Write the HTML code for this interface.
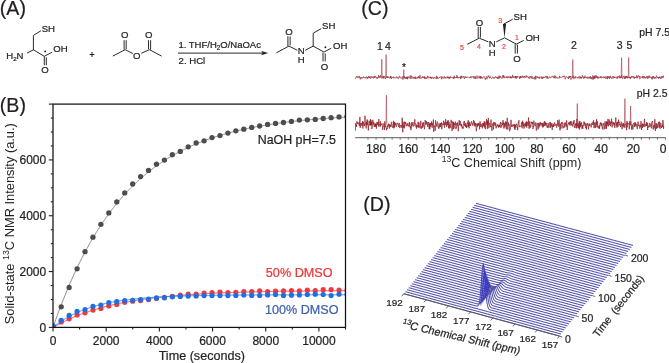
<!DOCTYPE html>
<html><head><meta charset="utf-8"><style>
html,body{margin:0;padding:0;background:#fff;width:669px;height:363px;overflow:hidden}
svg{display:block;will-change:transform}
text{font-family:"Liberation Sans", sans-serif;stroke-width:0.22px}
</style></head><body>
<svg width="669" height="363" viewBox="0 0 669 363">
<rect width="669" height="363" fill="#fff"/>
<text x="-0.20" y="14.70" font-size="19.6" fill="#231f20" stroke="#231f20" text-anchor="start" >(A)</text>
<text x="361.30" y="14.70" font-size="19.6" fill="#231f20" stroke="#231f20" text-anchor="start" >(C)</text>
<text x="-0.20" y="111.80" font-size="19.6" fill="#231f20" stroke="#231f20" text-anchor="start" >(B)</text>
<text x="363.30" y="210.90" font-size="19.6" fill="#231f20" stroke="#231f20" text-anchor="start" >(D)</text>
<defs><clipPath id="cpB"><rect x="53.0" y="104.1" width="292.5" height="223.29999999999998"/></clipPath></defs>
<polyline points="53.00,327.40 53.66,325.48 54.33,323.58 54.99,321.69 55.66,319.83 56.32,317.97 56.99,316.14 57.65,314.32 58.32,312.52 58.98,310.73 59.65,308.96 60.31,307.21 60.98,305.47 61.64,303.75 62.31,302.04 62.97,300.35 63.64,298.67 64.30,297.01 64.97,295.36 65.63,293.73 66.30,292.11 66.96,290.51 67.62,288.92 68.29,287.35 68.95,285.79 69.62,284.24 70.28,282.71 70.95,281.19 71.61,279.68 72.28,278.19 72.94,276.71 73.61,275.25 74.27,273.79 74.94,272.35 75.60,270.93 76.27,269.51 76.93,268.11 77.60,266.73 78.26,265.35 78.93,263.99 79.59,262.63 80.26,261.30 80.92,259.97 81.59,258.65 82.25,257.35 82.91,256.06 83.58,254.78 84.24,253.51 84.91,252.25 85.57,251.00 86.24,249.77 86.90,248.54 87.57,247.33 88.23,246.13 88.90,244.94 89.56,243.76 90.23,242.59 90.89,241.43 91.56,240.28 92.22,239.14 92.89,238.01 93.55,236.89 94.22,235.78 94.88,234.68 95.55,233.59 96.21,232.51 96.88,231.44 97.54,230.38 98.20,229.33 98.87,228.29 99.53,227.26 100.20,226.24 100.86,225.22 101.53,224.22 102.19,223.22 102.86,222.24 103.52,221.26 104.19,220.29 104.85,219.33 105.52,218.38 106.18,217.44 106.85,216.50 107.51,215.58 108.18,214.66 108.84,213.75 109.51,212.85 110.17,211.95 110.84,211.07 111.50,210.19 112.16,209.32 112.83,208.46 113.49,207.60 114.16,206.76 114.82,205.92 115.49,205.09 116.15,204.26 116.82,203.44 117.48,202.64 118.15,201.83 118.81,201.04 119.48,200.25 120.14,199.47 120.81,198.70 121.47,197.93 122.14,197.17 122.80,196.42 123.47,195.67 124.13,194.93 124.80,194.20 125.46,193.47 126.12,192.75 126.79,192.04 127.45,191.33 128.12,190.63 128.78,189.93 129.45,189.24 130.11,188.56 130.78,187.89 131.44,187.22 132.11,186.55 132.77,185.89 133.44,185.24 134.10,184.59 134.77,183.95 135.43,183.32 136.10,182.69 136.76,182.07 137.43,181.45 138.09,180.84 138.76,180.23 139.42,179.63 140.09,179.03 140.75,178.44 141.41,177.85 142.08,177.27 142.74,176.70 143.41,176.13 144.07,175.56 144.74,175.00 145.40,174.45 146.07,173.90 146.73,173.35 147.40,172.81 148.06,172.28 148.73,171.75 149.39,171.22 150.06,170.70 150.72,170.19 151.39,169.67 152.05,169.17 152.72,168.66 153.38,168.17 154.05,167.67 154.71,167.18 155.38,166.70 156.04,166.22 156.70,165.74 157.37,165.27 158.03,164.80 158.70,164.34 159.36,163.88 160.03,163.43 160.69,162.97 161.36,162.53 162.02,162.08 162.69,161.64 163.35,161.21 164.02,160.78 164.68,160.35 165.35,159.93 166.01,159.51 166.68,159.09 167.34,158.68 168.01,158.27 168.67,157.87 169.34,157.46 170.00,157.07 170.66,156.67 171.33,156.28 171.99,155.89 172.66,155.51 173.32,155.13 173.99,154.75 174.65,154.38 175.32,154.01 175.98,153.64 176.65,153.28 177.31,152.92 177.98,152.56 178.64,152.21 179.31,151.86 179.97,151.51 180.64,151.16 181.30,150.82 181.97,150.49 182.63,150.15 183.30,149.82 183.96,149.49 184.62,149.16 185.29,148.84 185.95,148.52 186.62,148.20 187.28,147.89 187.95,147.57 188.61,147.26 189.28,146.96 189.94,146.65 190.61,146.35 191.27,146.05 191.94,145.76 192.60,145.47 193.27,145.18 193.93,144.89 194.60,144.60 195.26,144.32 195.93,144.04 196.59,143.76 197.26,143.49 197.92,143.21 198.59,142.94 199.25,142.68 199.91,142.41 200.58,142.15 201.24,141.89 201.91,141.63 202.57,141.37 203.24,141.12 203.90,140.87 204.57,140.62 205.23,140.37 205.90,140.13 206.56,139.88 207.23,139.64 207.89,139.41 208.56,139.17 209.22,138.94 209.89,138.70 210.55,138.47 211.22,138.25 211.88,138.02 212.55,137.80 213.21,137.58 213.88,137.36 214.54,137.14 215.20,136.92 215.87,136.71 216.53,136.50 217.20,136.29 217.86,136.08 218.53,135.87 219.19,135.67 219.86,135.46 220.52,135.26 221.19,135.06 221.85,134.87 222.52,134.67 223.18,134.48 223.85,134.29 224.51,134.10 225.18,133.91 225.84,133.72 226.51,133.54 227.17,133.35 227.84,133.17 228.50,132.99 229.16,132.81 229.83,132.63 230.49,132.46 231.16,132.28 231.82,132.11 232.49,131.94 233.15,131.77 233.82,131.60 234.48,131.44 235.15,131.27 235.81,131.11 236.48,130.95 237.14,130.79 237.81,130.63 238.47,130.47 239.14,130.31 239.80,130.16 240.47,130.01 241.13,129.85 241.80,129.70 242.46,129.55 243.12,129.41 243.79,129.26 244.45,129.12 245.12,128.97 245.78,128.83 246.45,128.69 247.11,128.55 247.78,128.41 248.44,128.27 249.11,128.13 249.77,128.00 250.44,127.86 251.10,127.73 251.77,127.60 252.43,127.47 253.10,127.34 253.76,127.21 254.43,127.09 255.09,126.96 255.76,126.84 256.42,126.71 257.09,126.59 257.75,126.47 258.41,126.35 259.08,126.23 259.74,126.11 260.41,125.99 261.07,125.88 261.74,125.76 262.40,125.65 263.07,125.53 263.73,125.42 264.40,125.31 265.06,125.20 265.73,125.09 266.39,124.99 267.06,124.88 267.72,124.77 268.39,124.67 269.05,124.56 269.72,124.46 270.38,124.36 271.05,124.26 271.71,124.16 272.38,124.06 273.04,123.96 273.70,123.86 274.37,123.76 275.03,123.67 275.70,123.57 276.36,123.48 277.03,123.38 277.69,123.29 278.36,123.20 279.02,123.11 279.69,123.02 280.35,122.93 281.02,122.84 281.68,122.75 282.35,122.66 283.01,122.58 283.68,122.49 284.34,122.41 285.01,122.32 285.67,122.24 286.34,122.16 287.00,122.08 287.66,122.00 288.33,121.92 288.99,121.84 289.66,121.76 290.32,121.68 290.99,121.60 291.65,121.53 292.32,121.45 292.98,121.37 293.65,121.30 294.31,121.23 294.98,121.15 295.64,121.08 296.31,121.01 296.97,120.94 297.64,120.86 298.30,120.79 298.97,120.73 299.63,120.66 300.30,120.59 300.96,120.52 301.62,120.45 302.29,120.39 302.95,120.32 303.62,120.26 304.28,120.19 304.95,120.13 305.61,120.06 306.28,120.00 306.94,119.94 307.61,119.88 308.27,119.82 308.94,119.75 309.60,119.69 310.27,119.63 310.93,119.58 311.60,119.52 312.26,119.46 312.93,119.40 313.59,119.34 314.26,119.29 314.92,119.23 315.59,119.18 316.25,119.12 316.91,119.07 317.58,119.01 318.24,118.96 318.91,118.91 319.57,118.85 320.24,118.80 320.90,118.75 321.57,118.70 322.23,118.65 322.90,118.60 323.56,118.55 324.23,118.50 324.89,118.45 325.56,118.40 326.22,118.35 326.89,118.31 327.55,118.26 328.22,118.21 328.88,118.16 329.55,118.12 330.21,118.07 330.88,118.03 331.54,117.98 332.20,117.94 332.87,117.90 333.53,117.85 334.20,117.81 334.86,117.77 335.53,117.72 336.19,117.68 336.86,117.64 337.52,117.60 338.19,117.56 338.85,117.52 339.52,117.48 340.18,117.44 340.85,117.40 341.51,117.36 342.18,117.32 342.84,117.28 343.51,117.24 344.17,117.21 344.84,117.17 345.50,117.13" fill="none" stroke="#6d6e71" stroke-width="0.8" clip-path="url(#cpB)"/>
<g fill="#4d4d4f" clip-path="url(#cpB)"><circle cx="53.26" cy="327.30" r="2.65"/><circle cx="61.20" cy="306.80" r="2.65"/><circle cx="69.14" cy="287.50" r="2.65"/><circle cx="77.08" cy="268.80" r="2.65"/><circle cx="85.02" cy="251.70" r="2.65"/><circle cx="92.95" cy="237.20" r="2.65"/><circle cx="100.89" cy="224.30" r="2.65"/><circle cx="108.83" cy="212.90" r="2.65"/><circle cx="116.77" cy="201.90" r="2.65"/><circle cx="124.71" cy="192.90" r="2.65"/><circle cx="132.65" cy="184.00" r="2.65"/><circle cx="140.59" cy="176.60" r="2.65"/><circle cx="148.53" cy="170.40" r="2.65"/><circle cx="156.47" cy="164.20" r="2.65"/><circle cx="164.41" cy="160.10" r="2.65"/><circle cx="172.34" cy="154.70" r="2.65"/><circle cx="180.28" cy="151.40" r="2.65"/><circle cx="188.22" cy="146.80" r="2.65"/><circle cx="196.16" cy="143.00" r="2.65"/><circle cx="204.10" cy="140.80" r="2.65"/><circle cx="212.04" cy="137.60" r="2.65"/><circle cx="219.98" cy="135.60" r="2.65"/><circle cx="227.92" cy="133.10" r="2.65"/><circle cx="235.86" cy="130.80" r="2.65"/><circle cx="243.80" cy="129.20" r="2.65"/><circle cx="251.73" cy="127.40" r="2.65"/><circle cx="259.67" cy="126.00" r="2.65"/><circle cx="267.61" cy="124.40" r="2.65"/><circle cx="275.55" cy="123.40" r="2.65"/><circle cx="283.49" cy="122.50" r="2.65"/><circle cx="291.43" cy="121.40" r="2.65"/><circle cx="299.37" cy="120.10" r="2.65"/><circle cx="307.31" cy="119.80" r="2.65"/><circle cx="315.25" cy="119.40" r="2.65"/><circle cx="323.19" cy="118.50" r="2.65"/><circle cx="331.12" cy="117.70" r="2.65"/><circle cx="339.06" cy="116.90" r="2.65"/><circle cx="347.00" cy="116.60" r="2.65"/></g>
<polyline points="53.00,327.40 53.66,327.02 54.33,326.63 54.99,326.26 55.66,325.88 56.32,325.52 56.99,325.15 57.65,324.79 58.32,324.43 58.98,324.08 59.65,323.73 60.31,323.38 60.98,323.04 61.64,322.70 62.31,322.36 62.97,322.03 63.64,321.70 64.30,321.38 64.97,321.05 65.63,320.73 66.30,320.42 66.96,320.11 67.62,319.80 68.29,319.49 68.95,319.19 69.62,318.89 70.28,318.59 70.95,318.30 71.61,318.01 72.28,317.72 72.94,317.44 73.61,317.16 74.27,316.88 74.94,316.60 75.60,316.33 76.27,316.06 76.93,315.79 77.60,315.53 78.26,315.26 78.93,315.01 79.59,314.75 80.26,314.50 80.92,314.25 81.59,314.00 82.25,313.75 82.91,313.51 83.58,313.27 84.24,313.03 84.91,312.79 85.57,312.56 86.24,312.33 86.90,312.10 87.57,311.87 88.23,311.65 88.90,311.43 89.56,311.21 90.23,310.99 90.89,310.78 91.56,310.57 92.22,310.36 92.89,310.15 93.55,309.94 94.22,309.74 94.88,309.54 95.55,309.34 96.21,309.14 96.88,308.94 97.54,308.75 98.20,308.56 98.87,308.37 99.53,308.18 100.20,308.00 100.86,307.81 101.53,307.63 102.19,307.45 102.86,307.27 103.52,307.10 104.19,306.92 104.85,306.75 105.52,306.58 106.18,306.41 106.85,306.24 107.51,306.08 108.18,305.91 108.84,305.75 109.51,305.59 110.17,305.43 110.84,305.28 111.50,305.12 112.16,304.97 112.83,304.81 113.49,304.66 114.16,304.51 114.82,304.37 115.49,304.22 116.15,304.08 116.82,303.93 117.48,303.79 118.15,303.65 118.81,303.51 119.48,303.38 120.14,303.24 120.81,303.11 121.47,302.97 122.14,302.84 122.80,302.71 123.47,302.58 124.13,302.45 124.80,302.33 125.46,302.20 126.12,302.08 126.79,301.96 127.45,301.84 128.12,301.72 128.78,301.60 129.45,301.48 130.11,301.37 130.78,301.25 131.44,301.14 132.11,301.02 132.77,300.91 133.44,300.80 134.10,300.69 134.77,300.59 135.43,300.48 136.10,300.37 136.76,300.27 137.43,300.16 138.09,300.06 138.76,299.96 139.42,299.86 140.09,299.76 140.75,299.66 141.41,299.57 142.08,299.47 142.74,299.37 143.41,299.28 144.07,299.19 144.74,299.09 145.40,299.00 146.07,298.91 146.73,298.82 147.40,298.73 148.06,298.65 148.73,298.56 149.39,298.47 150.06,298.39 150.72,298.30 151.39,298.22 152.05,298.14 152.72,298.06 153.38,297.98 154.05,297.90 154.71,297.82 155.38,297.74 156.04,297.66 156.70,297.59 157.37,297.51 158.03,297.44 158.70,297.36 159.36,297.29 160.03,297.22 160.69,297.14 161.36,297.07 162.02,297.00 162.69,296.93 163.35,296.86 164.02,296.80 164.68,296.73 165.35,296.66 166.01,296.59 166.68,296.53 167.34,296.46 168.01,296.40 168.67,296.34 169.34,296.27 170.00,296.21 170.66,296.15 171.33,296.09 171.99,296.03 172.66,295.97 173.32,295.91 173.99,295.85 174.65,295.79 175.32,295.74 175.98,295.68 176.65,295.62 177.31,295.57 177.98,295.51 178.64,295.46 179.31,295.41 179.97,295.35 180.64,295.30 181.30,295.25 181.97,295.20 182.63,295.15 183.30,295.10 183.96,295.05 184.62,295.00 185.29,294.95 185.95,294.90 186.62,294.85 187.28,294.80 187.95,294.76 188.61,294.71 189.28,294.66 189.94,294.62 190.61,294.57 191.27,294.53 191.94,294.49 192.60,294.44 193.27,294.40 193.93,294.36 194.60,294.31 195.26,294.27 195.93,294.23 196.59,294.19 197.26,294.15 197.92,294.11 198.59,294.07 199.25,294.03 199.91,293.99 200.58,293.95 201.24,293.91 201.91,293.88 202.57,293.84 203.24,293.80 203.90,293.77 204.57,293.73 205.23,293.69 205.90,293.66 206.56,293.62 207.23,293.59 207.89,293.55 208.56,293.52 209.22,293.49 209.89,293.45 210.55,293.42 211.22,293.39 211.88,293.36 212.55,293.32 213.21,293.29 213.88,293.26 214.54,293.23 215.20,293.20 215.87,293.17 216.53,293.14 217.20,293.11 217.86,293.08 218.53,293.05 219.19,293.02 219.86,292.99 220.52,292.97 221.19,292.94 221.85,292.91 222.52,292.88 223.18,292.86 223.85,292.83 224.51,292.80 225.18,292.78 225.84,292.75 226.51,292.72 227.17,292.70 227.84,292.67 228.50,292.65 229.16,292.63 229.83,292.60 230.49,292.58 231.16,292.55 231.82,292.53 232.49,292.51 233.15,292.48 233.82,292.46 234.48,292.44 235.15,292.41 235.81,292.39 236.48,292.37 237.14,292.35 237.81,292.33 238.47,292.31 239.14,292.29 239.80,292.26 240.47,292.24 241.13,292.22 241.80,292.20 242.46,292.18 243.12,292.16 243.79,292.14 244.45,292.12 245.12,292.11 245.78,292.09 246.45,292.07 247.11,292.05 247.78,292.03 248.44,292.01 249.11,291.99 249.77,291.98 250.44,291.96 251.10,291.94 251.77,291.92 252.43,291.91 253.10,291.89 253.76,291.87 254.43,291.86 255.09,291.84 255.76,291.82 256.42,291.81 257.09,291.79 257.75,291.78 258.41,291.76 259.08,291.75 259.74,291.73 260.41,291.72 261.07,291.70 261.74,291.69 262.40,291.67 263.07,291.66 263.73,291.64 264.40,291.63 265.06,291.61 265.73,291.60 266.39,291.59 267.06,291.57 267.72,291.56 268.39,291.55 269.05,291.53 269.72,291.52 270.38,291.51 271.05,291.49 271.71,291.48 272.38,291.47 273.04,291.46 273.70,291.45 274.37,291.43 275.03,291.42 275.70,291.41 276.36,291.40 277.03,291.39 277.69,291.37 278.36,291.36 279.02,291.35 279.69,291.34 280.35,291.33 281.02,291.32 281.68,291.31 282.35,291.30 283.01,291.29 283.68,291.28 284.34,291.27 285.01,291.26 285.67,291.25 286.34,291.24 287.00,291.23 287.66,291.22 288.33,291.21 288.99,291.20 289.66,291.19 290.32,291.18 290.99,291.17 291.65,291.16 292.32,291.15 292.98,291.14 293.65,291.13 294.31,291.12 294.98,291.11 295.64,291.11 296.31,291.10 296.97,291.09 297.64,291.08 298.30,291.07 298.97,291.06 299.63,291.05 300.30,291.05 300.96,291.04 301.62,291.03 302.29,291.02 302.95,291.02 303.62,291.01 304.28,291.00 304.95,290.99 305.61,290.99 306.28,290.98 306.94,290.97 307.61,290.96 308.27,290.96 308.94,290.95 309.60,290.94 310.27,290.94 310.93,290.93 311.60,290.92 312.26,290.92 312.93,290.91 313.59,290.90 314.26,290.90 314.92,290.89 315.59,290.88 316.25,290.88 316.91,290.87 317.58,290.86 318.24,290.86 318.91,290.85 319.57,290.85 320.24,290.84 320.90,290.83 321.57,290.83 322.23,290.82 322.90,290.82 323.56,290.81 324.23,290.81 324.89,290.80 325.56,290.79 326.22,290.79 326.89,290.78 327.55,290.78 328.22,290.77 328.88,290.77 329.55,290.76 330.21,290.76 330.88,290.75 331.54,290.75 332.20,290.74 332.87,290.74 333.53,290.73 334.20,290.73 334.86,290.72 335.53,290.72 336.19,290.72 336.86,290.71 337.52,290.71 338.19,290.70 338.85,290.70 339.52,290.69 340.18,290.69 340.85,290.68 341.51,290.68 342.18,290.68 342.84,290.67 343.51,290.67 344.17,290.66 344.84,290.66 345.50,290.66" fill="none" stroke="#ef3b3f" stroke-width="0.9" clip-path="url(#cpB)"/>
<g fill="#ee3a3e" clip-path="url(#cpB)"><circle cx="53.26" cy="327.30" r="2.6"/><circle cx="61.20" cy="321.90" r="2.6"/><circle cx="69.14" cy="318.80" r="2.6"/><circle cx="77.08" cy="314.90" r="2.6"/><circle cx="85.02" cy="312.80" r="2.6"/><circle cx="92.95" cy="310.10" r="2.6"/><circle cx="100.89" cy="308.40" r="2.6"/><circle cx="108.83" cy="305.90" r="2.6"/><circle cx="116.77" cy="304.50" r="2.6"/><circle cx="124.71" cy="302.30" r="2.6"/><circle cx="132.65" cy="301.20" r="2.6"/><circle cx="140.59" cy="300.60" r="2.6"/><circle cx="148.53" cy="299.60" r="2.6"/><circle cx="156.47" cy="298.50" r="2.6"/><circle cx="164.41" cy="297.40" r="2.6"/><circle cx="172.34" cy="296.40" r="2.6"/><circle cx="180.28" cy="295.20" r="2.6"/><circle cx="188.22" cy="294.20" r="2.6"/><circle cx="196.16" cy="294.10" r="2.6"/><circle cx="204.10" cy="293.10" r="2.6"/><circle cx="212.04" cy="292.60" r="2.6"/><circle cx="219.98" cy="292.00" r="2.6"/><circle cx="227.92" cy="292.50" r="2.6"/><circle cx="235.86" cy="292.30" r="2.6"/><circle cx="243.80" cy="291.60" r="2.6"/><circle cx="251.73" cy="291.70" r="2.6"/><circle cx="259.67" cy="290.80" r="2.6"/><circle cx="267.61" cy="291.70" r="2.6"/><circle cx="275.55" cy="291.20" r="2.6"/><circle cx="283.49" cy="290.90" r="2.6"/><circle cx="291.43" cy="290.50" r="2.6"/><circle cx="299.37" cy="290.90" r="2.6"/><circle cx="307.31" cy="290.20" r="2.6"/><circle cx="315.25" cy="290.50" r="2.6"/><circle cx="323.19" cy="289.70" r="2.6"/><circle cx="331.12" cy="289.70" r="2.6"/><circle cx="339.06" cy="290.00" r="2.6"/><circle cx="347.00" cy="290.20" r="2.6"/></g>
<polyline points="53.00,327.40 53.66,326.86 54.33,326.33 54.99,325.81 55.66,325.29 56.32,324.79 56.99,324.29 57.65,323.80 58.32,323.32 58.98,322.85 59.65,322.39 60.31,321.93 60.98,321.48 61.64,321.04 62.31,320.60 62.97,320.18 63.64,319.76 64.30,319.34 64.97,318.94 65.63,318.54 66.30,318.14 66.96,317.76 67.62,317.38 68.29,317.00 68.95,316.63 69.62,316.27 70.28,315.92 70.95,315.57 71.61,315.22 72.28,314.88 72.94,314.55 73.61,314.22 74.27,313.90 74.94,313.58 75.60,313.27 76.27,312.97 76.93,312.67 77.60,312.37 78.26,312.08 78.93,311.79 79.59,311.51 80.26,311.23 80.92,310.96 81.59,310.69 82.25,310.43 82.91,310.17 83.58,309.91 84.24,309.66 84.91,309.42 85.57,309.17 86.24,308.94 86.90,308.70 87.57,308.47 88.23,308.24 88.90,308.02 89.56,307.80 90.23,307.58 90.89,307.37 91.56,307.16 92.22,306.96 92.89,306.76 93.55,306.56 94.22,306.36 94.88,306.17 95.55,305.98 96.21,305.80 96.88,305.61 97.54,305.43 98.20,305.26 98.87,305.08 99.53,304.91 100.20,304.74 100.86,304.58 101.53,304.42 102.19,304.26 102.86,304.10 103.52,303.94 104.19,303.79 104.85,303.64 105.52,303.50 106.18,303.35 106.85,303.21 107.51,303.07 108.18,302.93 108.84,302.80 109.51,302.66 110.17,302.53 110.84,302.40 111.50,302.28 112.16,302.15 112.83,302.03 113.49,301.91 114.16,301.79 114.82,301.67 115.49,301.56 116.15,301.45 116.82,301.34 117.48,301.23 118.15,301.12 118.81,301.01 119.48,300.91 120.14,300.81 120.81,300.71 121.47,300.61 122.14,300.51 122.80,300.42 123.47,300.32 124.13,300.23 124.80,300.14 125.46,300.05 126.12,299.96 126.79,299.88 127.45,299.79 128.12,299.71 128.78,299.63 129.45,299.55 130.11,299.47 130.78,299.39 131.44,299.31 132.11,299.24 132.77,299.16 133.44,299.09 134.10,299.02 134.77,298.95 135.43,298.88 136.10,298.81 136.76,298.74 137.43,298.68 138.09,298.61 138.76,298.55 139.42,298.48 140.09,298.42 140.75,298.36 141.41,298.30 142.08,298.24 142.74,298.18 143.41,298.13 144.07,298.07 144.74,298.02 145.40,297.96 146.07,297.91 146.73,297.86 147.40,297.81 148.06,297.75 148.73,297.71 149.39,297.66 150.06,297.61 150.72,297.56 151.39,297.51 152.05,297.47 152.72,297.42 153.38,297.38 154.05,297.34 154.71,297.29 155.38,297.25 156.04,297.21 156.70,297.17 157.37,297.13 158.03,297.09 158.70,297.05 159.36,297.01 160.03,296.97 160.69,296.94 161.36,296.90 162.02,296.87 162.69,296.83 163.35,296.80 164.02,296.76 164.68,296.73 165.35,296.70 166.01,296.66 166.68,296.63 167.34,296.60 168.01,296.57 168.67,296.54 169.34,296.51 170.00,296.48 170.66,296.45 171.33,296.42 171.99,296.40 172.66,296.37 173.32,296.34 173.99,296.31 174.65,296.29 175.32,296.26 175.98,296.24 176.65,296.21 177.31,296.19 177.98,296.17 178.64,296.14 179.31,296.12 179.97,296.10 180.64,296.07 181.30,296.05 181.97,296.03 182.63,296.01 183.30,295.99 183.96,295.97 184.62,295.95 185.29,295.93 185.95,295.91 186.62,295.89 187.28,295.87 187.95,295.85 188.61,295.83 189.28,295.81 189.94,295.80 190.61,295.78 191.27,295.76 191.94,295.75 192.60,295.73 193.27,295.71 193.93,295.70 194.60,295.68 195.26,295.66 195.93,295.65 196.59,295.63 197.26,295.62 197.92,295.61 198.59,295.59 199.25,295.58 199.91,295.56 200.58,295.55 201.24,295.54 201.91,295.52 202.57,295.51 203.24,295.50 203.90,295.49 204.57,295.47 205.23,295.46 205.90,295.45 206.56,295.44 207.23,295.43 207.89,295.41 208.56,295.40 209.22,295.39 209.89,295.38 210.55,295.37 211.22,295.36 211.88,295.35 212.55,295.34 213.21,295.33 213.88,295.32 214.54,295.31 215.20,295.30 215.87,295.29 216.53,295.28 217.20,295.27 217.86,295.27 218.53,295.26 219.19,295.25 219.86,295.24 220.52,295.23 221.19,295.22 221.85,295.22 222.52,295.21 223.18,295.20 223.85,295.19 224.51,295.19 225.18,295.18 225.84,295.17 226.51,295.16 227.17,295.16 227.84,295.15 228.50,295.14 229.16,295.14 229.83,295.13 230.49,295.12 231.16,295.12 231.82,295.11 232.49,295.11 233.15,295.10 233.82,295.09 234.48,295.09 235.15,295.08 235.81,295.08 236.48,295.07 237.14,295.07 237.81,295.06 238.47,295.05 239.14,295.05 239.80,295.04 240.47,295.04 241.13,295.03 241.80,295.03 242.46,295.02 243.12,295.02 243.79,295.02 244.45,295.01 245.12,295.01 245.78,295.00 246.45,295.00 247.11,294.99 247.78,294.99 248.44,294.99 249.11,294.98 249.77,294.98 250.44,294.97 251.10,294.97 251.77,294.97 252.43,294.96 253.10,294.96 253.76,294.96 254.43,294.95 255.09,294.95 255.76,294.94 256.42,294.94 257.09,294.94 257.75,294.93 258.41,294.93 259.08,294.93 259.74,294.93 260.41,294.92 261.07,294.92 261.74,294.92 262.40,294.91 263.07,294.91 263.73,294.91 264.40,294.91 265.06,294.90 265.73,294.90 266.39,294.90 267.06,294.89 267.72,294.89 268.39,294.89 269.05,294.89 269.72,294.89 270.38,294.88 271.05,294.88 271.71,294.88 272.38,294.88 273.04,294.87 273.70,294.87 274.37,294.87 275.03,294.87 275.70,294.87 276.36,294.86 277.03,294.86 277.69,294.86 278.36,294.86 279.02,294.86 279.69,294.85 280.35,294.85 281.02,294.85 281.68,294.85 282.35,294.85 283.01,294.84 283.68,294.84 284.34,294.84 285.01,294.84 285.67,294.84 286.34,294.84 287.00,294.83 287.66,294.83 288.33,294.83 288.99,294.83 289.66,294.83 290.32,294.83 290.99,294.83 291.65,294.82 292.32,294.82 292.98,294.82 293.65,294.82 294.31,294.82 294.98,294.82 295.64,294.82 296.31,294.82 296.97,294.81 297.64,294.81 298.30,294.81 298.97,294.81 299.63,294.81 300.30,294.81 300.96,294.81 301.62,294.81 302.29,294.81 302.95,294.80 303.62,294.80 304.28,294.80 304.95,294.80 305.61,294.80 306.28,294.80 306.94,294.80 307.61,294.80 308.27,294.80 308.94,294.80 309.60,294.79 310.27,294.79 310.93,294.79 311.60,294.79 312.26,294.79 312.93,294.79 313.59,294.79 314.26,294.79 314.92,294.79 315.59,294.79 316.25,294.79 316.91,294.79 317.58,294.79 318.24,294.78 318.91,294.78 319.57,294.78 320.24,294.78 320.90,294.78 321.57,294.78 322.23,294.78 322.90,294.78 323.56,294.78 324.23,294.78 324.89,294.78 325.56,294.78 326.22,294.78 326.89,294.78 327.55,294.78 328.22,294.78 328.88,294.77 329.55,294.77 330.21,294.77 330.88,294.77 331.54,294.77 332.20,294.77 332.87,294.77 333.53,294.77 334.20,294.77 334.86,294.77 335.53,294.77 336.19,294.77 336.86,294.77 337.52,294.77 338.19,294.77 338.85,294.77 339.52,294.77 340.18,294.77 340.85,294.77 341.51,294.77 342.18,294.77 342.84,294.77 343.51,294.76 344.17,294.76 344.84,294.76 345.50,294.76" fill="none" stroke="#2f80e8" stroke-width="0.9" clip-path="url(#cpB)"/>
<g fill="#1f6fe0" clip-path="url(#cpB)"><circle cx="53.26" cy="325.90" r="2.6"/><circle cx="61.20" cy="320.30" r="2.6"/><circle cx="69.14" cy="315.40" r="2.6"/><circle cx="77.08" cy="311.40" r="2.6"/><circle cx="85.02" cy="309.50" r="2.6"/><circle cx="92.95" cy="306.40" r="2.6"/><circle cx="100.89" cy="305.10" r="2.6"/><circle cx="108.83" cy="302.70" r="2.6"/><circle cx="116.77" cy="301.70" r="2.6"/><circle cx="124.71" cy="300.70" r="2.6"/><circle cx="132.65" cy="300.30" r="2.6"/><circle cx="140.59" cy="299.60" r="2.6"/><circle cx="148.53" cy="299.00" r="2.6"/><circle cx="156.47" cy="297.90" r="2.6"/><circle cx="164.41" cy="297.80" r="2.6"/><circle cx="172.34" cy="296.80" r="2.6"/><circle cx="180.28" cy="296.40" r="2.6"/><circle cx="188.22" cy="296.10" r="2.6"/><circle cx="196.16" cy="296.00" r="2.6"/><circle cx="204.10" cy="295.60" r="2.6"/><circle cx="212.04" cy="295.60" r="2.6"/><circle cx="219.98" cy="295.60" r="2.6"/><circle cx="227.92" cy="295.60" r="2.6"/><circle cx="235.86" cy="295.50" r="2.6"/><circle cx="243.80" cy="295.00" r="2.6"/><circle cx="251.73" cy="295.40" r="2.6"/><circle cx="259.67" cy="295.40" r="2.6"/><circle cx="267.61" cy="294.90" r="2.6"/><circle cx="275.55" cy="294.50" r="2.6"/><circle cx="283.49" cy="295.40" r="2.6"/><circle cx="291.43" cy="295.20" r="2.6"/><circle cx="299.37" cy="294.90" r="2.6"/><circle cx="307.31" cy="294.50" r="2.6"/><circle cx="315.25" cy="294.20" r="2.6"/><circle cx="323.19" cy="294.50" r="2.6"/><circle cx="331.12" cy="295.60" r="2.6"/><circle cx="339.06" cy="294.20" r="2.6"/><circle cx="347.00" cy="294.50" r="2.6"/></g>
<rect x="53.0" y="104.1" width="292.5" height="223.29999999999998" fill="none" stroke="#111" stroke-width="1.25"/>
<line x1="48.80" y1="327.40" x2="53.00" y2="327.40" stroke="#231f20" stroke-width="1.1" />
<text x="46.20" y="331.80" font-size="12" fill="#231f20" stroke="#231f20" text-anchor="end" >0</text>
<line x1="50.80" y1="313.44" x2="53.00" y2="313.44" stroke="#231f20" stroke-width="1.1" />
<line x1="50.80" y1="299.49" x2="53.00" y2="299.49" stroke="#231f20" stroke-width="1.1" />
<line x1="50.80" y1="285.53" x2="53.00" y2="285.53" stroke="#231f20" stroke-width="1.1" />
<line x1="48.80" y1="271.57" x2="53.00" y2="271.57" stroke="#231f20" stroke-width="1.1" />
<text x="46.20" y="275.97" font-size="12" fill="#231f20" stroke="#231f20" text-anchor="end" >2000</text>
<line x1="50.80" y1="257.62" x2="53.00" y2="257.62" stroke="#231f20" stroke-width="1.1" />
<line x1="50.80" y1="243.66" x2="53.00" y2="243.66" stroke="#231f20" stroke-width="1.1" />
<line x1="50.80" y1="229.71" x2="53.00" y2="229.71" stroke="#231f20" stroke-width="1.1" />
<line x1="48.80" y1="215.75" x2="53.00" y2="215.75" stroke="#231f20" stroke-width="1.1" />
<text x="46.20" y="220.15" font-size="12" fill="#231f20" stroke="#231f20" text-anchor="end" >4000</text>
<line x1="50.80" y1="201.79" x2="53.00" y2="201.79" stroke="#231f20" stroke-width="1.1" />
<line x1="50.80" y1="187.84" x2="53.00" y2="187.84" stroke="#231f20" stroke-width="1.1" />
<line x1="50.80" y1="173.88" x2="53.00" y2="173.88" stroke="#231f20" stroke-width="1.1" />
<line x1="48.80" y1="159.92" x2="53.00" y2="159.92" stroke="#231f20" stroke-width="1.1" />
<text x="46.20" y="164.32" font-size="12" fill="#231f20" stroke="#231f20" text-anchor="end" >6000</text>
<line x1="50.80" y1="145.97" x2="53.00" y2="145.97" stroke="#231f20" stroke-width="1.1" />
<line x1="50.80" y1="132.01" x2="53.00" y2="132.01" stroke="#231f20" stroke-width="1.1" />
<line x1="50.80" y1="118.06" x2="53.00" y2="118.06" stroke="#231f20" stroke-width="1.1" />
<line x1="48.80" y1="104.10" x2="53.00" y2="104.10" stroke="#231f20" stroke-width="1.1" />
<line x1="53.00" y1="327.40" x2="53.00" y2="331.60" stroke="#231f20" stroke-width="1.1" />
<text x="53.00" y="345.30" font-size="12" fill="#231f20" stroke="#231f20" text-anchor="middle" >0</text>
<line x1="79.59" y1="327.40" x2="79.59" y2="329.60" stroke="#231f20" stroke-width="1.1" />
<line x1="106.18" y1="327.40" x2="106.18" y2="331.60" stroke="#231f20" stroke-width="1.1" />
<text x="106.18" y="345.30" font-size="12" fill="#231f20" stroke="#231f20" text-anchor="middle" >2000</text>
<line x1="132.77" y1="327.40" x2="132.77" y2="329.60" stroke="#231f20" stroke-width="1.1" />
<line x1="159.36" y1="327.40" x2="159.36" y2="331.60" stroke="#231f20" stroke-width="1.1" />
<text x="159.36" y="345.30" font-size="12" fill="#231f20" stroke="#231f20" text-anchor="middle" >4000</text>
<line x1="185.95" y1="327.40" x2="185.95" y2="329.60" stroke="#231f20" stroke-width="1.1" />
<line x1="212.55" y1="327.40" x2="212.55" y2="331.60" stroke="#231f20" stroke-width="1.1" />
<text x="212.55" y="345.30" font-size="12" fill="#231f20" stroke="#231f20" text-anchor="middle" >6000</text>
<line x1="239.14" y1="327.40" x2="239.14" y2="329.60" stroke="#231f20" stroke-width="1.1" />
<line x1="265.73" y1="327.40" x2="265.73" y2="331.60" stroke="#231f20" stroke-width="1.1" />
<text x="265.73" y="345.30" font-size="12" fill="#231f20" stroke="#231f20" text-anchor="middle" >8000</text>
<line x1="292.32" y1="327.40" x2="292.32" y2="329.60" stroke="#231f20" stroke-width="1.1" />
<line x1="318.91" y1="327.40" x2="318.91" y2="331.60" stroke="#231f20" stroke-width="1.1" />
<text x="318.91" y="345.30" font-size="12" fill="#231f20" stroke="#231f20" text-anchor="middle" >10000</text>
<line x1="345.50" y1="327.40" x2="345.50" y2="329.60" stroke="#231f20" stroke-width="1.1" />
<text x="201.80" y="359.60" font-size="12.6" fill="#231f20" stroke="#231f20" text-anchor="middle" >Time (seconds)</text>
<text transform="translate(14.2,223.7) rotate(-90)" font-size="12.85" fill="#231f20" text-anchor="middle">Solid-state <tspan font-size="8.8" dy="-4.8">13</tspan><tspan dy="4.8">C NMR Intensity (a.u.)</tspan></text>
<text x="296.80" y="143.60" font-size="12.4" fill="#231f20" stroke="#231f20" text-anchor="middle" >NaOH pH=7.5</text>
<text x="299.20" y="276.70" font-size="12.65" fill="#f03434" stroke="#f03434" text-anchor="middle" >50% DMSO</text>
<text x="301.80" y="313.60" font-size="12.6" fill="#3d62ae" stroke="#3d62ae" text-anchor="middle" >100% DMSO</text>
<polyline points="355.20,78.49 355.50,78.63 355.80,77.46 356.10,76.75 356.40,76.47 356.70,77.43 357.00,76.53 357.30,76.18 357.60,77.57 357.90,77.51 358.20,77.86 358.50,76.62 358.80,77.40 359.10,77.34 359.40,76.12 359.70,77.86 360.00,77.67 360.30,79.43 360.60,77.57 360.90,77.28 361.20,78.45 361.50,77.57 361.80,78.17 362.10,77.09 362.40,77.59 362.70,78.27 363.00,77.99 363.30,77.51 363.60,76.48 363.90,77.78 364.20,77.47 364.50,78.01 364.80,77.58 365.10,78.32 365.40,77.36 365.70,77.57 366.00,77.97 366.30,76.48 366.60,77.06 366.90,76.97 367.20,79.08 367.50,77.32 367.80,77.95 368.10,77.93 368.40,77.16 368.70,76.08 369.00,78.22 369.30,77.05 369.60,78.01 369.90,76.29 370.20,77.03 370.50,78.47 370.80,78.62 371.10,76.29 371.40,76.27 371.70,77.36 372.00,78.02 372.30,77.54 372.60,77.66 372.90,76.56 373.20,77.90 373.50,78.35 373.80,77.03 374.10,76.18 374.40,76.76 374.70,78.05 375.00,75.93 375.30,77.32 375.60,76.56 375.90,77.29 376.20,77.19 376.50,77.41 376.80,78.68 377.10,77.76 377.40,78.53 377.70,77.28 378.00,76.99 378.30,77.72 378.60,74.99 378.90,77.37 379.20,77.54 379.50,76.35 379.80,77.79 380.10,76.92 380.40,75.31 380.70,77.22 381.00,76.57 381.30,76.96 381.60,77.27 381.90,78.46 382.20,77.49 382.50,77.38 382.80,77.73 383.10,75.86 383.40,78.45 383.70,76.48 384.00,77.77 384.30,76.44 384.60,76.57 384.90,77.06 385.20,79.01 385.50,77.99 385.80,76.89 386.10,77.16 386.40,76.42 386.70,77.37 387.00,76.91 387.30,78.01 387.60,76.25 387.90,77.12 388.20,76.68 388.50,76.79 388.80,78.00 389.10,77.51 389.40,77.90 389.70,78.41 390.00,78.38 390.30,76.23 390.60,77.86 390.90,75.90 391.20,77.35 391.50,79.03 391.80,77.24 392.10,77.09 392.40,77.54 392.70,77.42 393.00,77.42 393.30,76.76 393.60,78.32 393.90,78.16 394.20,77.22 394.50,77.67 394.80,77.96 395.10,78.28 395.40,77.73 395.70,77.99 396.00,77.18 396.30,76.49 396.60,76.98 396.90,78.27 397.20,78.23 397.50,77.52 397.80,76.92 398.10,77.66 398.40,78.81 398.70,78.55 399.00,76.82 399.30,77.36 399.60,76.17 399.90,76.43 400.20,77.56 400.50,77.42 400.80,78.22 401.10,78.48 401.40,78.11 401.70,78.52 402.00,76.93 402.30,76.44 402.60,77.83 402.90,79.68 403.20,77.70 403.50,76.42 403.80,77.61 404.10,78.61 404.40,76.52 404.70,78.08 405.00,76.88 405.30,78.48 405.60,78.07 405.90,77.66 406.20,79.10 406.50,77.05 406.80,76.82 407.10,78.98 407.40,76.66 407.70,79.27 408.00,77.37 408.30,76.52 408.60,77.40 408.90,77.51 409.20,77.57 409.50,77.24 409.80,78.32 410.10,75.43 410.40,76.93 410.70,77.18 411.00,78.95 411.30,75.71 411.60,77.11 411.90,76.43 412.20,76.83 412.50,77.94 412.80,77.75 413.10,78.62 413.40,76.89 413.70,77.63 414.00,78.40 414.30,78.17 414.60,77.11 414.90,78.36 415.20,76.61 415.50,78.93 415.80,77.53 416.10,77.30 416.40,77.63 416.70,78.12 417.00,78.88 417.30,77.28 417.60,77.09 417.90,77.90 418.20,76.66 418.50,75.96 418.80,78.11 419.10,77.08 419.40,78.36 419.70,76.53 420.00,74.94 420.30,77.64 420.60,77.53 420.90,78.76 421.20,77.85 421.50,77.66 421.80,77.90 422.10,77.09 422.40,77.47 422.70,76.25 423.00,77.84 423.30,76.72 423.60,77.02 423.90,77.99 424.20,78.18 424.50,76.54 424.80,79.10 425.10,76.90 425.40,78.11 425.70,78.21 426.00,77.59 426.30,77.55 426.60,78.93 426.90,78.16 427.20,77.78 427.50,75.85 427.80,76.76 428.10,78.39 428.40,77.56 428.70,76.59 429.00,76.85 429.30,77.14 429.60,77.98 429.90,77.73 430.20,78.25 430.50,76.71 430.80,78.24 431.10,76.97 431.40,77.15 431.70,78.87 432.00,77.46 432.30,77.28 432.60,77.22 432.90,77.07 433.20,78.73 433.50,78.57 433.80,78.01 434.10,77.56 434.40,78.29 434.70,77.33 435.00,77.78 435.30,77.74 435.60,77.48 435.90,78.80 436.20,78.89 436.50,78.53 436.80,75.77 437.10,78.96 437.40,78.00 437.70,77.02 438.00,77.38 438.30,78.37 438.60,78.40 438.90,78.13 439.20,77.52 439.50,77.43 439.80,78.11 440.10,77.32 440.40,76.64 440.70,76.87 441.00,77.28 441.30,77.68 441.60,79.32 441.90,76.24 442.20,77.81 442.50,77.32 442.80,77.66 443.10,78.55 443.40,78.46 443.70,77.27 444.00,76.93 444.30,76.24 444.60,77.34 444.90,78.46 445.20,77.17 445.50,78.00 445.80,78.00 446.10,77.74 446.40,78.32 446.70,77.30 447.00,76.69 447.30,76.40 447.60,78.19 447.90,77.09 448.20,77.14 448.50,78.11 448.80,76.73 449.10,78.90 449.40,77.97 449.70,76.95 450.00,76.86 450.30,78.32 450.60,76.39 450.90,76.86 451.20,77.41 451.50,77.57 451.80,77.41 452.10,77.73 452.40,77.09 452.70,77.30 453.00,78.48 453.30,77.95 453.60,77.02 453.90,78.86 454.20,75.71 454.50,77.47 454.80,77.97 455.10,78.23 455.40,77.49 455.70,77.07 456.00,77.90 456.30,77.24 456.60,77.80 456.90,74.97 457.20,77.72 457.50,76.73 457.80,78.20 458.10,78.04 458.40,78.02 458.70,77.06 459.00,77.77 459.30,77.11 459.60,77.58 459.90,77.28 460.20,76.66 460.50,79.08 460.80,78.02 461.10,75.65 461.40,78.16 461.70,76.21 462.00,77.20 462.30,76.91 462.60,76.95 462.90,77.60 463.20,77.12 463.50,76.17 463.80,77.39 464.10,77.71 464.40,78.90 464.70,77.05 465.00,76.39 465.30,77.08 465.60,77.96 465.90,76.65 466.20,76.79 466.50,77.87 466.80,77.39 467.10,77.59 467.40,76.87 467.70,76.70 468.00,77.12 468.30,77.27 468.60,77.12 468.90,77.77 469.20,77.87 469.50,77.87 469.80,77.81 470.10,76.65 470.40,76.45 470.70,78.08 471.00,77.41 471.30,77.50 471.60,76.41 471.90,77.22 472.20,76.86 472.50,76.67 472.80,76.86 473.10,76.13 473.40,77.47 473.70,78.39 474.00,76.80 474.30,77.48 474.60,76.47 474.90,77.97 475.20,78.98 475.50,76.35 475.80,77.21 476.10,78.61 476.40,77.71 476.70,77.50 477.00,75.66 477.30,77.27 477.60,78.18 477.90,78.62 478.20,77.95 478.50,76.91 478.80,76.82 479.10,75.85 479.40,76.49 479.70,78.35 480.00,77.30 480.30,76.26 480.60,78.52 480.90,75.98 481.20,78.47 481.50,77.13 481.80,77.69 482.10,77.98 482.40,77.62 482.70,78.48 483.00,77.41 483.30,77.12 483.60,76.84 483.90,76.17 484.20,76.81 484.50,78.23 484.80,78.10 485.10,78.58 485.40,79.72 485.70,78.01 486.00,77.83 486.30,76.28 486.60,77.19 486.90,79.27 487.20,77.85 487.50,77.28 487.80,77.66 488.10,75.79 488.40,76.69 488.70,76.29 489.00,75.58 489.30,78.05 489.60,78.22 489.90,77.25 490.20,77.69 490.50,76.54 490.80,77.78 491.10,78.05 491.40,78.70 491.70,78.73 492.00,77.81 492.30,77.29 492.60,76.70 492.90,76.89 493.20,77.92 493.50,77.88 493.80,77.42 494.10,78.81 494.40,77.95 494.70,77.41 495.00,77.24 495.30,77.47 495.60,76.59 495.90,76.57 496.20,77.70 496.50,76.90 496.80,77.17 497.10,78.44 497.40,77.24 497.70,78.52 498.00,77.39 498.30,78.69 498.60,77.79 498.90,75.91 499.20,78.45 499.50,77.22 499.80,75.73 500.10,77.50 500.40,77.53 500.70,76.30 501.00,76.88 501.30,77.87 501.60,78.60 501.90,78.37 502.20,78.44 502.50,78.35 502.80,75.29 503.10,76.78 503.40,77.56 503.70,75.11 504.00,78.05 504.30,78.16 504.60,76.74 504.90,77.08 505.20,76.60 505.50,77.38 505.80,77.37 506.10,77.39 506.40,76.53 506.70,77.73 507.00,77.11 507.30,78.21 507.60,77.67 507.90,76.14 508.20,76.17 508.50,77.46 508.80,76.99 509.10,77.80 509.40,78.09 509.70,77.42 510.00,75.97 510.30,76.38 510.60,77.89 510.90,76.51 511.20,78.34 511.50,77.32 511.80,77.84 512.10,76.65 512.40,77.32 512.70,74.88 513.00,77.22 513.30,77.89 513.60,76.64 513.90,76.68 514.20,77.35 514.50,77.46 514.80,76.71 515.10,77.97 515.40,76.00 515.70,78.35 516.00,76.21 516.30,76.70 516.60,78.53 516.90,76.55 517.20,75.99 517.50,77.46 517.80,76.62 518.10,76.45 518.40,76.80 518.70,76.77 519.00,76.57 519.30,76.53 519.60,78.77 519.90,76.83 520.20,78.23 520.50,76.21 520.80,77.86 521.10,76.34 521.40,77.01 521.70,77.94 522.00,76.95 522.30,75.73 522.60,76.93 522.90,77.27 523.20,77.89 523.50,76.55 523.80,77.15 524.10,77.45 524.40,76.00 524.70,77.31 525.00,76.70 525.30,77.77 525.60,77.31 525.90,77.26 526.20,75.35 526.50,77.31 526.80,77.08 527.10,76.60 527.40,76.97 527.70,76.33 528.00,77.55 528.30,77.96 528.60,77.91 528.90,76.96 529.20,78.83 529.50,78.13 529.80,76.59 530.10,77.28 530.40,76.01 530.70,77.30 531.00,78.01 531.30,78.48 531.60,77.04 531.90,75.88 532.20,77.26 532.50,78.56 532.80,77.52 533.10,78.48 533.40,78.10 533.70,78.73 534.00,77.91 534.30,76.84 534.60,77.78 534.90,79.56 535.20,76.96 535.50,75.82 535.80,79.19 536.10,77.75 536.40,76.87 536.70,76.88 537.00,76.09 537.30,78.00 537.60,77.52 537.90,76.86 538.20,77.04 538.50,77.04 538.80,78.31 539.10,77.24 539.40,78.57 539.70,76.69 540.00,76.88 540.30,76.99 540.60,76.94 540.90,77.32 541.20,78.27 541.50,78.43 541.80,76.49 542.10,78.49 542.40,77.48 542.70,78.75 543.00,77.26 543.30,76.69 543.60,78.07 543.90,77.93 544.20,77.01 544.50,77.42 544.80,77.51 545.10,77.66 545.40,75.94 545.70,76.38 546.00,77.45 546.30,77.62 546.60,76.95 546.90,75.90 547.20,78.54 547.50,77.14 547.80,76.51 548.10,78.76 548.40,78.36 548.70,78.28 549.00,78.11 549.30,77.88 549.60,76.57 549.90,77.43 550.20,77.70 550.50,77.94 550.80,77.80 551.10,76.54 551.40,76.89 551.70,77.12 552.00,77.23 552.30,76.66 552.60,75.85 552.90,76.37 553.20,77.66 553.50,77.39 553.80,77.89 554.10,75.80 554.40,77.05 554.70,78.16 555.00,75.73 555.30,76.48 555.60,75.98 555.90,78.43 556.20,77.43 556.50,76.91 556.80,77.53 557.10,77.32 557.40,78.17 557.70,78.39 558.00,78.18 558.30,77.69 558.60,78.05 558.90,78.09 559.20,78.39 559.50,75.84 559.80,77.69 560.10,77.47 560.40,77.54 560.70,77.19 561.00,77.34 561.30,77.82 561.60,77.57 561.90,77.51 562.20,76.49 562.50,76.33 562.80,76.76 563.10,75.88 563.40,76.96 563.70,76.68 564.00,75.87 564.30,75.75 564.60,77.00 564.90,76.91 565.20,79.25 565.50,78.13 565.80,76.74 566.10,76.98 566.40,76.54 566.70,76.73 567.00,77.10 567.30,77.36 567.60,76.87 567.90,78.10 568.20,77.95 568.50,79.06 568.80,76.29 569.10,77.97 569.40,77.08 569.70,76.03 570.00,77.14 570.30,76.00 570.60,77.38 570.90,79.73 571.20,78.51 571.50,78.95 571.80,78.42 572.10,76.08 572.40,77.75 572.70,77.52 573.00,77.77 573.30,76.52 573.60,75.71 573.90,79.19 574.20,78.41 574.50,77.66 574.80,76.98 575.10,77.56 575.40,76.35 575.70,78.22 576.00,77.54 576.30,77.27 576.60,77.03 576.90,77.34 577.20,77.51 577.50,77.06 577.80,78.22 578.10,77.58 578.40,77.32 578.70,76.67 579.00,78.44 579.30,78.50 579.60,77.99 579.90,75.83 580.20,77.10 580.50,78.24 580.80,77.43 581.10,78.48 581.40,77.03 581.70,78.08 582.00,77.85 582.30,75.32 582.60,77.05 582.90,77.20 583.20,76.87 583.50,76.64 583.80,78.75 584.10,77.30 584.40,78.07 584.70,76.26 585.00,75.63 585.30,77.00 585.60,77.75 585.90,76.79 586.20,77.85 586.50,78.08 586.80,77.02 587.10,77.35 587.40,76.77 587.70,78.32 588.00,78.90 588.30,77.82 588.60,76.97 588.90,76.80 589.20,77.16 589.50,78.16 589.80,76.76 590.10,78.66 590.40,76.36 590.70,77.39 591.00,78.52 591.30,78.92 591.60,77.05 591.90,78.07 592.20,79.55 592.50,78.39 592.80,75.54 593.10,77.64 593.40,79.42 593.70,76.41 594.00,78.18 594.30,75.63 594.60,78.75 594.90,76.68 595.20,78.09 595.50,78.17 595.80,75.04 596.10,76.18 596.40,77.68 596.70,76.11 597.00,77.38 597.30,76.59 597.60,78.54 597.90,76.97 598.20,76.62 598.50,77.95 598.80,78.44 599.10,77.27 599.40,77.64 599.70,77.82 600.00,76.98 600.30,76.39 600.60,77.85 600.90,77.10 601.20,76.24 601.50,78.13 601.80,77.77 602.10,77.52 602.40,76.76 602.70,77.21 603.00,77.92 603.30,77.81 603.60,76.70 603.90,76.63 604.20,77.69 604.50,77.56 604.80,78.12 605.10,76.42 605.40,78.18 605.70,78.90 606.00,78.21 606.30,77.51 606.60,78.17 606.90,76.31 607.20,77.02 607.50,79.15 607.80,76.01 608.10,76.42 608.40,78.10 608.70,76.84 609.00,76.92 609.30,76.45 609.60,78.83 609.90,76.88 610.20,77.16 610.50,75.86 610.80,78.05 611.10,77.39 611.40,77.82 611.70,78.74 612.00,77.53 612.30,76.39 612.60,76.54 612.90,77.47 613.20,78.52 613.50,76.38 613.80,77.19 614.10,77.28 614.40,77.96 614.70,76.64 615.00,77.66 615.30,78.07 615.60,77.37 615.90,77.32 616.20,77.93 616.50,77.89 616.80,78.47 617.10,76.48 617.40,78.45 617.70,77.21 618.00,76.43 618.30,76.93 618.60,76.35 618.90,77.23 619.20,78.28 619.50,75.49 619.80,76.39 620.10,78.05 620.40,77.14 620.70,78.07 621.00,76.27 621.30,77.36 621.60,75.18 621.90,76.68 622.20,78.03 622.50,78.43 622.80,78.79 623.10,77.35 623.40,76.65 623.70,77.07 624.00,75.77 624.30,78.55 624.60,78.40 624.90,76.63 625.20,78.96 625.50,76.25 625.80,77.88 626.10,76.71 626.40,75.92 626.70,77.74 627.00,76.42 627.30,78.41 627.60,76.64 627.90,77.49 628.20,76.99 628.50,77.52 628.80,76.86 629.10,78.10 629.40,77.92 629.70,77.46 630.00,77.29 630.30,79.08 630.60,76.81 630.90,77.03 631.20,78.06 631.50,77.39 631.80,76.01 632.10,77.28 632.40,77.07 632.70,76.55 633.00,77.57 633.30,76.43 633.60,77.19 633.90,76.43 634.20,78.73 634.50,77.16 634.80,77.78 635.10,77.64 635.40,78.00 635.70,77.27 636.00,78.04 636.30,77.51 636.60,75.32 636.90,77.67 637.20,76.30 637.50,78.21 637.80,77.59 638.10,77.08 638.40,75.26 638.70,75.58 639.00,76.40 639.30,77.08 639.60,76.23 639.90,79.09 640.20,77.79 640.50,77.32 640.80,76.56 641.10,77.11 641.40,77.20 641.70,77.02 642.00,77.33 642.30,78.08 642.60,75.90 642.90,77.59 643.20,78.34 643.50,76.24 643.80,77.24 644.10,77.07 644.40,76.43 644.70,78.21 645.00,77.12 645.30,78.37 645.60,77.75 645.90,77.16 646.20,77.64 646.50,77.08 646.80,76.00 647.10,78.61 647.40,77.71 647.70,78.38 648.00,75.86 648.30,78.29 648.60,78.10 648.90,77.37 649.20,75.60 649.50,77.49 649.80,76.83 650.10,77.24 650.40,77.45 650.70,76.63 651.00,77.29 651.30,77.41 651.60,78.64 651.90,77.31 652.20,79.40 652.50,76.39 652.80,77.28 653.10,78.45 653.40,76.06 653.70,77.93 654.00,77.74 654.30,76.89 654.60,77.20 654.90,78.71 655.20,77.02 655.50,77.64 655.80,77.77 656.10,78.43 656.40,75.64 656.70,76.15 657.00,76.26 657.30,77.16 657.60,77.92 657.90,78.11 658.20,77.16 658.50,78.69 658.80,77.34 659.10,77.99 659.40,76.75 659.70,78.11 660.00,76.79 660.30,78.39 660.60,78.13 660.90,78.99 661.20,77.04 661.50,76.41 661.80,78.11 662.10,77.67 662.40,76.95 662.70,76.26 663.00,78.08 663.30,75.74 663.60,77.00" fill="none" stroke="#8e1c26" stroke-width="0.6" stroke-linejoin="round"/>
<polyline points="381.35,77.40 381.80,59.20 382.15,75.90 382.70,77.70" fill="none" stroke="#a23a48" stroke-width="0.6" stroke-linejoin="round"/>
<polyline points="385.65,77.40 386.10,54.60 386.45,75.90 387.00,77.70" fill="none" stroke="#a23a48" stroke-width="0.6" stroke-linejoin="round"/>
<polyline points="403.35,77.40 403.80,69.60 404.15,75.90 404.70,77.70" fill="none" stroke="#a23a48" stroke-width="0.6" stroke-linejoin="round"/>
<polyline points="572.35,77.40 572.80,59.50 573.15,75.90 573.70,77.70" fill="none" stroke="#a23a48" stroke-width="0.6" stroke-linejoin="round"/>
<polyline points="621.15,77.40 621.60,57.60 621.95,75.90 622.50,77.70" fill="none" stroke="#a23a48" stroke-width="0.6" stroke-linejoin="round"/>
<polyline points="628.25,77.40 628.70,57.60 629.05,75.90 629.60,77.70" fill="none" stroke="#a23a48" stroke-width="0.6" stroke-linejoin="round"/>
<polyline points="355.40,130.75 355.70,123.24 356.00,125.89 356.30,125.27 356.60,126.99 356.90,121.39 357.20,123.86 357.50,123.02 357.80,122.21 358.10,122.79 358.40,123.62 358.70,124.18 359.00,122.63 359.30,125.96 359.60,123.53 359.90,116.91 360.20,127.88 360.50,123.92 360.80,123.04 361.10,125.57 361.40,125.47 361.70,125.03 362.00,122.76 362.30,125.38 362.60,121.06 362.90,128.51 363.20,121.74 363.50,124.38 363.80,124.95 364.10,125.45 364.40,124.28 364.70,126.11 365.00,115.81 365.30,124.32 365.60,124.18 365.90,123.49 366.20,128.40 366.50,122.13 366.80,124.37 367.10,119.48 367.40,125.26 367.70,120.50 368.00,120.63 368.30,130.49 368.60,126.34 368.90,124.55 369.20,125.00 369.50,120.94 369.80,121.92 370.10,125.64 370.40,119.22 370.70,125.26 371.00,120.18 371.30,124.88 371.60,121.75 371.90,129.01 372.20,127.15 372.50,123.26 372.80,119.78 373.10,122.58 373.40,124.43 373.70,122.05 374.00,125.29 374.30,127.08 374.60,124.43 374.90,123.47 375.20,126.55 375.50,123.82 375.80,126.73 376.10,123.76 376.40,128.67 376.70,123.86 377.00,121.88 377.30,124.82 377.60,122.97 377.90,122.19 378.20,124.25 378.50,126.48 378.80,119.08 379.10,124.46 379.40,124.19 379.70,124.21 380.00,126.62 380.30,121.26 380.60,126.26 380.90,124.01 381.20,124.87 381.50,124.03 381.80,123.76 382.10,123.26 382.40,125.65 382.70,129.95 383.00,127.29 383.30,126.78 383.60,126.04 383.90,123.41 384.20,126.17 384.50,129.90 384.80,121.38 385.10,126.75 385.40,127.22 385.70,125.37 386.00,126.66 386.30,128.20 386.60,130.29 386.90,127.99 387.20,128.89 387.50,125.54 387.80,126.80 388.10,125.15 388.40,125.47 388.70,123.55 389.00,126.45 389.30,128.41 389.60,124.34 389.90,125.39 390.20,126.33 390.50,124.81 390.80,127.14 391.10,125.42 391.40,121.82 391.70,122.17 392.00,126.62 392.30,126.38 392.60,127.58 392.90,125.42 393.20,125.31 393.50,120.82 393.80,128.33 394.10,122.48 394.40,127.44 394.70,121.93 395.00,123.14 395.30,125.20 395.60,123.74 395.90,123.05 396.20,127.08 396.50,126.53 396.80,125.82 397.10,123.98 397.40,122.75 397.70,123.63 398.00,123.51 398.30,124.77 398.60,126.77 398.90,124.42 399.20,122.85 399.50,123.29 399.80,128.07 400.10,125.26 400.40,125.44 400.70,125.56 401.00,126.35 401.30,125.21 401.60,127.82 401.90,126.91 402.20,117.75 402.50,124.53 402.80,132.29 403.10,121.66 403.40,125.20 403.70,127.60 404.00,124.88 404.30,128.24 404.60,121.71 404.90,121.74 405.20,124.42 405.50,123.04 405.80,122.19 406.10,126.32 406.40,125.57 406.70,124.92 407.00,123.88 407.30,125.56 407.60,124.60 407.90,123.07 408.20,126.18 408.50,125.83 408.80,125.10 409.10,126.64 409.40,122.13 409.70,124.54 410.00,123.59 410.30,128.23 410.60,126.17 410.90,130.19 411.20,128.83 411.50,123.97 411.80,122.16 412.10,126.11 412.40,124.19 412.70,124.50 413.00,122.25 413.30,126.40 413.60,125.36 413.90,125.91 414.20,125.68 414.50,122.64 414.80,119.30 415.10,124.22 415.40,123.31 415.70,123.58 416.00,127.30 416.30,124.65 416.60,128.67 416.90,125.35 417.20,126.62 417.50,126.17 417.80,126.91 418.10,121.75 418.40,127.63 418.70,125.17 419.00,122.46 419.30,126.43 419.60,125.76 419.90,128.12 420.20,126.73 420.50,125.81 420.80,120.82 421.10,129.09 421.40,128.62 421.70,126.84 422.00,126.05 422.30,127.94 422.60,122.73 422.90,126.65 423.20,124.96 423.50,122.39 423.80,125.82 424.10,125.78 424.40,129.16 424.70,127.26 425.00,120.89 425.30,119.99 425.60,124.70 425.90,124.38 426.20,122.56 426.50,121.25 426.80,124.41 427.10,122.01 427.40,123.17 427.70,127.06 428.00,125.50 428.30,123.01 428.60,122.09 428.90,124.43 429.20,129.23 429.50,123.63 429.80,129.23 430.10,122.93 430.40,124.37 430.70,126.64 431.00,122.97 431.30,125.04 431.60,121.51 431.90,126.56 432.20,127.79 432.50,123.27 432.80,125.36 433.10,123.88 433.40,119.50 433.70,131.76 434.00,126.47 434.30,126.97 434.60,125.87 434.90,125.33 435.20,130.83 435.50,120.33 435.80,124.12 436.10,123.85 436.40,124.38 436.70,126.64 437.00,123.09 437.30,121.58 437.60,122.08 437.90,126.04 438.20,127.28 438.50,126.92 438.80,128.89 439.10,123.60 439.40,127.38 439.70,126.61 440.00,124.48 440.30,123.02 440.60,127.09 440.90,123.20 441.20,124.16 441.50,122.46 441.80,129.27 442.10,124.77 442.40,123.65 442.70,124.28 443.00,124.33 443.30,125.12 443.60,120.63 443.90,121.99 444.20,126.16 444.50,127.61 444.80,122.37 445.10,125.18 445.40,123.46 445.70,119.21 446.00,124.12 446.30,122.18 446.60,127.08 446.90,124.37 447.20,124.80 447.50,121.24 447.80,125.26 448.10,120.03 448.40,125.44 448.70,128.34 449.00,121.86 449.30,127.03 449.60,128.41 449.90,124.39 450.20,127.69 450.50,125.10 450.80,123.66 451.10,119.87 451.40,122.20 451.70,121.18 452.00,130.85 452.30,125.54 452.60,124.46 452.90,121.51 453.20,129.20 453.50,121.99 453.80,128.61 454.10,127.61 454.40,125.08 454.70,123.24 455.00,124.78 455.30,121.58 455.60,126.52 455.90,129.11 456.20,127.13 456.50,127.52 456.80,123.15 457.10,125.67 457.40,122.33 457.70,123.77 458.00,126.72 458.30,131.16 458.60,125.07 458.90,124.99 459.20,120.16 459.50,125.34 459.80,122.62 460.10,121.38 460.40,121.17 460.70,125.25 461.00,123.90 461.30,126.60 461.60,124.31 461.90,124.89 462.20,128.57 462.50,126.91 462.80,126.82 463.10,128.59 463.40,125.45 463.70,122.41 464.00,122.90 464.30,120.98 464.60,125.78 464.90,123.89 465.20,126.18 465.50,126.99 465.80,122.86 466.10,125.36 466.40,128.09 466.70,125.11 467.00,127.24 467.30,124.41 467.60,122.52 467.90,124.32 468.20,120.17 468.50,126.68 468.80,123.60 469.10,128.28 469.40,121.81 469.70,125.22 470.00,125.76 470.30,124.39 470.60,125.86 470.90,123.00 471.20,122.20 471.50,121.36 471.80,123.48 472.10,122.85 472.40,125.50 472.70,123.97 473.00,123.23 473.30,123.05 473.60,120.11 473.90,123.97 474.20,125.94 474.50,121.54 474.80,124.25 475.10,126.60 475.40,123.15 475.70,125.38 476.00,123.82 476.30,131.10 476.60,128.42 476.90,127.89 477.20,123.17 477.50,126.54 477.80,124.48 478.10,125.81 478.40,123.44 478.70,125.30 479.00,122.96 479.30,125.64 479.60,129.35 479.90,121.43 480.20,121.56 480.50,126.17 480.80,126.91 481.10,123.95 481.40,126.39 481.70,125.98 482.00,126.30 482.30,128.40 482.60,123.25 482.90,126.57 483.20,125.41 483.50,123.15 483.80,126.17 484.10,121.60 484.40,121.13 484.70,127.63 485.00,122.09 485.30,129.20 485.60,127.54 485.90,123.57 486.20,122.66 486.50,119.23 486.80,124.71 487.10,120.74 487.40,128.89 487.70,120.61 488.00,125.05 488.30,117.95 488.60,124.00 488.90,128.27 489.20,123.76 489.50,122.80 489.80,123.67 490.10,125.85 490.40,127.16 490.70,124.29 491.00,119.67 491.30,125.67 491.60,127.37 491.90,130.76 492.20,125.32 492.50,125.33 492.80,123.50 493.10,126.80 493.40,129.40 493.70,122.34 494.00,125.09 494.30,122.23 494.60,123.13 494.90,124.41 495.20,126.15 495.50,122.75 495.80,124.13 496.10,128.38 496.40,126.18 496.70,126.67 497.00,125.90 497.30,124.40 497.60,125.96 497.90,126.22 498.20,124.88 498.50,127.51 498.80,124.90 499.10,127.19 499.40,124.94 499.70,126.75 500.00,123.16 500.30,123.45 500.60,121.92 500.90,127.96 501.20,126.19 501.50,125.43 501.80,126.47 502.10,122.76 502.40,125.14 502.70,123.59 503.00,120.12 503.30,124.20 503.60,122.65 503.90,128.54 504.20,122.97 504.50,123.30 504.80,127.39 505.10,124.86 505.40,121.47 505.70,125.47 506.00,122.96 506.30,129.25 506.60,122.18 506.90,122.99 507.20,117.87 507.50,123.16 507.80,129.68 508.10,124.57 508.40,122.43 508.70,125.63 509.00,124.14 509.30,124.78 509.60,131.26 509.90,130.04 510.20,128.98 510.50,129.14 510.80,122.53 511.10,119.88 511.40,126.79 511.70,125.90 512.00,125.00 512.30,124.58 512.60,126.73 512.90,126.33 513.20,125.55 513.50,126.15 513.80,124.37 514.10,123.94 514.40,128.46 514.70,124.26 515.00,129.99 515.30,126.55 515.60,125.05 515.90,127.76 516.20,123.63 516.50,124.41 516.80,124.02 517.10,124.89 517.40,126.64 517.70,130.22 518.00,126.23 518.30,122.16 518.60,122.78 518.90,120.26 519.20,126.76 519.50,127.14 519.80,125.74 520.10,125.82 520.40,126.24 520.70,125.98 521.00,126.54 521.30,125.47 521.60,122.37 521.90,127.30 522.20,128.31 522.50,120.70 522.80,124.30 523.10,121.99 523.40,126.19 523.70,124.16 524.00,128.54 524.30,127.74 524.60,123.70 524.90,123.67 525.20,123.39 525.50,126.36 525.80,122.50 526.10,126.01 526.40,121.31 526.70,127.57 527.00,126.11 527.30,121.92 527.60,122.88 527.90,125.25 528.20,125.61 528.50,117.57 528.80,125.41 529.10,128.76 529.40,123.75 529.70,121.42 530.00,128.01 530.30,125.51 530.60,125.39 530.90,126.47 531.20,121.74 531.50,123.17 531.80,122.00 532.10,121.98 532.40,124.07 532.70,122.19 533.00,129.01 533.30,126.17 533.60,127.01 533.90,120.64 534.20,124.33 534.50,124.50 534.80,125.30 535.10,126.03 535.40,122.84 535.70,122.54 536.00,127.33 536.30,130.65 536.60,130.21 536.90,124.16 537.20,122.88 537.50,125.37 537.80,126.09 538.10,129.41 538.40,124.29 538.70,122.98 539.00,127.55 539.30,123.03 539.60,122.69 539.90,126.25 540.20,124.39 540.50,122.19 540.80,124.21 541.10,123.83 541.40,124.31 541.70,123.00 542.00,126.37 542.30,123.97 542.60,123.35 542.90,127.59 543.20,122.52 543.50,126.81 543.80,126.39 544.10,124.13 544.40,125.43 544.70,121.09 545.00,125.51 545.30,122.25 545.60,122.69 545.90,125.55 546.20,123.01 546.50,125.22 546.80,125.93 547.10,127.55 547.40,125.90 547.70,127.53 548.00,122.97 548.30,123.94 548.60,126.53 548.90,127.89 549.20,126.03 549.50,123.54 549.80,122.16 550.10,122.46 550.40,127.74 550.70,122.39 551.00,124.29 551.30,126.49 551.60,125.99 551.90,123.10 552.20,129.94 552.50,125.30 552.80,125.60 553.10,126.95 553.40,124.09 553.70,126.64 554.00,124.53 554.30,122.64 554.60,122.47 554.90,125.85 555.20,125.14 555.50,124.48 555.80,123.73 556.10,124.26 556.40,126.90 556.70,127.67 557.00,124.25 557.30,125.54 557.60,120.19 557.90,121.98 558.20,123.11 558.50,122.59 558.80,126.65 559.10,119.62 559.40,126.13 559.70,126.62 560.00,130.47 560.30,123.65 560.60,126.04 560.90,128.63 561.20,127.25 561.50,122.52 561.80,124.00 562.10,121.99 562.40,125.07 562.70,126.62 563.00,128.32 563.30,126.30 563.60,127.15 563.90,127.56 564.20,122.82 564.50,126.59 564.80,127.35 565.10,124.44 565.40,122.49 565.70,125.29 566.00,125.29 566.30,126.64 566.60,120.39 566.90,123.96 567.20,129.98 567.50,128.15 567.80,124.52 568.10,124.16 568.40,124.22 568.70,122.46 569.00,123.75 569.30,124.79 569.60,121.88 569.90,124.70 570.20,125.57 570.50,121.67 570.80,123.76 571.10,120.99 571.40,125.00 571.70,125.45 572.00,123.60 572.30,125.08 572.60,126.28 572.90,126.61 573.20,121.54 573.50,124.09 573.80,121.28 574.10,120.15 574.40,127.46 574.70,126.81 575.00,128.09 575.30,126.83 575.60,123.63 575.90,125.43 576.20,123.54 576.50,128.31 576.80,118.97 577.10,125.91 577.40,123.50 577.70,126.70 578.00,127.92 578.30,123.30 578.60,128.32 578.90,127.63 579.20,120.93 579.50,129.49 579.80,121.93 580.10,121.49 580.40,127.27 580.70,123.09 581.00,125.46 581.30,124.78 581.60,122.34 581.90,128.92 582.20,128.63 582.50,125.09 582.80,128.86 583.10,124.88 583.40,125.55 583.70,124.14 584.00,121.58 584.30,124.04 584.60,122.50 584.90,125.93 585.20,125.28 585.50,123.46 585.80,128.12 586.10,125.83 586.40,129.48 586.70,123.92 587.00,123.93 587.30,123.05 587.60,125.49 587.90,124.49 588.20,124.99 588.50,129.30 588.80,126.90 589.10,123.34 589.40,125.92 589.70,124.25 590.00,124.13 590.30,124.36 590.60,125.07 590.90,126.51 591.20,127.45 591.50,125.00 591.80,122.87 592.10,124.90 592.40,124.42 592.70,124.23 593.00,121.86 593.30,124.57 593.60,120.35 593.90,128.07 594.20,126.75 594.50,126.78 594.80,122.56 595.10,125.50 595.40,128.11 595.70,124.36 596.00,122.22 596.30,124.62 596.60,119.23 596.90,127.25 597.20,126.00 597.50,121.46 597.80,126.66 598.10,127.76 598.40,126.51 598.70,126.57 599.00,128.77 599.30,125.46 599.60,128.43 599.90,124.40 600.20,123.18 600.50,124.09 600.80,122.29 601.10,125.89 601.40,123.15 601.70,125.82 602.00,125.70 602.30,128.99 602.60,129.33 602.90,123.53 603.20,124.47 603.50,124.49 603.80,123.36 604.10,129.43 604.40,128.00 604.70,124.36 605.00,121.44 605.30,123.30 605.60,124.97 605.90,128.84 606.20,121.70 606.50,128.53 606.80,121.32 607.10,125.78 607.40,122.00 607.70,123.83 608.00,118.92 608.30,126.40 608.60,124.98 608.90,122.29 609.20,119.56 609.50,124.72 609.80,124.83 610.10,121.26 610.40,126.11 610.70,124.58 611.00,122.04 611.30,122.88 611.60,118.73 611.90,126.71 612.20,127.34 612.50,124.40 612.80,121.73 613.10,122.06 613.40,124.11 613.70,122.66 614.00,125.59 614.30,122.69 614.60,127.13 614.90,127.85 615.20,123.38 615.50,122.83 615.80,117.47 616.10,124.95 616.40,125.81 616.70,122.51 617.00,127.66 617.30,123.19 617.60,121.92 617.90,126.93 618.20,126.01 618.50,119.70 618.80,123.12 619.10,121.65 619.40,124.32 619.70,125.32 620.00,123.72 620.30,125.25 620.60,127.12 620.90,124.06 621.20,121.69 621.50,122.41 621.80,126.95 622.10,129.17 622.40,124.43 622.70,125.81 623.00,122.85 623.30,123.41 623.60,127.27 623.90,123.58 624.20,125.30 624.50,125.17 624.80,127.76 625.10,125.45 625.40,124.72 625.70,124.11 626.00,123.53 626.30,127.40 626.60,130.21 626.90,120.92 627.20,127.42 627.50,122.38 627.80,123.32 628.10,124.09 628.40,123.75 628.70,123.92 629.00,123.36 629.30,129.35 629.60,121.24 629.90,123.23 630.20,122.92 630.50,125.34 630.80,121.64 631.10,124.82 631.40,125.15 631.70,129.72 632.00,126.47 632.30,124.71 632.60,125.12 632.90,129.46 633.20,124.59 633.50,123.14 633.80,123.32 634.10,123.95 634.40,127.07 634.70,122.37 635.00,123.42 635.30,124.80 635.60,122.55 635.90,126.48 636.20,123.88 636.50,126.10 636.80,126.14 637.10,128.58 637.40,129.19 637.70,122.71 638.00,121.59 638.30,121.97 638.60,126.05 638.90,126.18 639.20,124.86 639.50,124.77 639.80,128.65 640.10,127.09 640.40,125.42 640.70,126.41 641.00,121.13 641.30,127.81 641.60,130.01 641.90,125.23 642.20,123.80 642.50,127.96 642.80,123.65 643.10,125.12 643.40,126.40 643.70,124.50 644.00,126.64 644.30,120.07 644.60,118.82 644.90,126.71 645.20,126.20 645.50,125.44 645.80,123.92 646.10,125.00 646.40,125.99 646.70,122.04 647.00,125.52 647.30,122.94 647.60,130.08 647.90,125.79 648.20,125.57 648.50,127.41 648.80,127.24 649.10,127.26 649.40,123.28 649.70,125.27 650.00,127.10 650.30,125.45 650.60,125.20 650.90,123.49 651.20,125.37 651.50,128.34 651.80,121.92 652.10,121.51 652.40,121.92 652.70,121.05 653.00,128.06 653.30,129.58 653.60,126.14 653.90,125.13 654.20,128.33 654.50,127.52 654.80,119.26 655.10,124.74 655.40,130.99 655.70,123.93 656.00,123.15 656.30,123.37 656.60,128.81 656.90,123.82 657.20,125.96 657.50,127.89 657.80,125.37 658.10,124.96 658.40,122.34 658.70,121.85 659.00,127.59 659.30,121.70 659.60,127.57 659.90,128.00 660.20,128.63 660.50,124.46 660.80,122.83 661.10,125.15 661.40,128.13 661.70,126.27 662.00,126.10 662.30,124.61 662.60,127.20 662.90,120.08 663.20,122.00 663.50,128.77 663.80,126.08" fill="none" stroke="#8e1c26" stroke-width="0.72" stroke-linejoin="round"/>
<polyline points="385.95,124.90 386.40,95.20 386.75,123.40 387.30,125.20" fill="none" stroke="#a23a48" stroke-width="0.6" stroke-linejoin="round"/>
<polyline points="576.85,124.90 577.30,103.50 577.65,123.40 578.20,125.20" fill="none" stroke="#a23a48" stroke-width="0.6" stroke-linejoin="round"/>
<polyline points="624.45,124.90 624.90,98.60 625.25,123.40 625.80,125.20" fill="none" stroke="#a23a48" stroke-width="0.6" stroke-linejoin="round"/>
<polyline points="630.15,124.90 630.60,106.00 630.95,123.40 631.50,125.20" fill="none" stroke="#a23a48" stroke-width="0.6" stroke-linejoin="round"/>
<line x1="355.20" y1="137.70" x2="665.60" y2="137.70" stroke="#58595b" stroke-width="1.0" />
<line x1="665.50" y1="137.70" x2="665.50" y2="139.60" stroke="#58595b" stroke-width="0.9" />
<text x="663.20" y="152.50" font-size="12" fill="#231f20" stroke="#231f20" text-anchor="middle" >0</text>
<line x1="657.46" y1="137.70" x2="657.46" y2="139.60" stroke="#58595b" stroke-width="0.9" />
<line x1="649.42" y1="137.70" x2="649.42" y2="139.60" stroke="#58595b" stroke-width="0.9" />
<line x1="641.38" y1="137.70" x2="641.38" y2="139.60" stroke="#58595b" stroke-width="0.9" />
<line x1="633.34" y1="137.70" x2="633.34" y2="139.60" stroke="#58595b" stroke-width="0.9" />
<text x="633.34" y="152.50" font-size="12" fill="#231f20" stroke="#231f20" text-anchor="middle" >20</text>
<line x1="625.30" y1="137.70" x2="625.30" y2="139.60" stroke="#58595b" stroke-width="0.9" />
<line x1="617.26" y1="137.70" x2="617.26" y2="139.60" stroke="#58595b" stroke-width="0.9" />
<line x1="609.22" y1="137.70" x2="609.22" y2="139.60" stroke="#58595b" stroke-width="0.9" />
<line x1="601.18" y1="137.70" x2="601.18" y2="139.60" stroke="#58595b" stroke-width="0.9" />
<text x="601.18" y="152.50" font-size="12" fill="#231f20" stroke="#231f20" text-anchor="middle" >40</text>
<line x1="593.14" y1="137.70" x2="593.14" y2="139.60" stroke="#58595b" stroke-width="0.9" />
<line x1="585.10" y1="137.70" x2="585.10" y2="139.60" stroke="#58595b" stroke-width="0.9" />
<line x1="577.06" y1="137.70" x2="577.06" y2="139.60" stroke="#58595b" stroke-width="0.9" />
<line x1="569.02" y1="137.70" x2="569.02" y2="139.60" stroke="#58595b" stroke-width="0.9" />
<text x="569.02" y="152.50" font-size="12" fill="#231f20" stroke="#231f20" text-anchor="middle" >60</text>
<line x1="560.98" y1="137.70" x2="560.98" y2="139.60" stroke="#58595b" stroke-width="0.9" />
<line x1="552.94" y1="137.70" x2="552.94" y2="139.60" stroke="#58595b" stroke-width="0.9" />
<line x1="544.90" y1="137.70" x2="544.90" y2="139.60" stroke="#58595b" stroke-width="0.9" />
<line x1="536.86" y1="137.70" x2="536.86" y2="139.60" stroke="#58595b" stroke-width="0.9" />
<text x="536.86" y="152.50" font-size="12" fill="#231f20" stroke="#231f20" text-anchor="middle" >80</text>
<line x1="528.82" y1="137.70" x2="528.82" y2="139.60" stroke="#58595b" stroke-width="0.9" />
<line x1="520.78" y1="137.70" x2="520.78" y2="139.60" stroke="#58595b" stroke-width="0.9" />
<line x1="512.74" y1="137.70" x2="512.74" y2="139.60" stroke="#58595b" stroke-width="0.9" />
<line x1="504.70" y1="137.70" x2="504.70" y2="139.60" stroke="#58595b" stroke-width="0.9" />
<text x="504.70" y="152.50" font-size="12" fill="#231f20" stroke="#231f20" text-anchor="middle" >100</text>
<line x1="496.66" y1="137.70" x2="496.66" y2="139.60" stroke="#58595b" stroke-width="0.9" />
<line x1="488.62" y1="137.70" x2="488.62" y2="139.60" stroke="#58595b" stroke-width="0.9" />
<line x1="480.58" y1="137.70" x2="480.58" y2="139.60" stroke="#58595b" stroke-width="0.9" />
<line x1="472.54" y1="137.70" x2="472.54" y2="139.60" stroke="#58595b" stroke-width="0.9" />
<text x="472.54" y="152.50" font-size="12" fill="#231f20" stroke="#231f20" text-anchor="middle" >120</text>
<line x1="464.50" y1="137.70" x2="464.50" y2="139.60" stroke="#58595b" stroke-width="0.9" />
<line x1="456.46" y1="137.70" x2="456.46" y2="139.60" stroke="#58595b" stroke-width="0.9" />
<line x1="448.42" y1="137.70" x2="448.42" y2="139.60" stroke="#58595b" stroke-width="0.9" />
<line x1="440.38" y1="137.70" x2="440.38" y2="139.60" stroke="#58595b" stroke-width="0.9" />
<text x="440.38" y="152.50" font-size="12" fill="#231f20" stroke="#231f20" text-anchor="middle" >140</text>
<line x1="432.34" y1="137.70" x2="432.34" y2="139.60" stroke="#58595b" stroke-width="0.9" />
<line x1="424.30" y1="137.70" x2="424.30" y2="139.60" stroke="#58595b" stroke-width="0.9" />
<line x1="416.26" y1="137.70" x2="416.26" y2="139.60" stroke="#58595b" stroke-width="0.9" />
<line x1="408.22" y1="137.70" x2="408.22" y2="139.60" stroke="#58595b" stroke-width="0.9" />
<text x="408.22" y="152.50" font-size="12" fill="#231f20" stroke="#231f20" text-anchor="middle" >160</text>
<line x1="400.18" y1="137.70" x2="400.18" y2="139.60" stroke="#58595b" stroke-width="0.9" />
<line x1="392.14" y1="137.70" x2="392.14" y2="139.60" stroke="#58595b" stroke-width="0.9" />
<line x1="384.10" y1="137.70" x2="384.10" y2="139.60" stroke="#58595b" stroke-width="0.9" />
<line x1="376.06" y1="137.70" x2="376.06" y2="139.60" stroke="#58595b" stroke-width="0.9" />
<text x="376.06" y="152.50" font-size="12" fill="#231f20" stroke="#231f20" text-anchor="middle" >180</text>
<line x1="368.02" y1="137.70" x2="368.02" y2="139.60" stroke="#58595b" stroke-width="0.9" />
<text x="511.6" y="166.8" font-size="12.6" fill="#231f20" text-anchor="middle"><tspan font-size="8.5" dy="-4.5">13</tspan><tspan dy="4.5">C Chemical Shift (ppm)</tspan></text>
<text x="380.00" y="49.70" font-size="10.5" fill="#231f20" stroke="#231f20" text-anchor="middle" >1</text>
<text x="387.90" y="49.70" font-size="10.5" fill="#231f20" stroke="#231f20" text-anchor="middle" >4</text>
<text x="573.80" y="49.00" font-size="10.5" fill="#231f20" stroke="#231f20" text-anchor="middle" >2</text>
<text x="619.60" y="49.00" font-size="10.5" fill="#231f20" stroke="#231f20" text-anchor="middle" >3</text>
<text x="629.50" y="49.00" font-size="10.5" fill="#231f20" stroke="#231f20" text-anchor="middle" >5</text>
<text x="403.90" y="70.50" font-size="10" fill="#231f20" stroke="#231f20" text-anchor="middle" >*</text>
<text x="639.30" y="35.90" font-size="10.4" fill="#231f20" stroke="#231f20" text-anchor="start" >pH 7.5</text>
<text x="636.80" y="96.70" font-size="10.4" fill="#231f20" stroke="#231f20" text-anchor="start" >pH 2.5</text>
<text x="41.70" y="32.10" font-size="9.6" fill="#231f20" stroke="#231f20" text-anchor="start" >SH</text>
<polyline points="40.60,31.00 33.40,35.40 33.40,49.80 27.40,52.90" fill="none" stroke="#2a2a2c" stroke-width="1.0" stroke-linecap="round" stroke-linejoin="round"/>
<polyline points="33.40,49.80 44.30,56.30 51.60,52.50" fill="none" stroke="#2a2a2c" stroke-width="1.0" stroke-linecap="round" stroke-linejoin="round"/>
<text x="6.2" y="59.1" font-size="9.6" fill="#231f20" stroke="#231f20">H<tspan font-size="6.2" dy="1.6">2</tspan><tspan dy="-1.6">N</tspan></text>
<text x="53.20" y="52.10" font-size="9.6" fill="#231f20" stroke="#231f20" text-anchor="start" >OH</text>
<circle cx="45.2" cy="51.4" r="0.95" fill="#231f20"/>
<line x1="44.30" y1="56.30" x2="44.30" y2="65.30" stroke="#2a2a2c" stroke-width="1.0" />
<line x1="46.30" y1="57.30" x2="46.30" y2="65.30" stroke="#2a2a2c" stroke-width="1.0" />
<text x="44.90" y="72.50" font-size="9.6" fill="#231f20" stroke="#231f20" text-anchor="middle" >O</text>
<line x1="89.60" y1="54.50" x2="94.40" y2="54.50" stroke="#231f20" stroke-width="1.0" />
<line x1="92.00" y1="52.00" x2="92.00" y2="57.00" stroke="#231f20" stroke-width="1.0" />
<polyline points="113.20,55.90 125.10,49.70 132.50,53.30" fill="none" stroke="#2a2a2c" stroke-width="1.0" stroke-linecap="round" stroke-linejoin="round"/>
<polyline points="141.60,53.10 149.50,49.70 161.20,55.90" fill="none" stroke="#2a2a2c" stroke-width="1.0" stroke-linecap="round" stroke-linejoin="round"/>
<line x1="124.10" y1="49.70" x2="124.10" y2="40.20" stroke="#2a2a2c" stroke-width="1.0" />
<line x1="126.20" y1="49.20" x2="126.20" y2="40.20" stroke="#2a2a2c" stroke-width="1.0" />
<line x1="148.50" y1="49.20" x2="148.50" y2="40.20" stroke="#2a2a2c" stroke-width="1.0" />
<line x1="150.60" y1="49.70" x2="150.60" y2="40.20" stroke="#2a2a2c" stroke-width="1.0" />
<text x="124.80" y="38.10" font-size="9.6" fill="#231f20" stroke="#231f20" text-anchor="middle" >O</text>
<text x="136.80" y="58.50" font-size="9.6" fill="#231f20" stroke="#231f20" text-anchor="middle" >O</text>
<text x="148.80" y="38.10" font-size="9.6" fill="#231f20" stroke="#231f20" text-anchor="middle" >O</text>
<text x="178.4" y="47.9" font-size="9.5" fill="#231f20" stroke="#231f20">1. THF/H<tspan font-size="6.3" dy="1.6">2</tspan><tspan dy="-1.6">O/NaOAc</tspan></text>
<line x1="178.00" y1="53.10" x2="263.50" y2="53.10" stroke="#555" stroke-width="1.1" />
<polygon points="268.2,53.1 261.2,50.9 262.6,53.1 261.2,55.3" fill="#231f20"/>
<text x="178.60" y="63.70" font-size="9.6" fill="#231f20" stroke="#231f20" text-anchor="start" >2. HCl</text>
<polyline points="276.80,52.60 288.90,46.10 297.00,50.10" fill="none" stroke="#2a2a2c" stroke-width="1.0" stroke-linecap="round" stroke-linejoin="round"/>
<line x1="287.90" y1="46.10" x2="287.90" y2="36.40" stroke="#2a2a2c" stroke-width="1.0" />
<line x1="290.10" y1="45.40" x2="290.10" y2="36.40" stroke="#2a2a2c" stroke-width="1.0" />
<text x="289.10" y="35.40" font-size="9.6" fill="#231f20" stroke="#231f20" text-anchor="middle" >O</text>
<text x="301.30" y="54.30" font-size="9.6" fill="#231f20" stroke="#231f20" text-anchor="middle" >N</text>
<text x="301.30" y="63.10" font-size="9.6" fill="#231f20" stroke="#231f20" text-anchor="middle" >H</text>
<polyline points="305.60,50.10 313.20,46.10 313.20,33.20 320.90,28.80" fill="none" stroke="#2a2a2c" stroke-width="1.0" stroke-linecap="round" stroke-linejoin="round"/>
<polyline points="313.20,46.10 323.90,52.10 330.90,48.40" fill="none" stroke="#2a2a2c" stroke-width="1.0" stroke-linecap="round" stroke-linejoin="round"/>
<text x="322.00" y="29.00" font-size="9.6" fill="#231f20" stroke="#231f20" text-anchor="start" >SH</text>
<text x="333.00" y="49.10" font-size="9.6" fill="#231f20" stroke="#231f20" text-anchor="start" >OH</text>
<circle cx="325.4" cy="47.3" r="0.95" fill="#231f20"/>
<line x1="323.00" y1="52.60" x2="323.00" y2="61.40" stroke="#2a2a2c" stroke-width="1.0" />
<line x1="325.20" y1="53.40" x2="325.20" y2="61.40" stroke="#2a2a2c" stroke-width="1.0" />
<text x="324.60" y="69.60" font-size="9.6" fill="#231f20" stroke="#231f20" text-anchor="middle" >O</text>
<polyline points="467.60,44.10 479.30,38.20 488.00,41.70" fill="none" stroke="#2a2a2c" stroke-width="1.0" stroke-linecap="round" stroke-linejoin="round"/>
<line x1="478.20" y1="38.20" x2="478.20" y2="26.80" stroke="#2a2a2c" stroke-width="1.0" />
<line x1="480.40" y1="37.60" x2="480.40" y2="26.80" stroke="#2a2a2c" stroke-width="1.0" />
<text x="479.60" y="26.40" font-size="9.6" fill="#231f20" stroke="#231f20" text-anchor="middle" >O</text>
<text x="492.10" y="46.90" font-size="9.6" fill="#231f20" stroke="#231f20" text-anchor="middle" >N</text>
<text x="492.10" y="56.30" font-size="9.6" fill="#231f20" stroke="#231f20" text-anchor="middle" >H</text>
<polyline points="496.60,41.70 504.50,37.80 516.30,44.10 523.40,40.60" fill="none" stroke="#2a2a2c" stroke-width="1.0" stroke-linecap="round" stroke-linejoin="round"/>
<polygon points="504.5,37.8 502.9,23.9 506.1,23.5" fill="#231f20"/>
<polyline points="504.40,23.70 512.40,19.40" fill="none" stroke="#2a2a2c" stroke-width="1.0" stroke-linecap="round" stroke-linejoin="round"/>
<text x="513.60" y="20.20" font-size="9.6" fill="#231f20" stroke="#231f20" text-anchor="start" >SH</text>
<text x="525.40" y="41.40" font-size="9.6" fill="#231f20" stroke="#231f20" text-anchor="start" >OH</text>
<line x1="515.20" y1="44.10" x2="515.20" y2="53.60" stroke="#2a2a2c" stroke-width="1.0" />
<line x1="517.40" y1="44.70" x2="517.40" y2="53.60" stroke="#2a2a2c" stroke-width="1.0" />
<text x="517.00" y="61.80" font-size="9.6" fill="#231f20" stroke="#231f20" text-anchor="middle" >O</text>
<text x="462.00" y="49.60" font-size="7.0" fill="#ef4a4a" stroke="#ef4a4a" text-anchor="middle" >5</text>
<text x="479.00" y="48.80" font-size="7.0" fill="#ef4a4a" stroke="#ef4a4a" text-anchor="middle" >4</text>
<text x="500.10" y="22.90" font-size="7.0" fill="#ef4a4a" stroke="#ef4a4a" text-anchor="middle" >3</text>
<text x="504.00" y="48.80" font-size="7.0" fill="#ef4a4a" stroke="#ef4a4a" text-anchor="middle" >2</text>
<text x="517.00" y="40.20" font-size="7.0" fill="#ef4a4a" stroke="#ef4a4a" text-anchor="middle" >1</text>
<path d="M403.80,293.70 L404.32,293.84 L404.84,293.98 L405.36,294.12 L405.87,294.26 L406.39,294.40 L406.91,294.55 L407.43,294.69 L407.95,294.83 L408.47,294.97 L408.98,295.11 L409.50,295.25 L410.02,295.39 L410.54,295.53 L411.06,295.67 L411.57,295.81 L412.09,295.96 L412.61,296.10 L413.13,296.24 L413.65,296.38 L414.17,296.52 L414.69,296.66 L415.20,296.80 L415.72,296.94 L416.24,297.08 L416.76,297.22 L417.28,297.37 L417.80,297.51 L418.31,297.65 L418.83,297.79 L419.35,297.93 L419.87,298.07 L420.39,298.21 L420.91,298.35 L421.42,298.49 L421.94,298.63 L422.46,298.78 L422.98,298.92 L423.50,299.06 L424.01,299.20 L424.53,299.34 L425.05,299.48 L425.57,299.62 L426.09,299.76 L426.61,299.90 L427.12,300.05 L427.64,300.19 L428.16,300.33 L428.68,300.47 L429.20,300.61 L429.72,300.75 L430.24,300.89 L430.75,301.03 L431.27,301.17 L431.79,301.31 L432.31,301.45 L432.83,301.60 L433.35,301.74 L433.86,301.88 L434.38,302.02 L434.90,302.16 L435.42,302.30 L435.94,302.44 L436.45,302.58 L436.97,302.72 L437.49,302.87 L438.01,303.01 L438.53,303.15 L439.05,303.29 L439.56,303.43 L440.08,303.57 L440.60,303.71 L441.12,303.85 L441.64,303.99 L442.16,304.13 L442.68,304.27 L443.19,304.42 L443.71,304.56 L444.23,304.70 L444.75,304.84 L445.27,304.98 L445.78,305.12 L446.30,305.26 L446.82,305.40 L447.34,305.54 L447.86,305.69 L448.38,305.83 L448.89,305.97 L449.41,306.11 L449.93,306.25 L450.45,306.39 L450.97,306.53 L451.49,306.67 L452.00,306.81 L452.52,306.95 L453.04,307.09 L453.56,307.24 L454.08,307.38 L454.60,307.52 L455.12,307.66 L455.63,307.80 L456.15,307.94 L456.67,308.08 L457.19,308.22 L457.71,308.36 L458.22,308.50 L458.74,308.65 L459.26,308.79 L459.78,308.93 L460.30,309.07 L460.82,309.21 L461.33,309.35 L461.85,309.49 L462.37,309.63 L462.89,309.77 L463.41,309.92 L463.93,310.06 L464.44,310.20 L464.96,310.34 L465.48,310.48 L466.00,310.62 L466.52,310.76 L467.04,310.90 L467.56,311.04 L468.07,311.18 L468.59,311.32 L469.11,311.47 L469.63,311.61 L470.15,311.75 L470.66,311.89 L471.18,312.03 L471.70,312.17 L472.22,312.31 L472.74,312.45 L473.26,312.59 L473.77,312.74 L474.29,312.88 L474.81,313.02 L475.33,313.16 L475.85,313.30 L476.37,313.44 L476.88,313.58 L477.40,313.72 L477.92,313.86 L478.44,314.00 L478.96,314.14 L479.48,314.29 L480.00,314.43 L480.51,314.57 L481.03,314.71 L481.55,314.85 L482.07,314.99 L482.59,315.13 L483.11,315.27 L483.62,315.41 L484.14,315.56 L484.66,315.70 L485.18,315.84 L485.70,315.98 L486.21,316.12 L486.73,316.26 L487.25,316.40 L487.77,316.54 L488.29,316.68 L488.81,316.82 L489.32,316.96 L489.84,317.11 L490.36,317.25 L490.88,317.39 L491.40,317.53 L491.92,317.67 L492.43,317.81 L492.95,317.95 L493.47,318.09 L493.99,318.23 L494.51,318.38 L495.03,318.52 L495.54,318.66 L496.06,318.80 L496.58,318.94 L497.10,319.08 L497.62,319.22 L498.14,319.36 L498.65,319.50 L499.17,319.64 L499.69,319.78 L500.21,319.93 L500.73,320.07 L501.25,320.21 L501.76,320.35 L502.28,320.49 L502.80,320.63 L503.32,320.77 L503.84,320.91 L504.36,321.05 L504.88,321.19 L505.39,321.34 L505.91,321.48 L506.43,321.62 L506.95,321.76 L507.47,321.90 L507.99,322.04 L508.50,322.18 L509.02,322.32 L509.54,322.46 L510.06,322.61 L510.58,322.75 L511.09,322.89 L511.61,323.03 L512.13,323.17 L512.65,323.31 L513.17,323.45 L513.69,323.59 L514.20,323.73 L514.72,323.87 L515.24,324.01 L515.76,324.16 L516.28,324.30 L516.80,324.44 L517.31,324.58 L517.83,324.72 L518.35,324.86 L518.87,325.00 L519.39,325.14 L519.91,325.28 L520.42,325.43 L520.94,325.57 L521.46,325.71 L521.98,325.85 L522.50,325.99 L523.02,326.13 L523.53,326.27 L524.05,326.41 L524.57,326.55 L525.09,326.69 L525.61,326.83 L526.13,326.98 L526.64,327.12 L527.16,327.26 L527.68,327.40 L528.20,327.54 L528.72,327.68 L529.24,327.82 L529.75,327.96 L530.27,328.10 L530.79,328.25 L531.31,328.39 L531.83,328.53 L532.35,328.67 L532.87,328.81 L533.38,328.95 L533.90,329.09 L534.42,329.23 L534.94,329.37 L535.46,329.51 L535.97,329.65 L536.49,329.80 L537.01,329.94 L537.53,330.08 L538.05,330.22 L538.57,330.36 L539.08,330.50 L539.60,330.64 L540.12,330.78 L540.64,330.92 L541.16,331.06 L541.68,331.21 L542.19,331.35 L542.71,331.49 L543.23,331.63 L543.75,331.77 L544.27,331.91 L544.79,332.05 L545.30,332.19 L545.82,332.33 L546.34,332.48 L546.86,332.62 L547.38,332.76 L547.90,332.90 L548.41,333.04 L548.93,333.18 L549.45,333.32 L549.97,333.46 L550.49,333.60 L551.01,333.74 L551.52,333.88 L552.04,334.03 L552.56,334.17 L553.08,334.31 L553.60,334.45 L554.12,334.59 L554.63,334.73 L555.15,334.87 L555.67,335.01 L556.19,335.15 L556.71,335.30 L557.23,335.44 L557.74,335.58 L558.26,335.72 L558.78,335.86 L559.30,336.00 M405.40,291.69 L405.92,291.83 L406.44,291.97 L406.96,292.11 L407.48,292.26 L407.99,292.40 L408.51,292.54 L409.03,292.68 L409.55,292.82 L410.07,292.96 L410.59,293.10 L411.11,293.24 L411.62,293.38 L412.14,293.52 L412.66,293.66 L413.18,293.81 L413.70,293.95 L414.22,294.09 L414.73,294.23 L415.25,294.37 L415.77,294.51 L416.29,294.65 L416.81,294.79 L417.33,294.93 L417.85,295.07 L418.36,295.22 L418.88,295.36 L419.40,295.50 L419.92,295.64 L420.44,295.78 L420.96,295.92 L421.47,296.06 L421.99,296.20 L422.51,296.34 L423.03,296.48 L423.55,296.63 L424.07,296.77 L424.58,296.91 L425.10,297.05 L425.62,297.19 L426.14,297.33 L426.66,297.47 L427.18,297.61 L427.70,297.75 L428.21,297.89 L428.73,298.04 L429.25,298.18 L429.77,298.32 L430.29,298.46 L430.81,298.60 L431.32,298.74 L431.84,298.88 L432.36,299.02 L432.88,299.16 L433.40,299.30 L433.92,299.45 L434.44,299.59 L434.95,299.73 L435.47,299.87 L435.99,300.01 L436.51,300.15 L437.03,300.29 L437.55,300.43 L438.06,300.57 L438.58,300.71 L439.10,300.86 L439.62,301.00 L440.14,301.14 L440.66,301.28 L441.18,301.42 L441.69,301.56 L442.21,301.70 L442.73,301.84 L443.25,301.98 L443.77,302.12 L444.29,302.26 L444.80,302.41 L445.32,302.55 L445.84,302.69 L446.36,302.83 L446.88,302.97 L447.40,303.11 L447.92,303.25 L448.43,303.39 L448.95,303.53 L449.47,303.67 L449.99,303.82 L450.51,303.96 L451.03,304.10 L451.54,304.24 L452.06,304.38 L452.58,304.52 L453.10,304.66 L453.62,304.80 L454.14,304.94 L454.66,305.08 L455.17,305.23 L455.69,305.37 L456.21,305.51 L456.73,305.65 L457.25,305.79 L457.77,305.93 L458.28,306.07 L458.80,306.21 L459.32,306.35 L459.84,306.49 L460.36,306.64 L460.88,306.78 L461.40,306.92 L461.91,307.06 L462.43,307.20 L462.95,307.34 L463.47,307.48 L463.99,307.62 L464.51,307.76 L465.02,307.90 L465.54,308.05 L466.06,308.19 L466.58,308.33 L467.10,308.47 L467.62,308.61 L468.13,308.75 L468.65,308.89 L469.17,309.03 L469.69,309.17 L470.21,309.31 L470.73,309.46 L471.25,309.60 L471.76,309.74 L472.28,309.88 L472.80,310.02 L473.32,310.16 L473.84,310.30 L474.36,310.44 L474.87,310.58 L475.39,310.72 L475.91,310.87 L476.43,311.01 L476.95,311.15 L477.47,311.29 L477.99,311.43 L478.50,311.57 L479.02,311.71 L479.54,311.85 L480.06,311.99 L480.58,312.13 L481.10,312.27 L481.61,312.42 L482.13,312.56 L482.65,312.70 L483.17,312.84 L483.69,312.98 L484.21,313.12 L484.73,313.26 L485.24,313.40 L485.76,313.54 L486.28,313.68 L486.80,313.83 L487.32,313.97 L487.84,314.11 L488.35,314.25 L488.87,314.39 L489.39,314.53 L489.91,314.67 L490.43,314.81 L490.95,314.95 L491.47,315.09 L491.98,315.24 L492.50,315.38 L493.02,315.52 L493.54,315.66 L494.06,315.80 L494.58,315.94 L495.09,316.08 L495.61,316.22 L496.13,316.36 L496.65,316.50 L497.17,316.65 L497.69,316.79 L498.21,316.93 L498.72,317.07 L499.24,317.21 L499.76,317.35 L500.28,317.49 L500.80,317.63 L501.32,317.77 L501.83,317.91 L502.35,318.06 L502.87,318.20 L503.39,318.34 L503.91,318.48 L504.43,318.62 L504.94,318.76 L505.46,318.90 L505.98,319.04 L506.50,319.18 L507.02,319.32 L507.54,319.47 L508.06,319.61 L508.57,319.75 L509.09,319.89 L509.61,320.03 L510.13,320.17 L510.65,320.31 L511.17,320.45 L511.68,320.59 L512.20,320.73 L512.72,320.88 L513.24,321.02 L513.76,321.16 L514.28,321.30 L514.80,321.44 L515.31,321.58 L515.83,321.72 L516.35,321.86 L516.87,322.00 L517.39,322.14 L517.91,322.28 L518.42,322.43 L518.94,322.57 L519.46,322.71 L519.98,322.85 L520.50,322.99 L521.02,323.13 L521.54,323.27 L522.05,323.41 L522.57,323.55 L523.09,323.69 L523.61,323.84 L524.13,323.98 L524.65,324.12 L525.16,324.26 L525.68,324.40 L526.20,324.54 L526.72,324.68 L527.24,324.82 L527.76,324.96 L528.28,325.10 L528.79,325.25 L529.31,325.39 L529.83,325.53 L530.35,325.67 L530.87,325.81 L531.39,325.95 L531.90,326.09 L532.42,326.23 L532.94,326.37 L533.46,326.51 L533.98,326.66 L534.50,326.80 L535.02,326.94 L535.53,327.08 L536.05,327.22 L536.57,327.36 L537.09,327.50 L537.61,327.64 L538.13,327.78 L538.64,327.92 L539.16,328.07 L539.68,328.21 L540.20,328.35 L540.72,328.49 L541.24,328.63 L541.76,328.77 L542.27,328.91 L542.79,329.05 L543.31,329.19 L543.83,329.33 L544.35,329.48 L544.87,329.62 L545.38,329.76 L545.90,329.90 L546.42,330.04 L546.94,330.18 L547.46,330.32 L547.98,330.46 L548.49,330.60 L549.01,330.74 L549.53,330.88 L550.05,331.03 L550.57,331.17 L551.09,331.31 L551.61,331.45 L552.12,331.59 L552.64,331.73 L553.16,331.87 L553.68,332.01 L554.20,332.15 L554.72,332.29 L555.23,332.44 L555.75,332.58 L556.27,332.72 L556.79,332.86 L557.31,333.00 L557.83,333.14 L558.35,333.28 L558.86,333.42 L559.38,333.56 L559.90,333.70 L560.42,333.85 L560.94,333.99 M407.00,289.68 L407.52,289.82 L408.04,289.96 L408.56,290.11 L409.08,290.25 L409.60,290.39 L410.12,290.53 L410.63,290.67 L411.15,290.81 L411.67,290.95 L412.19,291.09 L412.71,291.23 L413.23,291.37 L413.75,291.51 L414.26,291.66 L414.78,291.80 L415.30,291.94 L415.82,292.08 L416.34,292.22 L416.86,292.36 L417.38,292.50 L417.89,292.64 L418.41,292.78 L418.93,292.92 L419.45,293.07 L419.97,293.21 L420.49,293.35 L421.01,293.49 L421.52,293.63 L422.04,293.77 L422.56,293.91 L423.08,294.05 L423.60,294.19 L424.12,294.33 L424.64,294.48 L425.15,294.62 L425.67,294.76 L426.19,294.90 L426.71,295.04 L427.23,295.18 L427.75,295.32 L428.27,295.46 L428.78,295.60 L429.30,295.74 L429.82,295.88 L430.34,296.03 L430.86,296.17 L431.38,296.31 L431.90,296.45 L432.41,296.59 L432.93,296.73 L433.45,296.87 L433.97,297.01 L434.49,297.15 L435.01,297.29 L435.53,297.44 L436.04,297.58 L436.56,297.72 L437.08,297.86 L437.60,298.00 L438.12,298.14 L438.64,298.28 L439.16,298.42 L439.67,298.56 L440.19,298.70 L440.71,298.85 L441.23,298.99 L441.75,299.13 L442.27,299.27 L442.79,299.41 L443.30,299.55 L443.82,299.69 L444.34,299.83 L444.86,299.97 L445.38,300.11 L445.90,300.25 L446.42,300.40 L446.93,300.54 L447.45,300.68 L447.97,300.82 L448.49,300.96 L449.01,301.10 L449.53,301.24 L450.05,301.38 L450.56,301.52 L451.08,301.66 L451.60,301.81 L452.12,301.95 L452.64,302.09 L453.16,302.23 L453.68,302.37 L454.19,302.51 L454.71,302.65 L455.23,302.79 L455.75,302.93 L456.27,303.07 L456.79,303.22 L457.31,303.36 L457.82,303.50 L458.34,303.64 L458.86,303.78 L459.38,303.92 L459.90,304.06 L460.42,304.20 L460.94,304.34 L461.45,304.48 L461.97,304.63 L462.49,304.77 L463.01,304.91 L463.53,305.05 L464.05,305.19 L464.57,305.33 L465.08,305.47 L465.60,305.61 L466.12,305.75 L466.64,305.89 L467.16,306.03 L467.68,306.18 L468.20,306.32 L468.71,306.46 L469.23,306.60 L469.75,306.74 L470.27,306.88 L470.79,307.02 L471.31,307.16 L471.83,307.30 L472.34,307.44 L472.86,307.59 L473.38,307.73 L473.90,307.87 L474.42,308.01 L474.94,308.15 L475.46,308.29 L475.97,308.43 L476.49,308.57 L477.01,308.71 L477.53,308.85 L478.05,309.00 L478.57,309.14 L479.09,309.28 L479.60,309.42 L480.12,309.56 L480.64,309.70 L481.16,309.84 L481.68,309.98 L482.20,310.12 L482.72,310.26 L483.23,310.40 L483.75,310.55 L484.27,310.69 L484.79,310.83 L485.31,310.97 L485.83,311.11 L486.35,311.25 L486.86,311.39 L487.38,311.53 L487.90,311.67 L488.42,311.81 L488.94,311.96 L489.46,312.10 L489.98,312.24 L490.49,312.38 L491.01,312.52 L491.53,312.66 L492.05,312.80 L492.57,312.94 L493.09,313.08 L493.61,313.22 L494.12,313.37 L494.64,313.51 L495.16,313.65 L495.68,313.79 L496.20,313.93 L496.72,314.07 L497.24,314.21 L497.75,314.35 L498.27,314.49 L498.79,314.63 L499.31,314.77 L499.83,314.92 L500.35,315.06 L500.87,315.20 L501.38,315.34 L501.90,315.48 L502.42,315.62 L502.94,315.76 L503.46,315.90 L503.98,316.04 L504.50,316.18 L505.01,316.33 L505.53,316.47 L506.05,316.61 L506.57,316.75 L507.09,316.89 L507.61,317.03 L508.13,317.17 L508.64,317.31 L509.16,317.45 L509.68,317.59 L510.20,317.74 L510.72,317.88 L511.24,318.02 L511.76,318.16 L512.27,318.30 L512.79,318.44 L513.31,318.58 L513.83,318.72 L514.35,318.86 L514.87,319.00 L515.39,319.15 L515.90,319.29 L516.42,319.43 L516.94,319.57 L517.46,319.71 L517.98,319.85 L518.50,319.99 L519.02,320.13 L519.53,320.27 L520.05,320.41 L520.57,320.55 L521.09,320.70 L521.61,320.84 L522.13,320.98 L522.65,321.12 L523.16,321.26 L523.68,321.40 L524.20,321.54 L524.72,321.68 L525.24,321.82 L525.76,321.96 L526.28,322.11 L526.79,322.25 L527.31,322.39 L527.83,322.53 L528.35,322.67 L528.87,322.81 L529.39,322.95 L529.91,323.09 L530.42,323.23 L530.94,323.37 L531.46,323.52 L531.98,323.66 L532.50,323.80 L533.02,323.94 L533.54,324.08 L534.05,324.22 L534.57,324.36 L535.09,324.50 L535.61,324.64 L536.13,324.78 L536.65,324.92 L537.17,325.07 L537.68,325.21 L538.20,325.35 L538.72,325.49 L539.24,325.63 L539.76,325.77 L540.28,325.91 L540.80,326.05 L541.31,326.19 L541.83,326.33 L542.35,326.48 L542.87,326.62 L543.39,326.76 L543.91,326.90 L544.43,327.04 L544.94,327.18 L545.46,327.32 L545.98,327.46 L546.50,327.60 L547.02,327.74 L547.54,327.89 L548.06,328.03 L548.57,328.17 L549.09,328.31 L549.61,328.45 L550.13,328.59 L550.65,328.73 L551.17,328.87 L551.69,329.01 L552.20,329.15 L552.72,329.29 L553.24,329.44 L553.76,329.58 L554.28,329.72 L554.80,329.86 L555.32,330.00 L555.83,330.14 L556.35,330.28 L556.87,330.42 L557.39,330.56 L557.91,330.70 L558.43,330.85 L558.95,330.99 L559.46,331.13 L559.98,331.27 L560.50,331.41 L561.02,331.55 L561.54,331.69 L562.06,331.83 L562.58,331.97 M408.61,287.67 L409.13,287.81 L409.64,287.96 L410.16,288.10 L410.68,288.24 L411.20,288.38 L411.72,288.52 L412.24,288.66 L412.76,288.80 L413.27,288.94 L413.79,289.08 L414.31,289.22 L414.83,289.36 L415.35,289.51 L415.87,289.65 L416.39,289.79 L416.91,289.93 L417.42,290.07 L417.94,290.21 L418.46,290.35 L418.98,290.49 L419.50,290.63 L420.02,290.77 L420.54,290.92 L421.06,291.06 L421.57,291.20 L422.09,291.34 L422.61,291.48 L423.13,291.62 L423.65,291.76 L424.17,291.90 L424.69,292.04 L425.20,292.18 L425.72,292.32 L426.24,292.47 L426.76,292.61 L427.28,292.75 L427.80,292.89 L428.32,293.03 L428.84,293.17 L429.35,293.31 L429.87,293.45 L430.39,293.59 L430.91,293.73 L431.43,293.88 L431.95,294.02 L432.47,294.16 L432.99,294.30 L433.50,294.44 L434.02,294.58 L434.54,294.72 L435.06,294.86 L435.58,295.00 L436.10,295.14 L436.62,295.28 L437.13,295.43 L437.65,295.57 L438.17,295.71 L438.69,295.85 L439.21,295.99 L439.73,296.13 L440.25,296.27 L440.77,296.41 L441.28,296.55 L441.80,296.69 L442.32,296.84 L442.84,296.98 L443.36,297.12 L443.88,297.26 L444.40,297.40 L444.91,297.54 L445.43,297.68 L445.95,297.82 L446.47,297.96 L446.99,298.10 L447.51,298.25 L448.03,298.39 L448.55,298.53 L449.06,298.67 L449.58,298.81 L450.10,298.95 L450.62,299.09 L451.14,299.23 L451.66,299.37 L452.18,299.51 L452.70,299.65 L453.21,299.80 L453.73,299.94 L454.25,300.08 L454.77,300.22 L455.29,300.36 L455.81,300.50 L456.33,300.64 L456.84,300.78 L457.36,300.92 L457.88,301.06 L458.40,301.21 L458.92,301.35 L459.44,301.49 L459.96,301.63 L460.48,301.77 L460.99,301.91 L461.51,302.05 L462.03,302.19 L462.55,302.33 L463.07,302.47 L463.59,302.61 L464.11,302.76 L464.63,302.90 L465.14,303.04 L465.66,303.18 L466.18,303.32 L466.70,303.46 L467.22,303.60 L467.74,303.74 L468.26,303.88 L468.77,304.02 L469.29,304.17 L469.81,304.31 L470.33,304.45 L470.85,304.59 L471.37,304.73 L471.89,304.87 L472.41,305.01 L472.92,305.15 L473.44,305.29 L473.96,305.43 L474.48,305.57 L475.00,305.71 L475.52,305.85 L476.04,305.97 L476.55,306.07 L477.07,306.11 L477.59,306.01 L478.11,305.63 L478.63,304.77 L479.15,303.12 L479.67,300.35 L480.19,296.17 L480.70,290.52 L481.22,283.71 L481.74,276.51 L482.26,270.05 L482.78,265.57 L483.30,264.05 L483.82,265.85 L484.34,270.61 L484.85,277.36 L485.37,284.84 L485.89,291.93 L486.41,297.86 L486.93,302.32 L487.45,305.38 L487.97,307.31 L488.48,308.45 L489.00,309.11 L489.52,309.49 L490.04,309.74 L490.56,309.92 L491.08,310.08 L491.60,310.22 L492.12,310.37 L492.63,310.51 L493.15,310.65 L493.67,310.79 L494.19,310.93 L494.71,311.07 L495.23,311.21 L495.75,311.35 L496.27,311.49 L496.78,311.64 L497.30,311.78 L497.82,311.92 L498.34,312.06 L498.86,312.20 L499.38,312.34 L499.90,312.48 L500.41,312.62 L500.93,312.76 L501.45,312.90 L501.97,313.05 L502.49,313.19 L503.01,313.33 L503.53,313.47 L504.05,313.61 L504.56,313.75 L505.08,313.89 L505.60,314.03 L506.12,314.17 L506.64,314.31 L507.16,314.45 L507.68,314.60 L508.19,314.74 L508.71,314.88 L509.23,315.02 L509.75,315.16 L510.27,315.30 L510.79,315.44 L511.31,315.58 L511.83,315.72 L512.34,315.86 L512.86,316.01 L513.38,316.15 L513.90,316.29 L514.42,316.43 L514.94,316.57 L515.46,316.71 L515.98,316.85 L516.49,316.99 L517.01,317.13 L517.53,317.27 L518.05,317.41 L518.57,317.56 L519.09,317.70 L519.61,317.84 L520.12,317.98 L520.64,318.12 L521.16,318.26 L521.68,318.40 L522.20,318.54 L522.72,318.68 L523.24,318.82 L523.76,318.97 L524.27,319.11 L524.79,319.25 L525.31,319.39 L525.83,319.53 L526.35,319.67 L526.87,319.81 L527.39,319.95 L527.91,320.09 L528.42,320.23 L528.94,320.38 L529.46,320.52 L529.98,320.66 L530.50,320.80 L531.02,320.94 L531.54,321.08 L532.05,321.22 L532.57,321.36 L533.09,321.50 L533.61,321.64 L534.13,321.78 L534.65,321.93 L535.17,322.07 L535.69,322.21 L536.20,322.35 L536.72,322.49 L537.24,322.63 L537.76,322.77 L538.28,322.91 L538.80,323.05 L539.32,323.19 L539.83,323.34 L540.35,323.48 L540.87,323.62 L541.39,323.76 L541.91,323.90 L542.43,324.04 L542.95,324.18 L543.47,324.32 L543.98,324.46 L544.50,324.60 L545.02,324.74 L545.54,324.89 L546.06,325.03 L546.58,325.17 L547.10,325.31 L547.62,325.45 L548.13,325.59 L548.65,325.73 L549.17,325.87 L549.69,326.01 L550.21,326.15 L550.73,326.30 L551.25,326.44 L551.76,326.58 L552.28,326.72 L552.80,326.86 L553.32,327.00 L553.84,327.14 L554.36,327.28 L554.88,327.42 L555.40,327.56 L555.91,327.70 L556.43,327.85 L556.95,327.99 L557.47,328.13 L557.99,328.27 L558.51,328.41 L559.03,328.55 L559.55,328.69 L560.06,328.83 L560.58,328.97 L561.10,329.11 L561.62,329.26 L562.14,329.40 L562.66,329.54 L563.18,329.68 L563.69,329.82 L564.21,329.96 M410.21,285.66 L410.73,285.81 L411.25,285.95 L411.77,286.09 L412.28,286.23 L412.80,286.37 L413.32,286.51 L413.84,286.65 L414.36,286.79 L414.88,286.93 L415.40,287.07 L415.92,287.21 L416.43,287.36 L416.95,287.50 L417.47,287.64 L417.99,287.78 L418.51,287.92 L419.03,288.06 L419.55,288.20 L420.07,288.34 L420.59,288.48 L421.10,288.62 L421.62,288.77 L422.14,288.91 L422.66,289.05 L423.18,289.19 L423.70,289.33 L424.22,289.47 L424.74,289.61 L425.25,289.75 L425.77,289.89 L426.29,290.03 L426.81,290.17 L427.33,290.32 L427.85,290.46 L428.37,290.60 L428.89,290.74 L429.40,290.88 L429.92,291.02 L430.44,291.16 L430.96,291.30 L431.48,291.44 L432.00,291.58 L432.52,291.72 L433.04,291.87 L433.56,292.01 L434.07,292.15 L434.59,292.29 L435.11,292.43 L435.63,292.57 L436.15,292.71 L436.67,292.85 L437.19,292.99 L437.71,293.13 L438.22,293.28 L438.74,293.42 L439.26,293.56 L439.78,293.70 L440.30,293.84 L440.82,293.98 L441.34,294.12 L441.86,294.26 L442.37,294.40 L442.89,294.54 L443.41,294.68 L443.93,294.83 L444.45,294.97 L444.97,295.11 L445.49,295.25 L446.01,295.39 L446.53,295.53 L447.04,295.67 L447.56,295.81 L448.08,295.95 L448.60,296.09 L449.12,296.23 L449.64,296.38 L450.16,296.52 L450.68,296.66 L451.19,296.80 L451.71,296.94 L452.23,297.08 L452.75,297.22 L453.27,297.36 L453.79,297.50 L454.31,297.64 L454.83,297.79 L455.35,297.93 L455.86,298.07 L456.38,298.21 L456.90,298.35 L457.42,298.49 L457.94,298.63 L458.46,298.77 L458.98,298.91 L459.50,299.05 L460.01,299.19 L460.53,299.34 L461.05,299.48 L461.57,299.62 L462.09,299.76 L462.61,299.90 L463.13,300.04 L463.65,300.18 L464.16,300.32 L464.68,300.46 L465.20,300.60 L465.72,300.75 L466.24,300.89 L466.76,301.03 L467.28,301.17 L467.80,301.31 L468.32,301.45 L468.83,301.59 L469.35,301.73 L469.87,301.87 L470.39,302.01 L470.91,302.15 L471.43,302.30 L471.95,302.44 L472.47,302.58 L472.98,302.72 L473.50,302.86 L474.02,303.00 L474.54,303.14 L475.06,303.28 L475.58,303.42 L476.10,303.56 L476.62,303.70 L477.14,303.84 L477.65,303.97 L478.17,304.08 L478.69,304.14 L479.21,304.09 L479.73,303.84 L480.25,303.21 L480.77,301.97 L481.29,299.87 L481.80,296.69 L482.32,292.37 L482.84,287.16 L483.36,281.65 L483.88,276.71 L484.40,273.30 L484.92,272.16 L485.44,273.58 L485.95,277.28 L486.47,282.50 L486.99,288.29 L487.51,293.78 L488.03,298.38 L488.55,301.84 L489.07,304.23 L489.59,305.74 L490.11,306.66 L490.62,307.19 L491.14,307.52 L491.66,307.74 L492.18,307.92 L492.70,308.07 L493.22,308.21 L493.74,308.36 L494.26,308.50 L494.77,308.64 L495.29,308.78 L495.81,308.92 L496.33,309.06 L496.85,309.20 L497.37,309.34 L497.89,309.48 L498.41,309.62 L498.92,309.77 L499.44,309.91 L499.96,310.05 L500.48,310.19 L501.00,310.33 L501.52,310.47 L502.04,310.61 L502.56,310.75 L503.08,310.89 L503.59,311.03 L504.11,311.17 L504.63,311.32 L505.15,311.46 L505.67,311.60 L506.19,311.74 L506.71,311.88 L507.23,312.02 L507.74,312.16 L508.26,312.30 L508.78,312.44 L509.30,312.58 L509.82,312.73 L510.34,312.87 L510.86,313.01 L511.38,313.15 L511.90,313.29 L512.41,313.43 L512.93,313.57 L513.45,313.71 L513.97,313.85 L514.49,313.99 L515.01,314.13 L515.53,314.28 L516.05,314.42 L516.56,314.56 L517.08,314.70 L517.60,314.84 L518.12,314.98 L518.64,315.12 L519.16,315.26 L519.68,315.40 L520.20,315.54 L520.71,315.68 L521.23,315.83 L521.75,315.97 L522.27,316.11 L522.79,316.25 L523.31,316.39 L523.83,316.53 L524.35,316.67 L524.87,316.81 L525.38,316.95 L525.90,317.09 L526.42,317.24 L526.94,317.38 L527.46,317.52 L527.98,317.66 L528.50,317.80 L529.02,317.94 L529.53,318.08 L530.05,318.22 L530.57,318.36 L531.09,318.50 L531.61,318.64 L532.13,318.79 L532.65,318.93 L533.17,319.07 L533.69,319.21 L534.20,319.35 L534.72,319.49 L535.24,319.63 L535.76,319.77 L536.28,319.91 L536.80,320.05 L537.32,320.19 L537.84,320.34 L538.35,320.48 L538.87,320.62 L539.39,320.76 L539.91,320.90 L540.43,321.04 L540.95,321.18 L541.47,321.32 L541.99,321.46 L542.50,321.60 L543.02,321.75 L543.54,321.89 L544.06,322.03 L544.58,322.17 L545.10,322.31 L545.62,322.45 L546.14,322.59 L546.66,322.73 L547.17,322.87 L547.69,323.01 L548.21,323.15 L548.73,323.30 L549.25,323.44 L549.77,323.58 L550.29,323.72 L550.81,323.86 L551.32,324.00 L551.84,324.14 L552.36,324.28 L552.88,324.42 L553.40,324.56 L553.92,324.71 L554.44,324.85 L554.96,324.99 L555.47,325.13 L555.99,325.27 L556.51,325.41 L557.03,325.55 L557.55,325.69 L558.07,325.83 L558.59,325.97 L559.11,326.11 L559.63,326.26 L560.14,326.40 L560.66,326.54 L561.18,326.68 L561.70,326.82 L562.22,326.96 L562.74,327.10 L563.26,327.24 L563.78,327.38 L564.29,327.52 L564.81,327.66 L565.33,327.81 L565.85,327.95 M411.81,283.66 L412.33,283.80 L412.85,283.94 L413.37,284.08 L413.89,284.22 L414.41,284.36 L414.92,284.50 L415.44,284.64 L415.96,284.78 L416.48,284.92 L417.00,285.06 L417.52,285.21 L418.04,285.35 L418.56,285.49 L419.08,285.63 L419.59,285.77 L420.11,285.91 L420.63,286.05 L421.15,286.19 L421.67,286.33 L422.19,286.47 L422.71,286.62 L423.23,286.76 L423.75,286.90 L424.27,287.04 L424.78,287.18 L425.30,287.32 L425.82,287.46 L426.34,287.60 L426.86,287.74 L427.38,287.88 L427.90,288.02 L428.42,288.17 L428.94,288.31 L429.45,288.45 L429.97,288.59 L430.49,288.73 L431.01,288.87 L431.53,289.01 L432.05,289.15 L432.57,289.29 L433.09,289.43 L433.61,289.57 L434.12,289.72 L434.64,289.86 L435.16,290.00 L435.68,290.14 L436.20,290.28 L436.72,290.42 L437.24,290.56 L437.76,290.70 L438.28,290.84 L438.80,290.98 L439.31,291.12 L439.83,291.27 L440.35,291.41 L440.87,291.55 L441.39,291.69 L441.91,291.83 L442.43,291.97 L442.95,292.11 L443.47,292.25 L443.98,292.39 L444.50,292.53 L445.02,292.67 L445.54,292.82 L446.06,292.96 L446.58,293.10 L447.10,293.24 L447.62,293.38 L448.14,293.52 L448.65,293.66 L449.17,293.80 L449.69,293.94 L450.21,294.08 L450.73,294.22 L451.25,294.37 L451.77,294.51 L452.29,294.65 L452.81,294.79 L453.33,294.93 L453.84,295.07 L454.36,295.21 L454.88,295.35 L455.40,295.49 L455.92,295.63 L456.44,295.78 L456.96,295.92 L457.48,296.06 L458.00,296.20 L458.51,296.34 L459.03,296.48 L459.55,296.62 L460.07,296.76 L460.59,296.90 L461.11,297.04 L461.63,297.18 L462.15,297.33 L462.67,297.47 L463.18,297.61 L463.70,297.75 L464.22,297.89 L464.74,298.03 L465.26,298.17 L465.78,298.31 L466.30,298.45 L466.82,298.59 L467.34,298.73 L467.86,298.88 L468.37,299.02 L468.89,299.16 L469.41,299.30 L469.93,299.44 L470.45,299.58 L470.97,299.72 L471.49,299.86 L472.01,300.00 L472.53,300.14 L473.04,300.28 L473.56,300.43 L474.08,300.57 L474.60,300.71 L475.12,300.85 L475.64,300.99 L476.16,301.13 L476.68,301.27 L477.20,301.41 L477.71,301.55 L478.23,301.69 L478.75,301.83 L479.27,301.96 L479.79,302.08 L480.31,302.16 L480.83,302.15 L481.35,301.99 L481.87,301.54 L482.39,300.62 L482.90,299.03 L483.42,296.62 L483.94,293.33 L484.46,289.36 L484.98,285.15 L485.50,281.38 L486.02,278.78 L486.54,277.94 L487.06,279.06 L487.57,281.94 L488.09,285.99 L488.61,290.48 L489.13,294.74 L489.65,298.31 L490.17,301.01 L490.69,302.87 L491.21,304.07 L491.73,304.81 L492.24,305.25 L492.76,305.54 L493.28,305.74 L493.80,305.91 L494.32,306.06 L494.84,306.20 L495.36,306.34 L495.88,306.49 L496.40,306.63 L496.91,306.77 L497.43,306.91 L497.95,307.05 L498.47,307.19 L498.99,307.33 L499.51,307.47 L500.03,307.61 L500.55,307.75 L501.07,307.89 L501.59,308.04 L502.10,308.18 L502.62,308.32 L503.14,308.46 L503.66,308.60 L504.18,308.74 L504.70,308.88 L505.22,309.02 L505.74,309.16 L506.26,309.30 L506.77,309.44 L507.29,309.59 L507.81,309.73 L508.33,309.87 L508.85,310.01 L509.37,310.15 L509.89,310.29 L510.41,310.43 L510.93,310.57 L511.44,310.71 L511.96,310.85 L512.48,311.00 L513.00,311.14 L513.52,311.28 L514.04,311.42 L514.56,311.56 L515.08,311.70 L515.60,311.84 L516.12,311.98 L516.63,312.12 L517.15,312.26 L517.67,312.40 L518.19,312.55 L518.71,312.69 L519.23,312.83 L519.75,312.97 L520.27,313.11 L520.79,313.25 L521.30,313.39 L521.82,313.53 L522.34,313.67 L522.86,313.81 L523.38,313.95 L523.90,314.10 L524.42,314.24 L524.94,314.38 L525.46,314.52 L525.97,314.66 L526.49,314.80 L527.01,314.94 L527.53,315.08 L528.05,315.22 L528.57,315.36 L529.09,315.50 L529.61,315.65 L530.13,315.79 L530.65,315.93 L531.16,316.07 L531.68,316.21 L532.20,316.35 L532.72,316.49 L533.24,316.63 L533.76,316.77 L534.28,316.91 L534.80,317.06 L535.32,317.20 L535.83,317.34 L536.35,317.48 L536.87,317.62 L537.39,317.76 L537.91,317.90 L538.43,318.04 L538.95,318.18 L539.47,318.32 L539.99,318.46 L540.50,318.61 L541.02,318.75 L541.54,318.89 L542.06,319.03 L542.58,319.17 L543.10,319.31 L543.62,319.45 L544.14,319.59 L544.66,319.73 L545.18,319.87 L545.69,320.01 L546.21,320.16 L546.73,320.30 L547.25,320.44 L547.77,320.58 L548.29,320.72 L548.81,320.86 L549.33,321.00 L549.85,321.14 L550.36,321.28 L550.88,321.42 L551.40,321.56 L551.92,321.71 L552.44,321.85 L552.96,321.99 L553.48,322.13 L554.00,322.27 L554.52,322.41 L555.03,322.55 L555.55,322.69 L556.07,322.83 L556.59,322.97 L557.11,323.11 L557.63,323.26 L558.15,323.40 L558.67,323.54 L559.19,323.68 L559.70,323.82 L560.22,323.96 L560.74,324.10 L561.26,324.24 L561.78,324.38 L562.30,324.52 L562.82,324.67 L563.34,324.81 L563.86,324.95 L564.38,325.09 L564.89,325.23 L565.41,325.37 L565.93,325.51 L566.45,325.65 L566.97,325.79 L567.49,325.93 M413.41,281.65 L413.93,281.79 L414.45,281.93 L414.97,282.07 L415.49,282.21 L416.01,282.35 L416.53,282.49 L417.05,282.63 L417.57,282.77 L418.08,282.91 L418.60,283.06 L419.12,283.20 L419.64,283.34 L420.16,283.48 L420.68,283.62 L421.20,283.76 L421.72,283.90 L422.24,284.04 L422.76,284.18 L423.28,284.32 L423.79,284.46 L424.31,284.61 L424.83,284.75 L425.35,284.89 L425.87,285.03 L426.39,285.17 L426.91,285.31 L427.43,285.45 L427.95,285.59 L428.47,285.73 L428.98,285.87 L429.50,286.01 L430.02,286.16 L430.54,286.30 L431.06,286.44 L431.58,286.58 L432.10,286.72 L432.62,286.86 L433.14,287.00 L433.66,287.14 L434.18,287.28 L434.69,287.42 L435.21,287.56 L435.73,287.71 L436.25,287.85 L436.77,287.99 L437.29,288.13 L437.81,288.27 L438.33,288.41 L438.85,288.55 L439.37,288.69 L439.88,288.83 L440.40,288.97 L440.92,289.11 L441.44,289.26 L441.96,289.40 L442.48,289.54 L443.00,289.68 L443.52,289.82 L444.04,289.96 L444.56,290.10 L445.08,290.24 L445.59,290.38 L446.11,290.52 L446.63,290.66 L447.15,290.81 L447.67,290.95 L448.19,291.09 L448.71,291.23 L449.23,291.37 L449.75,291.51 L450.27,291.65 L450.78,291.79 L451.30,291.93 L451.82,292.07 L452.34,292.21 L452.86,292.36 L453.38,292.50 L453.90,292.64 L454.42,292.78 L454.94,292.92 L455.46,293.06 L455.97,293.20 L456.49,293.34 L457.01,293.48 L457.53,293.62 L458.05,293.77 L458.57,293.91 L459.09,294.05 L459.61,294.19 L460.13,294.33 L460.65,294.47 L461.17,294.61 L461.68,294.75 L462.20,294.89 L462.72,295.03 L463.24,295.17 L463.76,295.32 L464.28,295.46 L464.80,295.60 L465.32,295.74 L465.84,295.88 L466.36,296.02 L466.87,296.16 L467.39,296.30 L467.91,296.44 L468.43,296.58 L468.95,296.72 L469.47,296.87 L469.99,297.01 L470.51,297.15 L471.03,297.29 L471.55,297.43 L472.07,297.57 L472.58,297.71 L473.10,297.85 L473.62,297.99 L474.14,298.13 L474.66,298.27 L475.18,298.42 L475.70,298.56 L476.22,298.70 L476.74,298.84 L477.26,298.98 L477.77,299.12 L478.29,299.26 L478.81,299.40 L479.33,299.54 L479.85,299.68 L480.37,299.82 L480.89,299.95 L481.41,300.08 L481.93,300.17 L482.45,300.20 L482.97,300.11 L483.48,299.79 L484.00,299.12 L484.52,297.93 L485.04,296.10 L485.56,293.60 L486.08,290.58 L486.60,287.37 L487.12,284.50 L487.64,282.54 L488.16,281.92 L488.67,282.82 L489.19,285.07 L489.71,288.22 L490.23,291.71 L490.75,295.01 L491.27,297.79 L491.79,299.90 L492.31,301.37 L492.83,302.33 L493.35,302.92 L493.87,303.30 L494.38,303.55 L494.90,303.74 L495.42,303.90 L495.94,304.05 L496.46,304.19 L496.98,304.33 L497.50,304.47 L498.02,304.62 L498.54,304.76 L499.06,304.90 L499.57,305.04 L500.09,305.18 L500.61,305.32 L501.13,305.46 L501.65,305.60 L502.17,305.74 L502.69,305.88 L503.21,306.02 L503.73,306.17 L504.25,306.31 L504.77,306.45 L505.28,306.59 L505.80,306.73 L506.32,306.87 L506.84,307.01 L507.36,307.15 L507.88,307.29 L508.40,307.43 L508.92,307.57 L509.44,307.72 L509.96,307.86 L510.47,308.00 L510.99,308.14 L511.51,308.28 L512.03,308.42 L512.55,308.56 L513.07,308.70 L513.59,308.84 L514.11,308.98 L514.63,309.12 L515.15,309.27 L515.67,309.41 L516.18,309.55 L516.70,309.69 L517.22,309.83 L517.74,309.97 L518.26,310.11 L518.78,310.25 L519.30,310.39 L519.82,310.53 L520.34,310.67 L520.86,310.82 L521.37,310.96 L521.89,311.10 L522.41,311.24 L522.93,311.38 L523.45,311.52 L523.97,311.66 L524.49,311.80 L525.01,311.94 L525.53,312.08 L526.05,312.22 L526.57,312.37 L527.08,312.51 L527.60,312.65 L528.12,312.79 L528.64,312.93 L529.16,313.07 L529.68,313.21 L530.20,313.35 L530.72,313.49 L531.24,313.63 L531.76,313.77 L532.27,313.92 L532.79,314.06 L533.31,314.20 L533.83,314.34 L534.35,314.48 L534.87,314.62 L535.39,314.76 L535.91,314.90 L536.43,315.04 L536.95,315.18 L537.46,315.32 L537.98,315.47 L538.50,315.61 L539.02,315.75 L539.54,315.89 L540.06,316.03 L540.58,316.17 L541.10,316.31 L541.62,316.45 L542.14,316.59 L542.66,316.73 L543.17,316.87 L543.69,317.02 L544.21,317.16 L544.73,317.30 L545.25,317.44 L545.77,317.58 L546.29,317.72 L546.81,317.86 L547.33,318.00 L547.85,318.14 L548.36,318.28 L548.88,318.42 L549.40,318.57 L549.92,318.71 L550.44,318.85 L550.96,318.99 L551.48,319.13 L552.00,319.27 L552.52,319.41 L553.04,319.55 L553.56,319.69 L554.07,319.83 L554.59,319.97 L555.11,320.12 L555.63,320.26 L556.15,320.40 L556.67,320.54 L557.19,320.68 L557.71,320.82 L558.23,320.96 L558.75,321.10 L559.26,321.24 L559.78,321.38 L560.30,321.52 L560.82,321.67 L561.34,321.81 L561.86,321.95 L562.38,322.09 L562.90,322.23 L563.42,322.37 L563.94,322.51 L564.46,322.65 L564.97,322.79 L565.49,322.93 L566.01,323.07 L566.53,323.22 L567.05,323.36 L567.57,323.50 L568.09,323.64 L568.61,323.78 L569.13,323.92 M415.02,279.64 L415.53,279.78 L416.05,279.92 L416.57,280.06 L417.09,280.20 L417.61,280.34 L418.13,280.48 L418.65,280.62 L419.17,280.76 L419.69,280.91 L420.21,281.05 L420.73,281.19 L421.25,281.33 L421.76,281.47 L422.28,281.61 L422.80,281.75 L423.32,281.89 L423.84,282.03 L424.36,282.17 L424.88,282.31 L425.40,282.46 L425.92,282.60 L426.44,282.74 L426.96,282.88 L427.48,283.02 L427.99,283.16 L428.51,283.30 L429.03,283.44 L429.55,283.58 L430.07,283.72 L430.59,283.86 L431.11,284.01 L431.63,284.15 L432.15,284.29 L432.67,284.43 L433.19,284.57 L433.71,284.71 L434.22,284.85 L434.74,284.99 L435.26,285.13 L435.78,285.27 L436.30,285.41 L436.82,285.56 L437.34,285.70 L437.86,285.84 L438.38,285.98 L438.90,286.12 L439.42,286.26 L439.94,286.40 L440.45,286.54 L440.97,286.68 L441.49,286.82 L442.01,286.96 L442.53,287.11 L443.05,287.25 L443.57,287.39 L444.09,287.53 L444.61,287.67 L445.13,287.81 L445.65,287.95 L446.17,288.09 L446.68,288.23 L447.20,288.37 L447.72,288.51 L448.24,288.66 L448.76,288.80 L449.28,288.94 L449.80,289.08 L450.32,289.22 L450.84,289.36 L451.36,289.50 L451.88,289.64 L452.40,289.78 L452.91,289.92 L453.43,290.06 L453.95,290.20 L454.47,290.35 L454.99,290.49 L455.51,290.63 L456.03,290.77 L456.55,290.91 L457.07,291.05 L457.59,291.19 L458.11,291.33 L458.63,291.47 L459.14,291.61 L459.66,291.75 L460.18,291.90 L460.70,292.04 L461.22,292.18 L461.74,292.32 L462.26,292.46 L462.78,292.60 L463.30,292.74 L463.82,292.88 L464.34,293.02 L464.86,293.16 L465.37,293.30 L465.89,293.45 L466.41,293.59 L466.93,293.73 L467.45,293.87 L467.97,294.01 L468.49,294.15 L469.01,294.29 L469.53,294.43 L470.05,294.57 L470.57,294.71 L471.09,294.85 L471.60,295.00 L472.12,295.14 L472.64,295.28 L473.16,295.42 L473.68,295.56 L474.20,295.70 L474.72,295.84 L475.24,295.98 L475.76,296.12 L476.28,296.26 L476.80,296.40 L477.32,296.55 L477.83,296.69 L478.35,296.83 L478.87,296.97 L479.39,297.11 L479.91,297.25 L480.43,297.39 L480.95,297.53 L481.47,297.67 L481.99,297.81 L482.51,297.95 L483.03,298.07 L483.55,298.18 L484.06,298.23 L484.58,298.19 L485.10,297.98 L485.62,297.50 L486.14,296.61 L486.66,295.24 L487.18,293.35 L487.70,291.06 L488.22,288.62 L488.74,286.45 L489.26,284.97 L489.78,284.53 L490.29,285.25 L490.81,287.01 L491.33,289.47 L491.85,292.18 L492.37,294.76 L492.89,296.93 L493.41,298.59 L493.93,299.75 L494.45,300.52 L494.97,301.01 L495.49,301.33 L496.00,301.56 L496.52,301.74 L497.04,301.89 L497.56,302.04 L498.08,302.18 L498.60,302.32 L499.12,302.46 L499.64,302.60 L500.16,302.74 L500.68,302.89 L501.20,303.03 L501.72,303.17 L502.23,303.31 L502.75,303.45 L503.27,303.59 L503.79,303.73 L504.31,303.87 L504.83,304.01 L505.35,304.15 L505.87,304.29 L506.39,304.44 L506.91,304.58 L507.43,304.72 L507.95,304.86 L508.46,305.00 L508.98,305.14 L509.50,305.28 L510.02,305.42 L510.54,305.56 L511.06,305.70 L511.58,305.84 L512.10,305.99 L512.62,306.13 L513.14,306.27 L513.66,306.41 L514.18,306.55 L514.69,306.69 L515.21,306.83 L515.73,306.97 L516.25,307.11 L516.77,307.25 L517.29,307.39 L517.81,307.54 L518.33,307.68 L518.85,307.82 L519.37,307.96 L519.89,308.10 L520.41,308.24 L520.92,308.38 L521.44,308.52 L521.96,308.66 L522.48,308.80 L523.00,308.94 L523.52,309.09 L524.04,309.23 L524.56,309.37 L525.08,309.51 L525.60,309.65 L526.12,309.79 L526.64,309.93 L527.15,310.07 L527.67,310.21 L528.19,310.35 L528.71,310.49 L529.23,310.63 L529.75,310.78 L530.27,310.92 L530.79,311.06 L531.31,311.20 L531.83,311.34 L532.35,311.48 L532.87,311.62 L533.38,311.76 L533.90,311.90 L534.42,312.04 L534.94,312.18 L535.46,312.33 L535.98,312.47 L536.50,312.61 L537.02,312.75 L537.54,312.89 L538.06,313.03 L538.58,313.17 L539.10,313.31 L539.61,313.45 L540.13,313.59 L540.65,313.73 L541.17,313.88 L541.69,314.02 L542.21,314.16 L542.73,314.30 L543.25,314.44 L543.77,314.58 L544.29,314.72 L544.81,314.86 L545.33,315.00 L545.84,315.14 L546.36,315.28 L546.88,315.43 L547.40,315.57 L547.92,315.71 L548.44,315.85 L548.96,315.99 L549.48,316.13 L550.00,316.27 L550.52,316.41 L551.04,316.55 L551.56,316.69 L552.07,316.83 L552.59,316.98 L553.11,317.12 L553.63,317.26 L554.15,317.40 L554.67,317.54 L555.19,317.68 L555.71,317.82 L556.23,317.96 L556.75,318.10 L557.27,318.24 L557.79,318.38 L558.30,318.53 L558.82,318.67 L559.34,318.81 L559.86,318.95 L560.38,319.09 L560.90,319.23 L561.42,319.37 L561.94,319.51 L562.46,319.65 L562.98,319.79 L563.50,319.93 L564.02,320.08 L564.53,320.22 L565.05,320.36 L565.57,320.50 L566.09,320.64 L566.61,320.78 L567.13,320.92 L567.65,321.06 L568.17,321.20 L568.69,321.34 L569.21,321.48 L569.73,321.62 L570.25,321.77 L570.76,321.91 M416.62,277.63 L417.14,277.77 L417.66,277.91 L418.18,278.05 L418.69,278.19 L419.21,278.33 L419.73,278.47 L420.25,278.62 L420.77,278.76 L421.29,278.90 L421.81,279.04 L422.33,279.18 L422.85,279.32 L423.37,279.46 L423.89,279.60 L424.41,279.74 L424.93,279.88 L425.45,280.02 L425.96,280.16 L426.48,280.31 L427.00,280.45 L427.52,280.59 L428.04,280.73 L428.56,280.87 L429.08,281.01 L429.60,281.15 L430.12,281.29 L430.64,281.43 L431.16,281.57 L431.68,281.71 L432.20,281.86 L432.72,282.00 L433.23,282.14 L433.75,282.28 L434.27,282.42 L434.79,282.56 L435.31,282.70 L435.83,282.84 L436.35,282.98 L436.87,283.12 L437.39,283.26 L437.91,283.41 L438.43,283.55 L438.95,283.69 L439.47,283.83 L439.99,283.97 L440.50,284.11 L441.02,284.25 L441.54,284.39 L442.06,284.53 L442.58,284.67 L443.10,284.81 L443.62,284.95 L444.14,285.10 L444.66,285.24 L445.18,285.38 L445.70,285.52 L446.22,285.66 L446.74,285.80 L447.26,285.94 L447.77,286.08 L448.29,286.22 L448.81,286.36 L449.33,286.50 L449.85,286.65 L450.37,286.79 L450.89,286.93 L451.41,287.07 L451.93,287.21 L452.45,287.35 L452.97,287.49 L453.49,287.63 L454.01,287.77 L454.53,287.91 L455.04,288.05 L455.56,288.19 L456.08,288.34 L456.60,288.48 L457.12,288.62 L457.64,288.76 L458.16,288.90 L458.68,289.04 L459.20,289.18 L459.72,289.32 L460.24,289.46 L460.76,289.60 L461.28,289.74 L461.80,289.89 L462.31,290.03 L462.83,290.17 L463.35,290.31 L463.87,290.45 L464.39,290.59 L464.91,290.73 L465.43,290.87 L465.95,291.01 L466.47,291.15 L466.99,291.29 L467.51,291.44 L468.03,291.58 L468.55,291.72 L469.07,291.86 L469.58,292.00 L470.10,292.14 L470.62,292.28 L471.14,292.42 L471.66,292.56 L472.18,292.70 L472.70,292.84 L473.22,292.98 L473.74,293.13 L474.26,293.27 L474.78,293.41 L475.30,293.55 L475.82,293.69 L476.34,293.83 L476.85,293.97 L477.37,294.11 L477.89,294.25 L478.41,294.39 L478.93,294.53 L479.45,294.68 L479.97,294.82 L480.49,294.96 L481.01,295.10 L481.53,295.24 L482.05,295.38 L482.57,295.52 L483.09,295.66 L483.61,295.80 L484.12,295.94 L484.64,296.07 L485.16,296.18 L485.68,296.25 L486.20,296.26 L486.72,296.13 L487.24,295.79 L487.76,295.14 L488.28,294.12 L488.80,292.69 L489.32,290.96 L489.84,289.12 L490.36,287.48 L490.88,286.37 L491.39,286.06 L491.91,286.65 L492.43,288.04 L492.95,289.96 L493.47,292.09 L493.99,294.10 L494.51,295.81 L495.03,297.11 L495.55,298.04 L496.07,298.66 L496.59,299.07 L497.11,299.35 L497.63,299.56 L498.14,299.73 L498.66,299.88 L499.18,300.03 L499.70,300.17 L500.22,300.31 L500.74,300.45 L501.26,300.59 L501.78,300.73 L502.30,300.87 L502.82,301.02 L503.34,301.16 L503.86,301.30 L504.38,301.44 L504.90,301.58 L505.41,301.72 L505.93,301.86 L506.45,302.00 L506.97,302.14 L507.49,302.28 L508.01,302.42 L508.53,302.56 L509.05,302.71 L509.57,302.85 L510.09,302.99 L510.61,303.13 L511.13,303.27 L511.65,303.41 L512.17,303.55 L512.68,303.69 L513.20,303.83 L513.72,303.97 L514.24,304.11 L514.76,304.26 L515.28,304.40 L515.80,304.54 L516.32,304.68 L516.84,304.82 L517.36,304.96 L517.88,305.10 L518.40,305.24 L518.92,305.38 L519.44,305.52 L519.95,305.66 L520.47,305.81 L520.99,305.95 L521.51,306.09 L522.03,306.23 L522.55,306.37 L523.07,306.51 L523.59,306.65 L524.11,306.79 L524.63,306.93 L525.15,307.07 L525.67,307.21 L526.19,307.35 L526.71,307.50 L527.22,307.64 L527.74,307.78 L528.26,307.92 L528.78,308.06 L529.30,308.20 L529.82,308.34 L530.34,308.48 L530.86,308.62 L531.38,308.76 L531.90,308.90 L532.42,309.05 L532.94,309.19 L533.46,309.33 L533.98,309.47 L534.49,309.61 L535.01,309.75 L535.53,309.89 L536.05,310.03 L536.57,310.17 L537.09,310.31 L537.61,310.45 L538.13,310.60 L538.65,310.74 L539.17,310.88 L539.69,311.02 L540.21,311.16 L540.73,311.30 L541.25,311.44 L541.76,311.58 L542.28,311.72 L542.80,311.86 L543.32,312.00 L543.84,312.14 L544.36,312.29 L544.88,312.43 L545.40,312.57 L545.92,312.71 L546.44,312.85 L546.96,312.99 L547.48,313.13 L548.00,313.27 L548.52,313.41 L549.03,313.55 L549.55,313.69 L550.07,313.84 L550.59,313.98 L551.11,314.12 L551.63,314.26 L552.15,314.40 L552.67,314.54 L553.19,314.68 L553.71,314.82 L554.23,314.96 L554.75,315.10 L555.27,315.24 L555.79,315.39 L556.30,315.53 L556.82,315.67 L557.34,315.81 L557.86,315.95 L558.38,316.09 L558.90,316.23 L559.42,316.37 L559.94,316.51 L560.46,316.65 L560.98,316.79 L561.50,316.93 L562.02,317.08 L562.54,317.22 L563.06,317.36 L563.57,317.50 L564.09,317.64 L564.61,317.78 L565.13,317.92 L565.65,318.06 L566.17,318.20 L566.69,318.34 L567.21,318.48 L567.73,318.63 L568.25,318.77 L568.77,318.91 L569.29,319.05 L569.81,319.19 L570.33,319.33 L570.84,319.47 L571.36,319.61 L571.88,319.75 L572.40,319.89 M418.22,275.62 L418.74,275.76 L419.26,275.90 L419.78,276.04 L420.30,276.18 L420.82,276.32 L421.34,276.47 L421.86,276.61 L422.38,276.75 L422.89,276.89 L423.41,277.03 L423.93,277.17 L424.45,277.31 L424.97,277.45 L425.49,277.59 L426.01,277.73 L426.53,277.87 L427.05,278.01 L427.57,278.16 L428.09,278.30 L428.61,278.44 L429.13,278.58 L429.65,278.72 L430.17,278.86 L430.69,279.00 L431.20,279.14 L431.72,279.28 L432.24,279.42 L432.76,279.56 L433.28,279.71 L433.80,279.85 L434.32,279.99 L434.84,280.13 L435.36,280.27 L435.88,280.41 L436.40,280.55 L436.92,280.69 L437.44,280.83 L437.96,280.97 L438.48,281.11 L439.00,281.25 L439.52,281.40 L440.03,281.54 L440.55,281.68 L441.07,281.82 L441.59,281.96 L442.11,282.10 L442.63,282.24 L443.15,282.38 L443.67,282.52 L444.19,282.66 L444.71,282.80 L445.23,282.95 L445.75,283.09 L446.27,283.23 L446.79,283.37 L447.31,283.51 L447.83,283.65 L448.35,283.79 L448.86,283.93 L449.38,284.07 L449.90,284.21 L450.42,284.35 L450.94,284.49 L451.46,284.64 L451.98,284.78 L452.50,284.92 L453.02,285.06 L453.54,285.20 L454.06,285.34 L454.58,285.48 L455.10,285.62 L455.62,285.76 L456.14,285.90 L456.66,286.04 L457.18,286.19 L457.69,286.33 L458.21,286.47 L458.73,286.61 L459.25,286.75 L459.77,286.89 L460.29,287.03 L460.81,287.17 L461.33,287.31 L461.85,287.45 L462.37,287.59 L462.89,287.73 L463.41,287.88 L463.93,288.02 L464.45,288.16 L464.97,288.30 L465.49,288.44 L466.00,288.58 L466.52,288.72 L467.04,288.86 L467.56,289.00 L468.08,289.14 L468.60,289.28 L469.12,289.42 L469.64,289.57 L470.16,289.71 L470.68,289.85 L471.20,289.99 L471.72,290.13 L472.24,290.27 L472.76,290.41 L473.28,290.55 L473.80,290.69 L474.32,290.83 L474.83,290.97 L475.35,291.12 L475.87,291.26 L476.39,291.40 L476.91,291.54 L477.43,291.68 L477.95,291.82 L478.47,291.96 L478.99,292.10 L479.51,292.24 L480.03,292.38 L480.55,292.52 L481.07,292.66 L481.59,292.81 L482.11,292.95 L482.63,293.09 L483.14,293.23 L483.66,293.37 L484.18,293.51 L484.70,293.65 L485.22,293.79 L485.74,293.93 L486.26,294.06 L486.78,294.18 L487.30,294.27 L487.82,294.30 L488.34,294.24 L488.86,294.01 L489.38,293.54 L489.90,292.79 L490.42,291.72 L490.94,290.42 L491.46,289.04 L491.97,287.81 L492.49,286.99 L493.01,286.78 L493.53,287.27 L494.05,288.37 L494.57,289.88 L495.09,291.55 L495.61,293.13 L496.13,294.48 L496.65,295.51 L497.17,296.26 L497.69,296.77 L498.21,297.12 L498.73,297.37 L499.25,297.56 L499.77,297.72 L500.29,297.87 L500.80,298.02 L501.32,298.16 L501.84,298.30 L502.36,298.44 L502.88,298.58 L503.40,298.72 L503.92,298.86 L504.44,299.00 L504.96,299.14 L505.48,299.29 L506.00,299.43 L506.52,299.57 L507.04,299.71 L507.56,299.85 L508.08,299.99 L508.60,300.13 L509.12,300.27 L509.63,300.41 L510.15,300.55 L510.67,300.69 L511.19,300.84 L511.71,300.98 L512.23,301.12 L512.75,301.26 L513.27,301.40 L513.79,301.54 L514.31,301.68 L514.83,301.82 L515.35,301.96 L515.87,302.10 L516.39,302.24 L516.91,302.38 L517.43,302.53 L517.94,302.67 L518.46,302.81 L518.98,302.95 L519.50,303.09 L520.02,303.23 L520.54,303.37 L521.06,303.51 L521.58,303.65 L522.10,303.79 L522.62,303.93 L523.14,304.08 L523.66,304.22 L524.18,304.36 L524.70,304.50 L525.22,304.64 L525.74,304.78 L526.26,304.92 L526.77,305.06 L527.29,305.20 L527.81,305.34 L528.33,305.48 L528.85,305.62 L529.37,305.77 L529.89,305.91 L530.41,306.05 L530.93,306.19 L531.45,306.33 L531.97,306.47 L532.49,306.61 L533.01,306.75 L533.53,306.89 L534.05,307.03 L534.57,307.17 L535.08,307.31 L535.60,307.46 L536.12,307.60 L536.64,307.74 L537.16,307.88 L537.68,308.02 L538.20,308.16 L538.72,308.30 L539.24,308.44 L539.76,308.58 L540.28,308.72 L540.80,308.86 L541.32,309.01 L541.84,309.15 L542.36,309.29 L542.88,309.43 L543.40,309.57 L543.91,309.71 L544.43,309.85 L544.95,309.99 L545.47,310.13 L545.99,310.27 L546.51,310.41 L547.03,310.55 L547.55,310.70 L548.07,310.84 L548.59,310.98 L549.11,311.12 L549.63,311.26 L550.15,311.40 L550.67,311.54 L551.19,311.68 L551.71,311.82 L552.23,311.96 L552.74,312.10 L553.26,312.25 L553.78,312.39 L554.30,312.53 L554.82,312.67 L555.34,312.81 L555.86,312.95 L556.38,313.09 L556.90,313.23 L557.42,313.37 L557.94,313.51 L558.46,313.65 L558.98,313.79 L559.50,313.94 L560.02,314.08 L560.54,314.22 L561.05,314.36 L561.57,314.50 L562.09,314.64 L562.61,314.78 L563.13,314.92 L563.65,315.06 L564.17,315.20 L564.69,315.34 L565.21,315.49 L565.73,315.63 L566.25,315.77 L566.77,315.91 L567.29,316.05 L567.81,316.19 L568.33,316.33 L568.85,316.47 L569.37,316.61 L569.88,316.75 L570.40,316.89 L570.92,317.03 L571.44,317.18 L571.96,317.32 L572.48,317.46 L573.00,317.60 L573.52,317.74 L574.04,317.88 M419.82,273.61 L420.34,273.75 L420.86,273.89 L421.38,274.03 L421.90,274.17 L422.42,274.32 L422.94,274.46 L423.46,274.60 L423.98,274.74 L424.50,274.88 L425.02,275.02 L425.54,275.16 L426.06,275.30 L426.58,275.44 L427.10,275.58 L427.62,275.72 L428.13,275.86 L428.65,276.01 L429.17,276.15 L429.69,276.29 L430.21,276.43 L430.73,276.57 L431.25,276.71 L431.77,276.85 L432.29,276.99 L432.81,277.13 L433.33,277.27 L433.85,277.41 L434.37,277.55 L434.89,277.70 L435.41,277.84 L435.93,277.98 L436.45,278.12 L436.97,278.26 L437.49,278.40 L438.01,278.54 L438.52,278.68 L439.04,278.82 L439.56,278.96 L440.08,279.10 L440.60,279.25 L441.12,279.39 L441.64,279.53 L442.16,279.67 L442.68,279.81 L443.20,279.95 L443.72,280.09 L444.24,280.23 L444.76,280.37 L445.28,280.51 L445.80,280.65 L446.32,280.79 L446.84,280.94 L447.36,281.08 L447.88,281.22 L448.40,281.36 L448.92,281.50 L449.43,281.64 L449.95,281.78 L450.47,281.92 L450.99,282.06 L451.51,282.20 L452.03,282.34 L452.55,282.48 L453.07,282.63 L453.59,282.77 L454.11,282.91 L454.63,283.05 L455.15,283.19 L455.67,283.33 L456.19,283.47 L456.71,283.61 L457.23,283.75 L457.75,283.89 L458.27,284.03 L458.79,284.18 L459.31,284.32 L459.83,284.46 L460.34,284.60 L460.86,284.74 L461.38,284.88 L461.90,285.02 L462.42,285.16 L462.94,285.30 L463.46,285.44 L463.98,285.58 L464.50,285.72 L465.02,285.87 L465.54,286.01 L466.06,286.15 L466.58,286.29 L467.10,286.43 L467.62,286.57 L468.14,286.71 L468.66,286.85 L469.18,286.99 L469.70,287.13 L470.22,287.27 L470.74,287.41 L471.25,287.56 L471.77,287.70 L472.29,287.84 L472.81,287.98 L473.33,288.12 L473.85,288.26 L474.37,288.40 L474.89,288.54 L475.41,288.68 L475.93,288.82 L476.45,288.96 L476.97,289.10 L477.49,289.25 L478.01,289.39 L478.53,289.53 L479.05,289.67 L479.57,289.81 L480.09,289.95 L480.61,290.09 L481.13,290.23 L481.64,290.37 L482.16,290.51 L482.68,290.65 L483.20,290.80 L483.72,290.94 L484.24,291.08 L484.76,291.22 L485.28,291.36 L485.80,291.50 L486.32,291.64 L486.84,291.78 L487.36,291.92 L487.88,292.05 L488.40,292.18 L488.92,292.28 L489.44,292.34 L489.96,292.32 L490.48,292.17 L491.00,291.85 L491.52,291.30 L492.04,290.51 L492.55,289.54 L493.07,288.51 L493.59,287.60 L494.11,287.00 L494.63,286.88 L495.15,287.28 L495.67,288.16 L496.19,289.36 L496.71,290.67 L497.23,291.92 L497.75,292.99 L498.27,293.82 L498.79,294.43 L499.31,294.85 L499.83,295.15 L500.35,295.38 L500.87,295.56 L501.39,295.71 L501.91,295.86 L502.43,296.01 L502.95,296.15 L503.46,296.29 L503.98,296.43 L504.50,296.57 L505.02,296.71 L505.54,296.85 L506.06,296.99 L506.58,297.13 L507.10,297.27 L507.62,297.42 L508.14,297.56 L508.66,297.70 L509.18,297.84 L509.70,297.98 L510.22,298.12 L510.74,298.26 L511.26,298.40 L511.78,298.54 L512.30,298.68 L512.82,298.82 L513.34,298.96 L513.86,299.11 L514.37,299.25 L514.89,299.39 L515.41,299.53 L515.93,299.67 L516.45,299.81 L516.97,299.95 L517.49,300.09 L518.01,300.23 L518.53,300.37 L519.05,300.51 L519.57,300.65 L520.09,300.80 L520.61,300.94 L521.13,301.08 L521.65,301.22 L522.17,301.36 L522.69,301.50 L523.21,301.64 L523.73,301.78 L524.25,301.92 L524.76,302.06 L525.28,302.20 L525.80,302.34 L526.32,302.49 L526.84,302.63 L527.36,302.77 L527.88,302.91 L528.40,303.05 L528.92,303.19 L529.44,303.33 L529.96,303.47 L530.48,303.61 L531.00,303.75 L531.52,303.89 L532.04,304.04 L532.56,304.18 L533.08,304.32 L533.60,304.46 L534.12,304.60 L534.64,304.74 L535.16,304.88 L535.67,305.02 L536.19,305.16 L536.71,305.30 L537.23,305.44 L537.75,305.58 L538.27,305.73 L538.79,305.87 L539.31,306.01 L539.83,306.15 L540.35,306.29 L540.87,306.43 L541.39,306.57 L541.91,306.71 L542.43,306.85 L542.95,306.99 L543.47,307.13 L543.99,307.27 L544.51,307.42 L545.03,307.56 L545.55,307.70 L546.07,307.84 L546.58,307.98 L547.10,308.12 L547.62,308.26 L548.14,308.40 L548.66,308.54 L549.18,308.68 L549.70,308.82 L550.22,308.96 L550.74,309.11 L551.26,309.25 L551.78,309.39 L552.30,309.53 L552.82,309.67 L553.34,309.81 L553.86,309.95 L554.38,310.09 L554.90,310.23 L555.42,310.37 L555.94,310.51 L556.46,310.66 L556.98,310.80 L557.49,310.94 L558.01,311.08 L558.53,311.22 L559.05,311.36 L559.57,311.50 L560.09,311.64 L560.61,311.78 L561.13,311.92 L561.65,312.06 L562.17,312.20 L562.69,312.35 L563.21,312.49 L563.73,312.63 L564.25,312.77 L564.77,312.91 L565.29,313.05 L565.81,313.19 L566.33,313.33 L566.85,313.47 L567.37,313.61 L567.88,313.75 L568.40,313.89 L568.92,314.04 L569.44,314.18 L569.96,314.32 L570.48,314.46 L571.00,314.60 L571.52,314.74 L572.04,314.88 L572.56,315.02 L573.08,315.16 L573.60,315.30 L574.12,315.44 L574.64,315.58 L575.16,315.73 L575.68,315.87 M421.42,271.60 L421.94,271.74 L422.46,271.88 L422.98,272.02 L423.50,272.17 L424.02,272.31 L424.54,272.45 L425.06,272.59 L425.58,272.73 L426.10,272.87 L426.62,273.01 L427.14,273.15 L427.66,273.29 L428.18,273.43 L428.70,273.57 L429.22,273.71 L429.74,273.86 L430.26,274.00 L430.78,274.14 L431.30,274.28 L431.82,274.42 L432.34,274.56 L432.86,274.70 L433.38,274.84 L433.90,274.98 L434.42,275.12 L434.94,275.26 L435.45,275.40 L435.97,275.55 L436.49,275.69 L437.01,275.83 L437.53,275.97 L438.05,276.11 L438.57,276.25 L439.09,276.39 L439.61,276.53 L440.13,276.67 L440.65,276.81 L441.17,276.95 L441.69,277.09 L442.21,277.24 L442.73,277.38 L443.25,277.52 L443.77,277.66 L444.29,277.80 L444.81,277.94 L445.33,278.08 L445.85,278.22 L446.37,278.36 L446.89,278.50 L447.41,278.64 L447.93,278.78 L448.45,278.93 L448.97,279.07 L449.48,279.21 L450.00,279.35 L450.52,279.49 L451.04,279.63 L451.56,279.77 L452.08,279.91 L452.60,280.05 L453.12,280.19 L453.64,280.33 L454.16,280.47 L454.68,280.62 L455.20,280.76 L455.72,280.90 L456.24,281.04 L456.76,281.18 L457.28,281.32 L457.80,281.46 L458.32,281.60 L458.84,281.74 L459.36,281.88 L459.88,282.02 L460.40,282.16 L460.92,282.31 L461.44,282.45 L461.96,282.59 L462.48,282.73 L463.00,282.87 L463.52,283.01 L464.03,283.15 L464.55,283.29 L465.07,283.43 L465.59,283.57 L466.11,283.71 L466.63,283.86 L467.15,284.00 L467.67,284.14 L468.19,284.28 L468.71,284.42 L469.23,284.56 L469.75,284.70 L470.27,284.84 L470.79,284.98 L471.31,285.12 L471.83,285.26 L472.35,285.40 L472.87,285.55 L473.39,285.69 L473.91,285.83 L474.43,285.97 L474.95,286.11 L475.47,286.25 L475.99,286.39 L476.51,286.53 L477.03,286.67 L477.55,286.81 L478.06,286.95 L478.58,287.09 L479.10,287.24 L479.62,287.38 L480.14,287.52 L480.66,287.66 L481.18,287.80 L481.70,287.94 L482.22,288.08 L482.74,288.22 L483.26,288.36 L483.78,288.50 L484.30,288.64 L484.82,288.78 L485.34,288.93 L485.86,289.07 L486.38,289.21 L486.90,289.35 L487.42,289.49 L487.94,289.63 L488.46,289.77 L488.98,289.91 L489.50,290.04 L490.02,290.17 L490.54,290.28 L491.06,290.36 L491.58,290.38 L492.10,290.30 L492.61,290.08 L493.13,289.69 L493.65,289.12 L494.17,288.41 L494.69,287.64 L495.21,286.97 L495.73,286.55 L496.25,286.48 L496.77,286.83 L497.29,287.54 L497.81,288.49 L498.33,289.53 L498.85,290.53 L499.37,291.38 L499.89,292.05 L500.41,292.55 L500.93,292.91 L501.45,293.18 L501.97,293.38 L502.49,293.55 L503.01,293.71 L503.53,293.85 L504.05,293.99 L504.57,294.14 L505.09,294.28 L505.61,294.42 L506.13,294.56 L506.64,294.70 L507.16,294.84 L507.68,294.98 L508.20,295.12 L508.72,295.26 L509.24,295.40 L509.76,295.54 L510.28,295.69 L510.80,295.83 L511.32,295.97 L511.84,296.11 L512.36,296.25 L512.88,296.39 L513.40,296.53 L513.92,296.67 L514.44,296.81 L514.96,296.95 L515.48,297.09 L516.00,297.23 L516.52,297.38 L517.04,297.52 L517.56,297.66 L518.08,297.80 L518.60,297.94 L519.12,298.08 L519.64,298.22 L520.16,298.36 L520.68,298.50 L521.19,298.64 L521.71,298.78 L522.23,298.92 L522.75,299.07 L523.27,299.21 L523.79,299.35 L524.31,299.49 L524.83,299.63 L525.35,299.77 L525.87,299.91 L526.39,300.05 L526.91,300.19 L527.43,300.33 L527.95,300.47 L528.47,300.61 L528.99,300.76 L529.51,300.90 L530.03,301.04 L530.55,301.18 L531.07,301.32 L531.59,301.46 L532.11,301.60 L532.63,301.74 L533.15,301.88 L533.67,302.02 L534.19,302.16 L534.71,302.30 L535.22,302.45 L535.74,302.59 L536.26,302.73 L536.78,302.87 L537.30,303.01 L537.82,303.15 L538.34,303.29 L538.86,303.43 L539.38,303.57 L539.90,303.71 L540.42,303.85 L540.94,303.99 L541.46,304.14 L541.98,304.28 L542.50,304.42 L543.02,304.56 L543.54,304.70 L544.06,304.84 L544.58,304.98 L545.10,305.12 L545.62,305.26 L546.14,305.40 L546.66,305.54 L547.18,305.68 L547.70,305.83 L548.22,305.97 L548.74,306.11 L549.26,306.25 L549.77,306.39 L550.29,306.53 L550.81,306.67 L551.33,306.81 L551.85,306.95 L552.37,307.09 L552.89,307.23 L553.41,307.37 L553.93,307.52 L554.45,307.66 L554.97,307.80 L555.49,307.94 L556.01,308.08 L556.53,308.22 L557.05,308.36 L557.57,308.50 L558.09,308.64 L558.61,308.78 L559.13,308.92 L559.65,309.06 L560.17,309.21 L560.69,309.35 L561.21,309.49 L561.73,309.63 L562.25,309.77 L562.77,309.91 L563.29,310.05 L563.80,310.19 L564.32,310.33 L564.84,310.47 L565.36,310.61 L565.88,310.75 L566.40,310.90 L566.92,311.04 L567.44,311.18 L567.96,311.32 L568.48,311.46 L569.00,311.60 L569.52,311.74 L570.04,311.88 L570.56,312.02 L571.08,312.16 L571.60,312.30 L572.12,312.44 L572.64,312.59 L573.16,312.73 L573.68,312.87 L574.20,313.01 L574.72,313.15 L575.24,313.29 L575.76,313.43 L576.28,313.57 L576.80,313.71 L577.32,313.85 M423.03,269.59 L423.55,269.73 L424.07,269.87 L424.59,270.02 L425.11,270.16 L425.63,270.30 L426.15,270.44 L426.66,270.58 L427.18,270.72 L427.70,270.86 L428.22,271.00 L428.74,271.14 L429.26,271.28 L429.78,271.42 L430.30,271.56 L430.82,271.71 L431.34,271.85 L431.86,271.99 L432.38,272.13 L432.90,272.27 L433.42,272.41 L433.94,272.55 L434.46,272.69 L434.98,272.83 L435.50,272.97 L436.02,273.11 L436.54,273.25 L437.06,273.40 L437.58,273.54 L438.10,273.68 L438.62,273.82 L439.14,273.96 L439.66,274.10 L440.18,274.24 L440.70,274.38 L441.22,274.52 L441.74,274.66 L442.26,274.80 L442.78,274.94 L443.30,275.09 L443.82,275.23 L444.34,275.37 L444.86,275.51 L445.38,275.65 L445.90,275.79 L446.42,275.93 L446.94,276.07 L447.46,276.21 L447.97,276.35 L448.49,276.49 L449.01,276.63 L449.53,276.78 L450.05,276.92 L450.57,277.06 L451.09,277.20 L451.61,277.34 L452.13,277.48 L452.65,277.62 L453.17,277.76 L453.69,277.90 L454.21,278.04 L454.73,278.18 L455.25,278.32 L455.77,278.47 L456.29,278.61 L456.81,278.75 L457.33,278.89 L457.85,279.03 L458.37,279.17 L458.89,279.31 L459.41,279.45 L459.93,279.59 L460.45,279.73 L460.97,279.87 L461.49,280.01 L462.01,280.15 L462.53,280.30 L463.05,280.44 L463.57,280.58 L464.09,280.72 L464.61,280.86 L465.13,281.00 L465.65,281.14 L466.17,281.28 L466.69,281.42 L467.21,281.56 L467.73,281.70 L468.25,281.84 L468.77,281.99 L469.28,282.13 L469.80,282.27 L470.32,282.41 L470.84,282.55 L471.36,282.69 L471.88,282.83 L472.40,282.97 L472.92,283.11 L473.44,283.25 L473.96,283.39 L474.48,283.53 L475.00,283.68 L475.52,283.82 L476.04,283.96 L476.56,284.10 L477.08,284.24 L477.60,284.38 L478.12,284.52 L478.64,284.66 L479.16,284.80 L479.68,284.94 L480.20,285.08 L480.72,285.22 L481.24,285.37 L481.76,285.51 L482.28,285.65 L482.80,285.79 L483.32,285.93 L483.84,286.07 L484.36,286.21 L484.88,286.35 L485.40,286.49 L485.92,286.63 L486.44,286.77 L486.96,286.91 L487.48,287.06 L488.00,287.20 L488.52,287.34 L489.04,287.48 L489.56,287.62 L490.08,287.76 L490.59,287.90 L491.11,288.03 L491.63,288.17 L492.15,288.28 L492.67,288.38 L493.19,288.42 L493.71,288.39 L494.23,288.26 L494.75,287.99 L495.27,287.58 L495.79,287.07 L496.31,286.51 L496.83,286.03 L497.35,285.73 L497.87,285.72 L498.39,286.01 L498.91,286.59 L499.43,287.36 L499.95,288.19 L500.47,288.99 L500.99,289.68 L501.51,290.23 L502.03,290.65 L502.55,290.96 L503.07,291.19 L503.59,291.38 L504.11,291.55 L504.63,291.70 L505.15,291.84 L505.67,291.98 L506.19,292.12 L506.71,292.27 L507.23,292.41 L507.75,292.55 L508.27,292.69 L508.79,292.83 L509.31,292.97 L509.83,293.11 L510.35,293.25 L510.87,293.39 L511.39,293.53 L511.90,293.67 L512.42,293.81 L512.94,293.96 L513.46,294.10 L513.98,294.24 L514.50,294.38 L515.02,294.52 L515.54,294.66 L516.06,294.80 L516.58,294.94 L517.10,295.08 L517.62,295.22 L518.14,295.36 L518.66,295.50 L519.18,295.65 L519.70,295.79 L520.22,295.93 L520.74,296.07 L521.26,296.21 L521.78,296.35 L522.30,296.49 L522.82,296.63 L523.34,296.77 L523.86,296.91 L524.38,297.05 L524.90,297.19 L525.42,297.34 L525.94,297.48 L526.46,297.62 L526.98,297.76 L527.50,297.90 L528.02,298.04 L528.54,298.18 L529.06,298.32 L529.58,298.46 L530.10,298.60 L530.62,298.74 L531.14,298.88 L531.66,299.03 L532.18,299.17 L532.70,299.31 L533.21,299.45 L533.73,299.59 L534.25,299.73 L534.77,299.87 L535.29,300.01 L535.81,300.15 L536.33,300.29 L536.85,300.43 L537.37,300.57 L537.89,300.72 L538.41,300.86 L538.93,301.00 L539.45,301.14 L539.97,301.28 L540.49,301.42 L541.01,301.56 L541.53,301.70 L542.05,301.84 L542.57,301.98 L543.09,302.12 L543.61,302.26 L544.13,302.40 L544.65,302.55 L545.17,302.69 L545.69,302.83 L546.21,302.97 L546.73,303.11 L547.25,303.25 L547.77,303.39 L548.29,303.53 L548.81,303.67 L549.33,303.81 L549.85,303.95 L550.37,304.09 L550.89,304.24 L551.41,304.38 L551.93,304.52 L552.45,304.66 L552.97,304.80 L553.49,304.94 L554.01,305.08 L554.52,305.22 L555.04,305.36 L555.56,305.50 L556.08,305.64 L556.60,305.78 L557.12,305.93 L557.64,306.07 L558.16,306.21 L558.68,306.35 L559.20,306.49 L559.72,306.63 L560.24,306.77 L560.76,306.91 L561.28,307.05 L561.80,307.19 L562.32,307.33 L562.84,307.47 L563.36,307.62 L563.88,307.76 L564.40,307.90 L564.92,308.04 L565.44,308.18 L565.96,308.32 L566.48,308.46 L567.00,308.60 L567.52,308.74 L568.04,308.88 L568.56,309.02 L569.08,309.16 L569.60,309.31 L570.12,309.45 L570.64,309.59 L571.16,309.73 L571.68,309.87 L572.20,310.01 L572.72,310.15 L573.24,310.29 L573.76,310.43 L574.28,310.57 L574.80,310.71 L575.32,310.85 L575.83,311.00 L576.35,311.14 L576.87,311.28 L577.39,311.42 L577.91,311.56 L578.43,311.70 L578.95,311.84 M424.63,267.58 L425.15,267.73 L425.67,267.87 L426.19,268.01 L426.71,268.15 L427.23,268.29 L427.75,268.43 L428.27,268.57 L428.79,268.71 L429.31,268.85 L429.83,268.99 L430.35,269.13 L430.87,269.27 L431.39,269.41 L431.91,269.56 L432.43,269.70 L432.95,269.84 L433.47,269.98 L433.99,270.12 L434.51,270.26 L435.03,270.40 L435.55,270.54 L436.07,270.68 L436.59,270.82 L437.11,270.96 L437.63,271.10 L438.15,271.25 L438.67,271.39 L439.19,271.53 L439.71,271.67 L440.23,271.81 L440.74,271.95 L441.26,272.09 L441.78,272.23 L442.30,272.37 L442.82,272.51 L443.34,272.65 L443.86,272.79 L444.38,272.94 L444.90,273.08 L445.42,273.22 L445.94,273.36 L446.46,273.50 L446.98,273.64 L447.50,273.78 L448.02,273.92 L448.54,274.06 L449.06,274.20 L449.58,274.34 L450.10,274.48 L450.62,274.62 L451.14,274.77 L451.66,274.91 L452.18,275.05 L452.70,275.19 L453.22,275.33 L453.74,275.47 L454.26,275.61 L454.78,275.75 L455.30,275.89 L455.82,276.03 L456.34,276.17 L456.86,276.31 L457.38,276.46 L457.90,276.60 L458.42,276.74 L458.94,276.88 L459.46,277.02 L459.98,277.16 L460.50,277.30 L461.02,277.44 L461.54,277.58 L462.06,277.72 L462.58,277.86 L463.10,278.00 L463.62,278.14 L464.14,278.29 L464.66,278.43 L465.18,278.57 L465.70,278.71 L466.22,278.85 L466.74,278.99 L467.26,279.13 L467.78,279.27 L468.30,279.41 L468.82,279.55 L469.34,279.69 L469.86,279.83 L470.38,279.98 L470.90,280.12 L471.42,280.26 L471.94,280.40 L472.46,280.54 L472.98,280.68 L473.50,280.82 L474.02,280.96 L474.54,281.10 L475.06,281.24 L475.58,281.38 L476.10,281.52 L476.62,281.67 L477.14,281.81 L477.66,281.95 L478.18,282.09 L478.70,282.23 L479.22,282.37 L479.74,282.51 L480.26,282.65 L480.78,282.79 L481.30,282.93 L481.82,283.07 L482.33,283.21 L482.85,283.35 L483.37,283.50 L483.89,283.64 L484.41,283.78 L484.93,283.92 L485.45,284.06 L485.97,284.20 L486.49,284.34 L487.01,284.48 L487.53,284.62 L488.05,284.76 L488.57,284.90 L489.09,285.04 L489.61,285.19 L490.13,285.33 L490.65,285.47 L491.17,285.61 L491.69,285.75 L492.21,285.89 L492.73,286.03 L493.25,286.16 L493.77,286.28 L494.29,286.39 L494.81,286.45 L495.33,286.46 L495.85,286.39 L496.37,286.22 L496.89,285.94 L497.41,285.57 L497.93,285.18 L498.45,284.84 L498.97,284.64 L499.49,284.66 L500.01,284.92 L500.53,285.40 L501.05,286.02 L501.57,286.70 L502.09,287.35 L502.61,287.91 L503.13,288.36 L503.65,288.72 L504.17,288.99 L504.69,289.20 L505.21,289.38 L505.73,289.54 L506.25,289.69 L506.77,289.83 L507.29,289.97 L507.81,290.11 L508.33,290.25 L508.85,290.40 L509.37,290.54 L509.89,290.68 L510.41,290.82 L510.93,290.96 L511.45,291.10 L511.97,291.24 L512.49,291.38 L513.01,291.52 L513.53,291.66 L514.05,291.80 L514.57,291.94 L515.09,292.08 L515.61,292.23 L516.13,292.37 L516.65,292.51 L517.17,292.65 L517.69,292.79 L518.21,292.93 L518.73,293.07 L519.25,293.21 L519.77,293.35 L520.29,293.49 L520.81,293.63 L521.33,293.77 L521.85,293.92 L522.37,294.06 L522.89,294.20 L523.40,294.34 L523.92,294.48 L524.44,294.62 L524.96,294.76 L525.48,294.90 L526.00,295.04 L526.52,295.18 L527.04,295.32 L527.56,295.46 L528.08,295.61 L528.60,295.75 L529.12,295.89 L529.64,296.03 L530.16,296.17 L530.68,296.31 L531.20,296.45 L531.72,296.59 L532.24,296.73 L532.76,296.87 L533.28,297.01 L533.80,297.15 L534.32,297.29 L534.84,297.44 L535.36,297.58 L535.88,297.72 L536.40,297.86 L536.92,298.00 L537.44,298.14 L537.96,298.28 L538.48,298.42 L539.00,298.56 L539.52,298.70 L540.04,298.84 L540.56,298.98 L541.08,299.13 L541.60,299.27 L542.12,299.41 L542.64,299.55 L543.16,299.69 L543.68,299.83 L544.20,299.97 L544.72,300.11 L545.24,300.25 L545.76,300.39 L546.28,300.53 L546.80,300.67 L547.32,300.81 L547.84,300.96 L548.36,301.10 L548.88,301.24 L549.40,301.38 L549.92,301.52 L550.44,301.66 L550.96,301.80 L551.48,301.94 L552.00,302.08 L552.52,302.22 L553.04,302.36 L553.56,302.50 L554.08,302.65 L554.60,302.79 L555.12,302.93 L555.64,303.07 L556.16,303.21 L556.68,303.35 L557.20,303.49 L557.72,303.63 L558.24,303.77 L558.76,303.91 L559.28,304.05 L559.80,304.19 L560.32,304.34 L560.84,304.48 L561.36,304.62 L561.88,304.76 L562.40,304.90 L562.92,305.04 L563.44,305.18 L563.96,305.32 L564.48,305.46 L564.99,305.60 L565.51,305.74 L566.03,305.88 L566.55,306.02 L567.07,306.17 L567.59,306.31 L568.11,306.45 L568.63,306.59 L569.15,306.73 L569.67,306.87 L570.19,307.01 L570.71,307.15 L571.23,307.29 L571.75,307.43 L572.27,307.57 L572.79,307.71 L573.31,307.86 L573.83,308.00 L574.35,308.14 L574.87,308.28 L575.39,308.42 L575.91,308.56 L576.43,308.70 L576.95,308.84 L577.47,308.98 L577.99,309.12 L578.51,309.26 L579.03,309.40 L579.55,309.55 L580.07,309.69 L580.59,309.83 M426.23,265.58 L426.75,265.72 L427.27,265.86 L427.79,266.00 L428.31,266.14 L428.83,266.28 L429.35,266.42 L429.87,266.56 L430.39,266.70 L430.91,266.84 L431.43,266.98 L431.95,267.12 L432.47,267.27 L432.99,267.41 L433.51,267.55 L434.03,267.69 L434.55,267.83 L435.07,267.97 L435.59,268.11 L436.11,268.25 L436.63,268.39 L437.15,268.53 L437.67,268.67 L438.19,268.81 L438.71,268.95 L439.23,269.10 L439.75,269.24 L440.27,269.38 L440.79,269.52 L441.31,269.66 L441.83,269.80 L442.35,269.94 L442.87,270.08 L443.39,270.22 L443.91,270.36 L444.43,270.50 L444.95,270.64 L445.47,270.78 L445.99,270.93 L446.51,271.07 L447.03,271.21 L447.55,271.35 L448.07,271.49 L448.59,271.63 L449.11,271.77 L449.63,271.91 L450.15,272.05 L450.67,272.19 L451.19,272.33 L451.71,272.47 L452.23,272.62 L452.75,272.76 L453.27,272.90 L453.79,273.04 L454.31,273.18 L454.83,273.32 L455.35,273.46 L455.87,273.60 L456.39,273.74 L456.91,273.88 L457.43,274.02 L457.95,274.16 L458.47,274.30 L458.99,274.45 L459.51,274.59 L460.03,274.73 L460.55,274.87 L461.07,275.01 L461.59,275.15 L462.11,275.29 L462.63,275.43 L463.15,275.57 L463.67,275.71 L464.19,275.85 L464.71,275.99 L465.23,276.13 L465.75,276.28 L466.27,276.42 L466.79,276.56 L467.31,276.70 L467.83,276.84 L468.35,276.98 L468.87,277.12 L469.39,277.26 L469.91,277.40 L470.43,277.54 L470.95,277.68 L471.47,277.82 L471.99,277.97 L472.51,278.11 L473.03,278.25 L473.55,278.39 L474.07,278.53 L474.59,278.67 L475.11,278.81 L475.63,278.95 L476.15,279.09 L476.67,279.23 L477.19,279.37 L477.71,279.51 L478.23,279.65 L478.75,279.80 L479.27,279.94 L479.79,280.08 L480.31,280.22 L480.83,280.36 L481.35,280.50 L481.87,280.64 L482.39,280.78 L482.91,280.92 L483.43,281.06 L483.95,281.20 L484.47,281.34 L484.99,281.49 L485.51,281.63 L486.03,281.77 L486.55,281.91 L487.07,282.05 L487.59,282.19 L488.11,282.33 L488.63,282.47 L489.15,282.61 L489.67,282.75 L490.19,282.89 L490.71,283.03 L491.23,283.17 L491.75,283.32 L492.27,283.46 L492.79,283.60 L493.31,283.74 L493.83,283.88 L494.35,284.02 L494.87,284.15 L495.39,284.28 L495.91,284.39 L496.43,284.47 L496.95,284.52 L497.47,284.49 L497.99,284.39 L498.51,284.21 L499.03,283.96 L499.55,283.69 L500.07,283.46 L500.59,283.34 L501.11,283.39 L501.63,283.62 L502.15,284.02 L502.67,284.53 L503.19,285.09 L503.71,285.62 L504.23,286.08 L504.75,286.46 L505.27,286.77 L505.79,287.01 L506.31,287.21 L506.83,287.38 L507.35,287.53 L507.87,287.68 L508.39,287.82 L508.91,287.96 L509.43,288.10 L509.95,288.24 L510.47,288.38 L510.99,288.52 L511.51,288.67 L512.03,288.81 L512.55,288.95 L513.07,289.09 L513.59,289.23 L514.11,289.37 L514.63,289.51 L515.15,289.65 L515.67,289.79 L516.19,289.93 L516.71,290.07 L517.23,290.21 L517.75,290.36 L518.27,290.50 L518.79,290.64 L519.31,290.78 L519.83,290.92 L520.35,291.06 L520.87,291.20 L521.39,291.34 L521.91,291.48 L522.43,291.62 L522.95,291.76 L523.47,291.90 L523.99,292.04 L524.51,292.19 L525.03,292.33 L525.55,292.47 L526.07,292.61 L526.59,292.75 L527.11,292.89 L527.63,293.03 L528.15,293.17 L528.67,293.31 L529.19,293.45 L529.71,293.59 L530.23,293.73 L530.75,293.87 L531.27,294.02 L531.79,294.16 L532.31,294.30 L532.83,294.44 L533.35,294.58 L533.87,294.72 L534.39,294.86 L534.91,295.00 L535.43,295.14 L535.95,295.28 L536.47,295.42 L536.99,295.56 L537.51,295.71 L538.03,295.85 L538.55,295.99 L539.07,296.13 L539.59,296.27 L540.11,296.41 L540.63,296.55 L541.15,296.69 L541.67,296.83 L542.19,296.97 L542.71,297.11 L543.23,297.25 L543.75,297.39 L544.27,297.54 L544.79,297.68 L545.31,297.82 L545.83,297.96 L546.35,298.10 L546.87,298.24 L547.39,298.38 L547.91,298.52 L548.43,298.66 L548.95,298.80 L549.47,298.94 L549.99,299.08 L550.51,299.22 L551.03,299.37 L551.55,299.51 L552.07,299.65 L552.59,299.79 L553.11,299.93 L553.63,300.07 L554.15,300.21 L554.67,300.35 L555.19,300.49 L555.71,300.63 L556.23,300.77 L556.75,300.91 L557.27,301.06 L557.79,301.20 L558.31,301.34 L558.83,301.48 L559.35,301.62 L559.87,301.76 L560.39,301.90 L560.91,302.04 L561.43,302.18 L561.95,302.32 L562.47,302.46 L562.99,302.60 L563.51,302.74 L564.03,302.89 L564.55,303.03 L565.07,303.17 L565.59,303.31 L566.11,303.45 L566.63,303.59 L567.15,303.73 L567.67,303.87 L568.19,304.01 L568.71,304.15 L569.23,304.29 L569.75,304.43 L570.27,304.58 L570.79,304.72 L571.31,304.86 L571.83,305.00 L572.35,305.14 L572.87,305.28 L573.39,305.42 L573.91,305.56 L574.43,305.70 L574.95,305.84 L575.47,305.98 L575.99,306.12 L576.51,306.26 L577.03,306.41 L577.55,306.55 L578.07,306.69 L578.59,306.83 L579.11,306.97 L579.63,307.11 L580.15,307.25 L580.67,307.39 L581.19,307.53 L581.71,307.67 L582.23,307.81 M427.83,263.57 L428.35,263.71 L428.87,263.85 L429.39,263.99 L429.91,264.13 L430.43,264.27 L430.95,264.41 L431.47,264.55 L431.99,264.69 L432.51,264.83 L433.03,264.97 L433.55,265.12 L434.07,265.26 L434.59,265.40 L435.11,265.54 L435.63,265.68 L436.16,265.82 L436.68,265.96 L437.20,266.10 L437.72,266.24 L438.24,266.38 L438.76,266.52 L439.28,266.66 L439.80,266.80 L440.32,266.95 L440.84,267.09 L441.36,267.23 L441.88,267.37 L442.40,267.51 L442.92,267.65 L443.44,267.79 L443.96,267.93 L444.48,268.07 L445.00,268.21 L445.52,268.35 L446.04,268.49 L446.56,268.63 L447.08,268.78 L447.60,268.92 L448.12,269.06 L448.64,269.20 L449.16,269.34 L449.68,269.48 L450.20,269.62 L450.72,269.76 L451.24,269.90 L451.76,270.04 L452.28,270.18 L452.80,270.32 L453.32,270.46 L453.84,270.61 L454.36,270.75 L454.88,270.89 L455.40,271.03 L455.92,271.17 L456.44,271.31 L456.96,271.45 L457.48,271.59 L458.00,271.73 L458.52,271.87 L459.04,272.01 L459.56,272.15 L460.08,272.29 L460.60,272.44 L461.12,272.58 L461.64,272.72 L462.16,272.86 L462.68,273.00 L463.20,273.14 L463.72,273.28 L464.24,273.42 L464.76,273.56 L465.28,273.70 L465.80,273.84 L466.32,273.98 L466.84,274.12 L467.36,274.27 L467.88,274.41 L468.40,274.55 L468.92,274.69 L469.44,274.83 L469.96,274.97 L470.48,275.11 L471.00,275.25 L471.52,275.39 L472.04,275.53 L472.56,275.67 L473.08,275.81 L473.60,275.96 L474.12,276.10 L474.64,276.24 L475.16,276.38 L475.68,276.52 L476.20,276.66 L476.72,276.80 L477.24,276.94 L477.76,277.08 L478.28,277.22 L478.80,277.36 L479.32,277.50 L479.84,277.64 L480.36,277.79 L480.88,277.93 L481.40,278.07 L481.92,278.21 L482.44,278.35 L482.97,278.49 L483.49,278.63 L484.01,278.77 L484.53,278.91 L485.05,279.05 L485.57,279.19 L486.09,279.33 L486.61,279.47 L487.13,279.62 L487.65,279.76 L488.17,279.90 L488.69,280.04 L489.21,280.18 L489.73,280.32 L490.25,280.46 L490.77,280.60 L491.29,280.74 L491.81,280.88 L492.33,281.02 L492.85,281.16 L493.37,281.30 L493.89,281.45 L494.41,281.59 L494.93,281.73 L495.45,281.87 L495.97,282.01 L496.49,282.14 L497.01,282.27 L497.53,282.39 L498.05,282.49 L498.57,282.55 L499.09,282.57 L499.61,282.52 L500.13,282.41 L500.65,282.25 L501.17,282.08 L501.69,281.93 L502.21,281.88 L502.73,281.94 L503.25,282.16 L503.77,282.50 L504.29,282.92 L504.81,283.38 L505.33,283.82 L505.85,284.21 L506.37,284.54 L506.89,284.80 L507.41,285.02 L507.93,285.21 L508.45,285.37 L508.97,285.52 L509.49,285.67 L510.01,285.81 L510.53,285.95 L511.05,286.09 L511.57,286.23 L512.09,286.37 L512.61,286.51 L513.13,286.65 L513.65,286.79 L514.17,286.94 L514.69,287.08 L515.21,287.22 L515.73,287.36 L516.25,287.50 L516.77,287.64 L517.29,287.78 L517.81,287.92 L518.33,288.06 L518.85,288.20 L519.37,288.34 L519.89,288.48 L520.41,288.63 L520.93,288.77 L521.45,288.91 L521.97,289.05 L522.49,289.19 L523.01,289.33 L523.53,289.47 L524.05,289.61 L524.57,289.75 L525.09,289.89 L525.61,290.03 L526.13,290.17 L526.65,290.31 L527.17,290.46 L527.69,290.60 L528.21,290.74 L528.73,290.88 L529.25,291.02 L529.78,291.16 L530.30,291.30 L530.82,291.44 L531.34,291.58 L531.86,291.72 L532.38,291.86 L532.90,292.00 L533.42,292.14 L533.94,292.29 L534.46,292.43 L534.98,292.57 L535.50,292.71 L536.02,292.85 L536.54,292.99 L537.06,293.13 L537.58,293.27 L538.10,293.41 L538.62,293.55 L539.14,293.69 L539.66,293.83 L540.18,293.97 L540.70,294.12 L541.22,294.26 L541.74,294.40 L542.26,294.54 L542.78,294.68 L543.30,294.82 L543.82,294.96 L544.34,295.10 L544.86,295.24 L545.38,295.38 L545.90,295.52 L546.42,295.66 L546.94,295.80 L547.46,295.95 L547.98,296.09 L548.50,296.23 L549.02,296.37 L549.54,296.51 L550.06,296.65 L550.58,296.79 L551.10,296.93 L551.62,297.07 L552.14,297.21 L552.66,297.35 L553.18,297.49 L553.70,297.63 L554.22,297.78 L554.74,297.92 L555.26,298.06 L555.78,298.20 L556.30,298.34 L556.82,298.48 L557.34,298.62 L557.86,298.76 L558.38,298.90 L558.90,299.04 L559.42,299.18 L559.94,299.32 L560.46,299.46 L560.98,299.61 L561.50,299.75 L562.02,299.89 L562.54,300.03 L563.06,300.17 L563.58,300.31 L564.10,300.45 L564.62,300.59 L565.14,300.73 L565.66,300.87 L566.18,301.01 L566.70,301.15 L567.22,301.30 L567.74,301.44 L568.26,301.58 L568.78,301.72 L569.30,301.86 L569.82,302.00 L570.34,302.14 L570.86,302.28 L571.38,302.42 L571.90,302.56 L572.42,302.70 L572.94,302.84 L573.46,302.98 L573.98,303.13 L574.50,303.27 L575.02,303.41 L575.54,303.55 L576.06,303.69 L576.59,303.83 L577.11,303.97 L577.63,304.11 L578.15,304.25 L578.67,304.39 L579.19,304.53 L579.71,304.67 L580.23,304.81 L580.75,304.96 L581.27,305.10 L581.79,305.24 L582.31,305.38 L582.83,305.52 L583.35,305.66 L583.87,305.80 M429.44,261.56 L429.96,261.70 L430.48,261.84 L431.00,261.98 L431.52,262.12 L432.04,262.26 L432.56,262.40 L433.08,262.54 L433.60,262.68 L434.12,262.82 L434.64,262.97 L435.16,263.11 L435.68,263.25 L436.20,263.39 L436.72,263.53 L437.24,263.67 L437.76,263.81 L438.28,263.95 L438.80,264.09 L439.32,264.23 L439.84,264.37 L440.36,264.51 L440.88,264.65 L441.40,264.80 L441.92,264.94 L442.44,265.08 L442.96,265.22 L443.48,265.36 L444.00,265.50 L444.52,265.64 L445.04,265.78 L445.56,265.92 L446.08,266.06 L446.60,266.20 L447.12,266.34 L447.64,266.48 L448.16,266.63 L448.68,266.77 L449.20,266.91 L449.72,267.05 L450.24,267.19 L450.76,267.33 L451.29,267.47 L451.81,267.61 L452.33,267.75 L452.85,267.89 L453.37,268.03 L453.89,268.17 L454.41,268.31 L454.93,268.46 L455.45,268.60 L455.97,268.74 L456.49,268.88 L457.01,269.02 L457.53,269.16 L458.05,269.30 L458.57,269.44 L459.09,269.58 L459.61,269.72 L460.13,269.86 L460.65,270.00 L461.17,270.14 L461.69,270.29 L462.21,270.43 L462.73,270.57 L463.25,270.71 L463.77,270.85 L464.29,270.99 L464.81,271.13 L465.33,271.27 L465.85,271.41 L466.37,271.55 L466.89,271.69 L467.41,271.83 L467.93,271.97 L468.45,272.12 L468.97,272.26 L469.49,272.40 L470.01,272.54 L470.53,272.68 L471.05,272.82 L471.57,272.96 L472.09,273.10 L472.61,273.24 L473.13,273.38 L473.66,273.52 L474.18,273.66 L474.70,273.80 L475.22,273.94 L475.74,274.09 L476.26,274.23 L476.78,274.37 L477.30,274.51 L477.82,274.65 L478.34,274.79 L478.86,274.93 L479.38,275.07 L479.90,275.21 L480.42,275.35 L480.94,275.49 L481.46,275.63 L481.98,275.77 L482.50,275.92 L483.02,276.06 L483.54,276.20 L484.06,276.34 L484.58,276.48 L485.10,276.62 L485.62,276.76 L486.14,276.90 L486.66,277.04 L487.18,277.18 L487.70,277.32 L488.22,277.46 L488.74,277.60 L489.26,277.75 L489.78,277.89 L490.30,278.03 L490.82,278.17 L491.34,278.31 L491.86,278.45 L492.38,278.59 L492.90,278.73 L493.42,278.87 L493.94,279.01 L494.46,279.15 L494.98,279.29 L495.50,279.43 L496.02,279.58 L496.55,279.72 L497.07,279.86 L497.59,280.00 L498.11,280.13 L498.63,280.27 L499.15,280.39 L499.67,280.50 L500.19,280.58 L500.71,280.62 L501.23,280.62 L501.75,280.57 L502.27,280.48 L502.79,280.38 L503.31,280.30 L503.83,280.28 L504.35,280.37 L504.87,280.57 L505.39,280.86 L505.91,281.22 L506.43,281.60 L506.95,281.98 L507.47,282.31 L507.99,282.59 L508.51,282.83 L509.03,283.03 L509.55,283.20 L510.07,283.36 L510.59,283.51 L511.11,283.66 L511.63,283.80 L512.15,283.94 L512.67,284.08 L513.19,284.22 L513.71,284.36 L514.23,284.50 L514.75,284.64 L515.27,284.78 L515.79,284.92 L516.31,285.07 L516.83,285.21 L517.35,285.35 L517.87,285.49 L518.39,285.63 L518.92,285.77 L519.44,285.91 L519.96,286.05 L520.48,286.19 L521.00,286.33 L521.52,286.47 L522.04,286.61 L522.56,286.75 L523.08,286.90 L523.60,287.04 L524.12,287.18 L524.64,287.32 L525.16,287.46 L525.68,287.60 L526.20,287.74 L526.72,287.88 L527.24,288.02 L527.76,288.16 L528.28,288.30 L528.80,288.44 L529.32,288.58 L529.84,288.73 L530.36,288.87 L530.88,289.01 L531.40,289.15 L531.92,289.29 L532.44,289.43 L532.96,289.57 L533.48,289.71 L534.00,289.85 L534.52,289.99 L535.04,290.13 L535.56,290.27 L536.08,290.41 L536.60,290.55 L537.12,290.70 L537.64,290.84 L538.16,290.98 L538.68,291.12 L539.20,291.26 L539.72,291.40 L540.24,291.54 L540.76,291.68 L541.28,291.82 L541.81,291.96 L542.33,292.10 L542.85,292.24 L543.37,292.38 L543.89,292.53 L544.41,292.67 L544.93,292.81 L545.45,292.95 L545.97,293.09 L546.49,293.23 L547.01,293.37 L547.53,293.51 L548.05,293.65 L548.57,293.79 L549.09,293.93 L549.61,294.07 L550.13,294.21 L550.65,294.36 L551.17,294.50 L551.69,294.64 L552.21,294.78 L552.73,294.92 L553.25,295.06 L553.77,295.20 L554.29,295.34 L554.81,295.48 L555.33,295.62 L555.85,295.76 L556.37,295.90 L556.89,296.04 L557.41,296.19 L557.93,296.33 L558.45,296.47 L558.97,296.61 L559.49,296.75 L560.01,296.89 L560.53,297.03 L561.05,297.17 L561.57,297.31 L562.09,297.45 L562.61,297.59 L563.13,297.73 L563.65,297.87 L564.18,298.02 L564.70,298.16 L565.22,298.30 L565.74,298.44 L566.26,298.58 L566.78,298.72 L567.30,298.86 L567.82,299.00 L568.34,299.14 L568.86,299.28 L569.38,299.42 L569.90,299.56 L570.42,299.70 L570.94,299.85 L571.46,299.99 L571.98,300.13 L572.50,300.27 L573.02,300.41 L573.54,300.55 L574.06,300.69 L574.58,300.83 L575.10,300.97 L575.62,301.11 L576.14,301.25 L576.66,301.39 L577.18,301.53 L577.70,301.68 L578.22,301.82 L578.74,301.96 L579.26,302.10 L579.78,302.24 L580.30,302.38 L580.82,302.52 L581.34,302.66 L581.86,302.80 L582.38,302.94 L582.90,303.08 L583.42,303.22 L583.94,303.36 L584.46,303.51 L584.98,303.65 L585.50,303.79 M431.04,259.55 L431.56,259.69 L432.08,259.83 L432.60,259.97 L433.12,260.11 L433.64,260.25 L434.16,260.39 L434.68,260.53 L435.20,260.67 L435.72,260.82 L436.24,260.96 L436.76,261.10 L437.28,261.24 L437.80,261.38 L438.32,261.52 L438.84,261.66 L439.36,261.80 L439.88,261.94 L440.40,262.08 L440.92,262.22 L441.44,262.36 L441.97,262.50 L442.49,262.65 L443.01,262.79 L443.53,262.93 L444.05,263.07 L444.57,263.21 L445.09,263.35 L445.61,263.49 L446.13,263.63 L446.65,263.77 L447.17,263.91 L447.69,264.05 L448.21,264.19 L448.73,264.33 L449.25,264.48 L449.77,264.62 L450.29,264.76 L450.81,264.90 L451.33,265.04 L451.85,265.18 L452.37,265.32 L452.89,265.46 L453.41,265.60 L453.93,265.74 L454.45,265.88 L454.97,266.02 L455.49,266.16 L456.01,266.30 L456.53,266.45 L457.06,266.59 L457.58,266.73 L458.10,266.87 L458.62,267.01 L459.14,267.15 L459.66,267.29 L460.18,267.43 L460.70,267.57 L461.22,267.71 L461.74,267.85 L462.26,267.99 L462.78,268.13 L463.30,268.28 L463.82,268.42 L464.34,268.56 L464.86,268.70 L465.38,268.84 L465.90,268.98 L466.42,269.12 L466.94,269.26 L467.46,269.40 L467.98,269.54 L468.50,269.68 L469.02,269.82 L469.54,269.96 L470.06,270.11 L470.58,270.25 L471.10,270.39 L471.62,270.53 L472.15,270.67 L472.67,270.81 L473.19,270.95 L473.71,271.09 L474.23,271.23 L474.75,271.37 L475.27,271.51 L475.79,271.65 L476.31,271.79 L476.83,271.93 L477.35,272.08 L477.87,272.22 L478.39,272.36 L478.91,272.50 L479.43,272.64 L479.95,272.78 L480.47,272.92 L480.99,273.06 L481.51,273.20 L482.03,273.34 L482.55,273.48 L483.07,273.62 L483.59,273.76 L484.11,273.91 L484.63,274.05 L485.15,274.19 L485.67,274.33 L486.19,274.47 L486.72,274.61 L487.24,274.75 L487.76,274.89 L488.28,275.03 L488.80,275.17 L489.32,275.31 L489.84,275.45 L490.36,275.59 L490.88,275.73 L491.40,275.88 L491.92,276.02 L492.44,276.16 L492.96,276.30 L493.48,276.44 L494.00,276.58 L494.52,276.72 L495.04,276.86 L495.56,277.00 L496.08,277.14 L496.60,277.28 L497.12,277.42 L497.64,277.56 L498.16,277.71 L498.68,277.85 L499.20,277.99 L499.72,278.12 L500.24,278.26 L500.76,278.39 L501.28,278.50 L501.81,278.60 L502.33,278.66 L502.85,278.69 L503.37,278.69 L503.89,278.65 L504.41,278.60 L504.93,278.57 L505.45,278.60 L505.97,278.70 L506.49,278.88 L507.01,279.14 L507.53,279.45 L508.05,279.77 L508.57,280.09 L509.09,280.38 L509.61,280.63 L510.13,280.85 L510.65,281.03 L511.17,281.20 L511.69,281.35 L512.21,281.50 L512.73,281.64 L513.25,281.79 L513.77,281.93 L514.29,282.07 L514.81,282.21 L515.33,282.35 L515.85,282.49 L516.37,282.63 L516.90,282.77 L517.42,282.91 L517.94,283.05 L518.46,283.19 L518.98,283.34 L519.50,283.48 L520.02,283.62 L520.54,283.76 L521.06,283.90 L521.58,284.04 L522.10,284.18 L522.62,284.32 L523.14,284.46 L523.66,284.60 L524.18,284.74 L524.70,284.88 L525.22,285.02 L525.74,285.17 L526.26,285.31 L526.78,285.45 L527.30,285.59 L527.82,285.73 L528.34,285.87 L528.86,286.01 L529.38,286.15 L529.90,286.29 L530.42,286.43 L530.94,286.57 L531.46,286.71 L531.99,286.85 L532.51,286.99 L533.03,287.14 L533.55,287.28 L534.07,287.42 L534.59,287.56 L535.11,287.70 L535.63,287.84 L536.15,287.98 L536.67,288.12 L537.19,288.26 L537.71,288.40 L538.23,288.54 L538.75,288.68 L539.27,288.82 L539.79,288.97 L540.31,289.11 L540.83,289.25 L541.35,289.39 L541.87,289.53 L542.39,289.67 L542.91,289.81 L543.43,289.95 L543.95,290.09 L544.47,290.23 L544.99,290.37 L545.51,290.51 L546.03,290.65 L546.56,290.79 L547.08,290.94 L547.60,291.08 L548.12,291.22 L548.64,291.36 L549.16,291.50 L549.68,291.64 L550.20,291.78 L550.72,291.92 L551.24,292.06 L551.76,292.20 L552.28,292.34 L552.80,292.48 L553.32,292.62 L553.84,292.77 L554.36,292.91 L554.88,293.05 L555.40,293.19 L555.92,293.33 L556.44,293.47 L556.96,293.61 L557.48,293.75 L558.00,293.89 L558.52,294.03 L559.04,294.17 L559.56,294.31 L560.08,294.45 L560.60,294.60 L561.12,294.74 L561.65,294.88 L562.17,295.02 L562.69,295.16 L563.21,295.30 L563.73,295.44 L564.25,295.58 L564.77,295.72 L565.29,295.86 L565.81,296.00 L566.33,296.14 L566.85,296.28 L567.37,296.42 L567.89,296.57 L568.41,296.71 L568.93,296.85 L569.45,296.99 L569.97,297.13 L570.49,297.27 L571.01,297.41 L571.53,297.55 L572.05,297.69 L572.57,297.83 L573.09,297.97 L573.61,298.11 L574.13,298.25 L574.65,298.40 L575.17,298.54 L575.69,298.68 L576.21,298.82 L576.74,298.96 L577.26,299.10 L577.78,299.24 L578.30,299.38 L578.82,299.52 L579.34,299.66 L579.86,299.80 L580.38,299.94 L580.90,300.08 L581.42,300.23 L581.94,300.37 L582.46,300.51 L582.98,300.65 L583.50,300.79 L584.02,300.93 L584.54,301.07 L585.06,301.21 L585.58,301.35 L586.10,301.49 L586.62,301.63 L587.14,301.77 M432.64,257.54 L433.16,257.68 L433.68,257.82 L434.20,257.96 L434.72,258.10 L435.24,258.24 L435.76,258.38 L436.28,258.53 L436.80,258.67 L437.32,258.81 L437.84,258.95 L438.37,259.09 L438.89,259.23 L439.41,259.37 L439.93,259.51 L440.45,259.65 L440.97,259.79 L441.49,259.93 L442.01,260.07 L442.53,260.21 L443.05,260.35 L443.57,260.50 L444.09,260.64 L444.61,260.78 L445.13,260.92 L445.65,261.06 L446.17,261.20 L446.69,261.34 L447.21,261.48 L447.73,261.62 L448.25,261.76 L448.77,261.90 L449.29,262.04 L449.82,262.18 L450.34,262.32 L450.86,262.47 L451.38,262.61 L451.90,262.75 L452.42,262.89 L452.94,263.03 L453.46,263.17 L453.98,263.31 L454.50,263.45 L455.02,263.59 L455.54,263.73 L456.06,263.87 L456.58,264.01 L457.10,264.15 L457.62,264.30 L458.14,264.44 L458.66,264.58 L459.18,264.72 L459.70,264.86 L460.22,265.00 L460.75,265.14 L461.27,265.28 L461.79,265.42 L462.31,265.56 L462.83,265.70 L463.35,265.84 L463.87,265.98 L464.39,266.12 L464.91,266.27 L465.43,266.41 L465.95,266.55 L466.47,266.69 L466.99,266.83 L467.51,266.97 L468.03,267.11 L468.55,267.25 L469.07,267.39 L469.59,267.53 L470.11,267.67 L470.63,267.81 L471.15,267.95 L471.68,268.09 L472.20,268.24 L472.72,268.38 L473.24,268.52 L473.76,268.66 L474.28,268.80 L474.80,268.94 L475.32,269.08 L475.84,269.22 L476.36,269.36 L476.88,269.50 L477.40,269.64 L477.92,269.78 L478.44,269.92 L478.96,270.07 L479.48,270.21 L480.00,270.35 L480.52,270.49 L481.04,270.63 L481.56,270.77 L482.08,270.91 L482.60,271.05 L483.13,271.19 L483.65,271.33 L484.17,271.47 L484.69,271.61 L485.21,271.75 L485.73,271.89 L486.25,272.04 L486.77,272.18 L487.29,272.32 L487.81,272.46 L488.33,272.60 L488.85,272.74 L489.37,272.88 L489.89,273.02 L490.41,273.16 L490.93,273.30 L491.45,273.44 L491.97,273.58 L492.49,273.72 L493.01,273.87 L493.53,274.01 L494.06,274.15 L494.58,274.29 L495.10,274.43 L495.62,274.57 L496.14,274.71 L496.66,274.85 L497.18,274.99 L497.70,275.13 L498.22,275.27 L498.74,275.41 L499.26,275.55 L499.78,275.69 L500.30,275.83 L500.82,275.97 L501.34,276.11 L501.86,276.25 L502.38,276.38 L502.90,276.50 L503.42,276.61 L503.94,276.69 L504.46,276.75 L504.98,276.77 L505.51,276.78 L506.03,276.77 L506.55,276.78 L507.07,276.83 L507.59,276.94 L508.11,277.12 L508.63,277.35 L509.15,277.62 L509.67,277.90 L510.19,278.18 L510.71,278.43 L511.23,278.66 L511.75,278.86 L512.27,279.03 L512.79,279.19 L513.31,279.35 L513.83,279.49 L514.35,279.63 L514.87,279.78 L515.39,279.92 L515.91,280.06 L516.44,280.20 L516.96,280.34 L517.48,280.48 L518.00,280.62 L518.52,280.76 L519.04,280.90 L519.56,281.04 L520.08,281.18 L520.60,281.32 L521.12,281.46 L521.64,281.61 L522.16,281.75 L522.68,281.89 L523.20,282.03 L523.72,282.17 L524.24,282.31 L524.76,282.45 L525.28,282.59 L525.80,282.73 L526.32,282.87 L526.84,283.01 L527.36,283.15 L527.89,283.29 L528.41,283.43 L528.93,283.58 L529.45,283.72 L529.97,283.86 L530.49,284.00 L531.01,284.14 L531.53,284.28 L532.05,284.42 L532.57,284.56 L533.09,284.70 L533.61,284.84 L534.13,284.98 L534.65,285.12 L535.17,285.26 L535.69,285.41 L536.21,285.55 L536.73,285.69 L537.25,285.83 L537.77,285.97 L538.29,286.11 L538.82,286.25 L539.34,286.39 L539.86,286.53 L540.38,286.67 L540.90,286.81 L541.42,286.95 L541.94,287.09 L542.46,287.23 L542.98,287.38 L543.50,287.52 L544.02,287.66 L544.54,287.80 L545.06,287.94 L545.58,288.08 L546.10,288.22 L546.62,288.36 L547.14,288.50 L547.66,288.64 L548.18,288.78 L548.70,288.92 L549.22,289.06 L549.75,289.20 L550.27,289.35 L550.79,289.49 L551.31,289.63 L551.83,289.77 L552.35,289.91 L552.87,290.05 L553.39,290.19 L553.91,290.33 L554.43,290.47 L554.95,290.61 L555.47,290.75 L555.99,290.89 L556.51,291.03 L557.03,291.18 L557.55,291.32 L558.07,291.46 L558.59,291.60 L559.11,291.74 L559.63,291.88 L560.15,292.02 L560.67,292.16 L561.20,292.30 L561.72,292.44 L562.24,292.58 L562.76,292.72 L563.28,292.86 L563.80,293.00 L564.32,293.15 L564.84,293.29 L565.36,293.43 L565.88,293.57 L566.40,293.71 L566.92,293.85 L567.44,293.99 L567.96,294.13 L568.48,294.27 L569.00,294.41 L569.52,294.55 L570.04,294.69 L570.56,294.83 L571.08,294.98 L571.60,295.12 L572.13,295.26 L572.65,295.40 L573.17,295.54 L573.69,295.68 L574.21,295.82 L574.73,295.96 L575.25,296.10 L575.77,296.24 L576.29,296.38 L576.81,296.52 L577.33,296.66 L577.85,296.80 L578.37,296.95 L578.89,297.09 L579.41,297.23 L579.93,297.37 L580.45,297.51 L580.97,297.65 L581.49,297.79 L582.01,297.93 L582.53,298.07 L583.05,298.21 L583.58,298.35 L584.10,298.49 L584.62,298.63 L585.14,298.77 L585.66,298.92 L586.18,299.06 L586.70,299.20 L587.22,299.34 L587.74,299.48 L588.26,299.62 L588.78,299.76 M434.24,255.53 L434.76,255.67 L435.28,255.81 L435.80,255.95 L436.32,256.09 L436.85,256.23 L437.37,256.38 L437.89,256.52 L438.41,256.66 L438.93,256.80 L439.45,256.94 L439.97,257.08 L440.49,257.22 L441.01,257.36 L441.53,257.50 L442.05,257.64 L442.57,257.78 L443.09,257.92 L443.61,258.06 L444.13,258.20 L444.65,258.35 L445.17,258.49 L445.70,258.63 L446.22,258.77 L446.74,258.91 L447.26,259.05 L447.78,259.19 L448.30,259.33 L448.82,259.47 L449.34,259.61 L449.86,259.75 L450.38,259.89 L450.90,260.03 L451.42,260.17 L451.94,260.32 L452.46,260.46 L452.98,260.60 L453.50,260.74 L454.02,260.88 L454.55,261.02 L455.07,261.16 L455.59,261.30 L456.11,261.44 L456.63,261.58 L457.15,261.72 L457.67,261.86 L458.19,262.00 L458.71,262.14 L459.23,262.29 L459.75,262.43 L460.27,262.57 L460.79,262.71 L461.31,262.85 L461.83,262.99 L462.35,263.13 L462.87,263.27 L463.39,263.41 L463.92,263.55 L464.44,263.69 L464.96,263.83 L465.48,263.97 L466.00,264.11 L466.52,264.26 L467.04,264.40 L467.56,264.54 L468.08,264.68 L468.60,264.82 L469.12,264.96 L469.64,265.10 L470.16,265.24 L470.68,265.38 L471.20,265.52 L471.72,265.66 L472.24,265.80 L472.77,265.94 L473.29,266.08 L473.81,266.23 L474.33,266.37 L474.85,266.51 L475.37,266.65 L475.89,266.79 L476.41,266.93 L476.93,267.07 L477.45,267.21 L477.97,267.35 L478.49,267.49 L479.01,267.63 L479.53,267.77 L480.05,267.91 L480.57,268.06 L481.09,268.20 L481.62,268.34 L482.14,268.48 L482.66,268.62 L483.18,268.76 L483.70,268.90 L484.22,269.04 L484.74,269.18 L485.26,269.32 L485.78,269.46 L486.30,269.60 L486.82,269.74 L487.34,269.88 L487.86,270.03 L488.38,270.17 L488.90,270.31 L489.42,270.45 L489.94,270.59 L490.47,270.73 L490.99,270.87 L491.51,271.01 L492.03,271.15 L492.55,271.29 L493.07,271.43 L493.59,271.57 L494.11,271.71 L494.63,271.85 L495.15,272.00 L495.67,272.14 L496.19,272.28 L496.71,272.42 L497.23,272.56 L497.75,272.70 L498.27,272.84 L498.79,272.98 L499.32,273.12 L499.84,273.26 L500.36,273.40 L500.88,273.54 L501.40,273.68 L501.92,273.82 L502.44,273.96 L502.96,274.10 L503.48,274.24 L504.00,274.37 L504.52,274.50 L505.04,274.61 L505.56,274.71 L506.08,274.78 L506.60,274.84 L507.12,274.87 L507.64,274.90 L508.17,274.94 L508.69,275.01 L509.21,275.13 L509.73,275.30 L510.25,275.51 L510.77,275.75 L511.29,276.00 L511.81,276.25 L512.33,276.47 L512.85,276.68 L513.37,276.86 L513.89,277.03 L514.41,277.19 L514.93,277.34 L515.45,277.48 L515.97,277.62 L516.49,277.76 L517.02,277.91 L517.54,278.05 L518.06,278.19 L518.58,278.33 L519.10,278.47 L519.62,278.61 L520.14,278.75 L520.66,278.89 L521.18,279.03 L521.70,279.17 L522.22,279.31 L522.74,279.45 L523.26,279.59 L523.78,279.73 L524.30,279.88 L524.82,280.02 L525.34,280.16 L525.87,280.30 L526.39,280.44 L526.91,280.58 L527.43,280.72 L527.95,280.86 L528.47,281.00 L528.99,281.14 L529.51,281.28 L530.03,281.42 L530.55,281.56 L531.07,281.70 L531.59,281.85 L532.11,281.99 L532.63,282.13 L533.15,282.27 L533.67,282.41 L534.19,282.55 L534.72,282.69 L535.24,282.83 L535.76,282.97 L536.28,283.11 L536.80,283.25 L537.32,283.39 L537.84,283.53 L538.36,283.67 L538.88,283.82 L539.40,283.96 L539.92,284.10 L540.44,284.24 L540.96,284.38 L541.48,284.52 L542.00,284.66 L542.52,284.80 L543.04,284.94 L543.57,285.08 L544.09,285.22 L544.61,285.36 L545.13,285.50 L545.65,285.64 L546.17,285.79 L546.69,285.93 L547.21,286.07 L547.73,286.21 L548.25,286.35 L548.77,286.49 L549.29,286.63 L549.81,286.77 L550.33,286.91 L550.85,287.05 L551.37,287.19 L551.89,287.33 L552.42,287.47 L552.94,287.61 L553.46,287.76 L553.98,287.90 L554.50,288.04 L555.02,288.18 L555.54,288.32 L556.06,288.46 L556.58,288.60 L557.10,288.74 L557.62,288.88 L558.14,289.02 L558.66,289.16 L559.18,289.30 L559.70,289.44 L560.22,289.58 L560.74,289.73 L561.27,289.87 L561.79,290.01 L562.31,290.15 L562.83,290.29 L563.35,290.43 L563.87,290.57 L564.39,290.71 L564.91,290.85 L565.43,290.99 L565.95,291.13 L566.47,291.27 L566.99,291.41 L567.51,291.56 L568.03,291.70 L568.55,291.84 L569.07,291.98 L569.59,292.12 L570.11,292.26 L570.64,292.40 L571.16,292.54 L571.68,292.68 L572.20,292.82 L572.72,292.96 L573.24,293.10 L573.76,293.24 L574.28,293.38 L574.80,293.53 L575.32,293.67 L575.84,293.81 L576.36,293.95 L576.88,294.09 L577.40,294.23 L577.92,294.37 L578.44,294.51 L578.96,294.65 L579.49,294.79 L580.01,294.93 L580.53,295.07 L581.05,295.21 L581.57,295.35 L582.09,295.50 L582.61,295.64 L583.13,295.78 L583.65,295.92 L584.17,296.06 L584.69,296.20 L585.21,296.34 L585.73,296.48 L586.25,296.62 L586.77,296.76 L587.29,296.90 L587.81,297.04 L588.34,297.18 L588.86,297.32 L589.38,297.47 L589.90,297.61 L590.42,297.75 M435.84,253.52 L436.37,253.66 L436.89,253.80 L437.41,253.94 L437.93,254.09 L438.45,254.23 L438.97,254.37 L439.49,254.51 L440.01,254.65 L440.53,254.79 L441.05,254.93 L441.57,255.07 L442.09,255.21 L442.61,255.35 L443.13,255.49 L443.65,255.63 L444.18,255.77 L444.70,255.91 L445.22,256.05 L445.74,256.20 L446.26,256.34 L446.78,256.48 L447.30,256.62 L447.82,256.76 L448.34,256.90 L448.86,257.04 L449.38,257.18 L449.90,257.32 L450.42,257.46 L450.94,257.60 L451.47,257.74 L451.99,257.88 L452.51,258.02 L453.03,258.17 L453.55,258.31 L454.07,258.45 L454.59,258.59 L455.11,258.73 L455.63,258.87 L456.15,259.01 L456.67,259.15 L457.19,259.29 L457.71,259.43 L458.23,259.57 L458.76,259.71 L459.28,259.85 L459.80,259.99 L460.32,260.14 L460.84,260.28 L461.36,260.42 L461.88,260.56 L462.40,260.70 L462.92,260.84 L463.44,260.98 L463.96,261.12 L464.48,261.26 L465.00,261.40 L465.52,261.54 L466.05,261.68 L466.57,261.82 L467.09,261.96 L467.61,262.11 L468.13,262.25 L468.65,262.39 L469.17,262.53 L469.69,262.67 L470.21,262.81 L470.73,262.95 L471.25,263.09 L471.77,263.23 L472.29,263.37 L472.81,263.51 L473.34,263.65 L473.86,263.79 L474.38,263.93 L474.90,264.07 L475.42,264.22 L475.94,264.36 L476.46,264.50 L476.98,264.64 L477.50,264.78 L478.02,264.92 L478.54,265.06 L479.06,265.20 L479.58,265.34 L480.10,265.48 L480.62,265.62 L481.15,265.76 L481.67,265.90 L482.19,266.04 L482.71,266.19 L483.23,266.33 L483.75,266.47 L484.27,266.61 L484.79,266.75 L485.31,266.89 L485.83,267.03 L486.35,267.17 L486.87,267.31 L487.39,267.45 L487.91,267.59 L488.44,267.73 L488.96,267.87 L489.48,268.01 L490.00,268.16 L490.52,268.30 L491.04,268.44 L491.56,268.58 L492.08,268.72 L492.60,268.86 L493.12,269.00 L493.64,269.14 L494.16,269.28 L494.68,269.42 L495.20,269.56 L495.73,269.70 L496.25,269.84 L496.77,269.98 L497.29,270.13 L497.81,270.27 L498.33,270.41 L498.85,270.55 L499.37,270.69 L499.89,270.83 L500.41,270.97 L500.93,271.11 L501.45,271.25 L501.97,271.39 L502.49,271.53 L503.02,271.67 L503.54,271.81 L504.06,271.95 L504.58,272.09 L505.10,272.23 L505.62,272.37 L506.14,272.49 L506.66,272.61 L507.18,272.72 L507.70,272.81 L508.22,272.89 L508.74,272.95 L509.26,273.00 L509.78,273.06 L510.31,273.15 L510.83,273.27 L511.35,273.43 L511.87,273.63 L512.39,273.84 L512.91,274.07 L513.43,274.29 L513.95,274.50 L514.47,274.69 L514.99,274.87 L515.51,275.03 L516.03,275.18 L516.55,275.33 L517.07,275.47 L517.59,275.61 L518.12,275.75 L518.64,275.89 L519.16,276.03 L519.68,276.18 L520.20,276.32 L520.72,276.46 L521.24,276.60 L521.76,276.74 L522.28,276.88 L522.80,277.02 L523.32,277.16 L523.84,277.30 L524.36,277.44 L524.88,277.58 L525.41,277.72 L525.93,277.86 L526.45,278.00 L526.97,278.15 L527.49,278.29 L528.01,278.43 L528.53,278.57 L529.05,278.71 L529.57,278.85 L530.09,278.99 L530.61,279.13 L531.13,279.27 L531.65,279.41 L532.17,279.55 L532.70,279.69 L533.22,279.83 L533.74,279.97 L534.26,280.12 L534.78,280.26 L535.30,280.40 L535.82,280.54 L536.34,280.68 L536.86,280.82 L537.38,280.96 L537.90,281.10 L538.42,281.24 L538.94,281.38 L539.46,281.52 L539.99,281.66 L540.51,281.80 L541.03,281.94 L541.55,282.09 L542.07,282.23 L542.59,282.37 L543.11,282.51 L543.63,282.65 L544.15,282.79 L544.67,282.93 L545.19,283.07 L545.71,283.21 L546.23,283.35 L546.75,283.49 L547.28,283.63 L547.80,283.77 L548.32,283.91 L548.84,284.05 L549.36,284.20 L549.88,284.34 L550.40,284.48 L550.92,284.62 L551.44,284.76 L551.96,284.90 L552.48,285.04 L553.00,285.18 L553.52,285.32 L554.04,285.46 L554.56,285.60 L555.09,285.74 L555.61,285.88 L556.13,286.02 L556.65,286.17 L557.17,286.31 L557.69,286.45 L558.21,286.59 L558.73,286.73 L559.25,286.87 L559.77,287.01 L560.29,287.15 L560.81,287.29 L561.33,287.43 L561.85,287.57 L562.38,287.71 L562.90,287.85 L563.42,287.99 L563.94,288.14 L564.46,288.28 L564.98,288.42 L565.50,288.56 L566.02,288.70 L566.54,288.84 L567.06,288.98 L567.58,289.12 L568.10,289.26 L568.62,289.40 L569.14,289.54 L569.67,289.68 L570.19,289.82 L570.71,289.96 L571.23,290.11 L571.75,290.25 L572.27,290.39 L572.79,290.53 L573.31,290.67 L573.83,290.81 L574.35,290.95 L574.87,291.09 L575.39,291.23 L575.91,291.37 L576.43,291.51 L576.96,291.65 L577.48,291.79 L578.00,291.93 L578.52,292.08 L579.04,292.22 L579.56,292.36 L580.08,292.50 L580.60,292.64 L581.12,292.78 L581.64,292.92 L582.16,293.06 L582.68,293.20 L583.20,293.34 L583.72,293.48 L584.25,293.62 L584.77,293.76 L585.29,293.90 L585.81,294.04 L586.33,294.19 L586.85,294.33 L587.37,294.47 L587.89,294.61 L588.41,294.75 L588.93,294.89 L589.45,295.03 L589.97,295.17 L590.49,295.31 L591.01,295.45 L591.53,295.59 L592.06,295.73 M437.45,251.51 L437.97,251.65 L438.49,251.79 L439.01,251.94 L439.53,252.08 L440.05,252.22 L440.57,252.36 L441.09,252.50 L441.61,252.64 L442.13,252.78 L442.65,252.92 L443.18,253.06 L443.70,253.20 L444.22,253.34 L444.74,253.48 L445.26,253.62 L445.78,253.76 L446.30,253.91 L446.82,254.05 L447.34,254.19 L447.86,254.33 L448.38,254.47 L448.90,254.61 L449.43,254.75 L449.95,254.89 L450.47,255.03 L450.99,255.17 L451.51,255.31 L452.03,255.45 L452.55,255.59 L453.07,255.73 L453.59,255.87 L454.11,256.02 L454.63,256.16 L455.15,256.30 L455.68,256.44 L456.20,256.58 L456.72,256.72 L457.24,256.86 L457.76,257.00 L458.28,257.14 L458.80,257.28 L459.32,257.42 L459.84,257.56 L460.36,257.70 L460.88,257.84 L461.40,257.99 L461.93,258.13 L462.45,258.27 L462.97,258.41 L463.49,258.55 L464.01,258.69 L464.53,258.83 L465.05,258.97 L465.57,259.11 L466.09,259.25 L466.61,259.39 L467.13,259.53 L467.65,259.67 L468.18,259.81 L468.70,259.95 L469.22,260.10 L469.74,260.24 L470.26,260.38 L470.78,260.52 L471.30,260.66 L471.82,260.80 L472.34,260.94 L472.86,261.08 L473.38,261.22 L473.90,261.36 L474.43,261.50 L474.95,261.64 L475.47,261.78 L475.99,261.92 L476.51,262.06 L477.03,262.21 L477.55,262.35 L478.07,262.49 L478.59,262.63 L479.11,262.77 L479.63,262.91 L480.15,263.05 L480.67,263.19 L481.20,263.33 L481.72,263.47 L482.24,263.61 L482.76,263.75 L483.28,263.89 L483.80,264.03 L484.32,264.18 L484.84,264.32 L485.36,264.46 L485.88,264.60 L486.40,264.74 L486.92,264.88 L487.45,265.02 L487.97,265.16 L488.49,265.30 L489.01,265.44 L489.53,265.58 L490.05,265.72 L490.57,265.86 L491.09,266.00 L491.61,266.14 L492.13,266.29 L492.65,266.43 L493.17,266.57 L493.70,266.71 L494.22,266.85 L494.74,266.99 L495.26,267.13 L495.78,267.27 L496.30,267.41 L496.82,267.55 L497.34,267.69 L497.86,267.83 L498.38,267.97 L498.90,268.11 L499.42,268.26 L499.95,268.40 L500.47,268.54 L500.99,268.68 L501.51,268.82 L502.03,268.96 L502.55,269.10 L503.07,269.24 L503.59,269.38 L504.11,269.52 L504.63,269.66 L505.15,269.80 L505.67,269.94 L506.20,270.08 L506.72,270.22 L507.24,270.36 L507.76,270.49 L508.28,270.61 L508.80,270.73 L509.32,270.83 L509.84,270.92 L510.36,271.00 L510.88,271.07 L511.40,271.15 L511.92,271.25 L512.45,271.38 L512.97,271.53 L513.49,271.72 L514.01,271.92 L514.53,272.12 L515.05,272.33 L515.57,272.52 L516.09,272.70 L516.61,272.86 L517.13,273.02 L517.65,273.17 L518.17,273.32 L518.69,273.46 L519.22,273.60 L519.74,273.74 L520.26,273.88 L520.78,274.02 L521.30,274.16 L521.82,274.30 L522.34,274.45 L522.86,274.59 L523.38,274.73 L523.90,274.87 L524.42,275.01 L524.94,275.15 L525.47,275.29 L525.99,275.43 L526.51,275.57 L527.03,275.71 L527.55,275.85 L528.07,275.99 L528.59,276.13 L529.11,276.27 L529.63,276.42 L530.15,276.56 L530.67,276.70 L531.19,276.84 L531.72,276.98 L532.24,277.12 L532.76,277.26 L533.28,277.40 L533.80,277.54 L534.32,277.68 L534.84,277.82 L535.36,277.96 L535.88,278.10 L536.40,278.24 L536.92,278.38 L537.44,278.53 L537.97,278.67 L538.49,278.81 L539.01,278.95 L539.53,279.09 L540.05,279.23 L540.57,279.37 L541.09,279.51 L541.61,279.65 L542.13,279.79 L542.65,279.93 L543.17,280.07 L543.69,280.21 L544.22,280.35 L544.74,280.50 L545.26,280.64 L545.78,280.78 L546.30,280.92 L546.82,281.06 L547.34,281.20 L547.86,281.34 L548.38,281.48 L548.90,281.62 L549.42,281.76 L549.94,281.90 L550.47,282.04 L550.99,282.18 L551.51,282.32 L552.03,282.46 L552.55,282.61 L553.07,282.75 L553.59,282.89 L554.11,283.03 L554.63,283.17 L555.15,283.31 L555.67,283.45 L556.19,283.59 L556.71,283.73 L557.24,283.87 L557.76,284.01 L558.28,284.15 L558.80,284.29 L559.32,284.43 L559.84,284.58 L560.36,284.72 L560.88,284.86 L561.40,285.00 L561.92,285.14 L562.44,285.28 L562.96,285.42 L563.49,285.56 L564.01,285.70 L564.53,285.84 L565.05,285.98 L565.57,286.12 L566.09,286.26 L566.61,286.40 L567.13,286.54 L567.65,286.69 L568.17,286.83 L568.69,286.97 L569.21,287.11 L569.74,287.25 L570.26,287.39 L570.78,287.53 L571.30,287.67 L571.82,287.81 L572.34,287.95 L572.86,288.09 L573.38,288.23 L573.90,288.37 L574.42,288.51 L574.94,288.66 L575.46,288.80 L575.99,288.94 L576.51,289.08 L577.03,289.22 L577.55,289.36 L578.07,289.50 L578.59,289.64 L579.11,289.78 L579.63,289.92 L580.15,290.06 L580.67,290.20 L581.19,290.34 L581.71,290.48 L582.24,290.62 L582.76,290.77 L583.28,290.91 L583.80,291.05 L584.32,291.19 L584.84,291.33 L585.36,291.47 L585.88,291.61 L586.40,291.75 L586.92,291.89 L587.44,292.03 L587.96,292.17 L588.49,292.31 L589.01,292.45 L589.53,292.59 L590.05,292.74 L590.57,292.88 L591.09,293.02 L591.61,293.16 L592.13,293.30 L592.65,293.44 L593.17,293.58 L593.69,293.72 M439.05,249.50 L439.57,249.65 L440.09,249.79 L440.61,249.93 L441.13,250.07 L441.65,250.21 L442.17,250.35 L442.70,250.49 L443.22,250.63 L443.74,250.77 L444.26,250.91 L444.78,251.05 L445.30,251.19 L445.82,251.33 L446.34,251.47 L446.86,251.61 L447.38,251.76 L447.90,251.90 L448.43,252.04 L448.95,252.18 L449.47,252.32 L449.99,252.46 L450.51,252.60 L451.03,252.74 L451.55,252.88 L452.07,253.02 L452.59,253.16 L453.11,253.30 L453.64,253.44 L454.16,253.58 L454.68,253.72 L455.20,253.87 L455.72,254.01 L456.24,254.15 L456.76,254.29 L457.28,254.43 L457.80,254.57 L458.32,254.71 L458.84,254.85 L459.37,254.99 L459.89,255.13 L460.41,255.27 L460.93,255.41 L461.45,255.55 L461.97,255.69 L462.49,255.83 L463.01,255.98 L463.53,256.12 L464.05,256.26 L464.57,256.40 L465.10,256.54 L465.62,256.68 L466.14,256.82 L466.66,256.96 L467.18,257.10 L467.70,257.24 L468.22,257.38 L468.74,257.52 L469.26,257.66 L469.78,257.80 L470.31,257.94 L470.83,258.09 L471.35,258.23 L471.87,258.37 L472.39,258.51 L472.91,258.65 L473.43,258.79 L473.95,258.93 L474.47,259.07 L474.99,259.21 L475.51,259.35 L476.04,259.49 L476.56,259.63 L477.08,259.77 L477.60,259.91 L478.12,260.06 L478.64,260.20 L479.16,260.34 L479.68,260.48 L480.20,260.62 L480.72,260.76 L481.25,260.90 L481.77,261.04 L482.29,261.18 L482.81,261.32 L483.33,261.46 L483.85,261.60 L484.37,261.74 L484.89,261.88 L485.41,262.02 L485.93,262.17 L486.45,262.31 L486.98,262.45 L487.50,262.59 L488.02,262.73 L488.54,262.87 L489.06,263.01 L489.58,263.15 L490.10,263.29 L490.62,263.43 L491.14,263.57 L491.66,263.71 L492.18,263.85 L492.71,263.99 L493.23,264.13 L493.75,264.28 L494.27,264.42 L494.79,264.56 L495.31,264.70 L495.83,264.84 L496.35,264.98 L496.87,265.12 L497.39,265.26 L497.92,265.40 L498.44,265.54 L498.96,265.68 L499.48,265.82 L500.00,265.96 L500.52,266.10 L501.04,266.24 L501.56,266.39 L502.08,266.53 L502.60,266.67 L503.12,266.81 L503.65,266.95 L504.17,267.09 L504.69,267.23 L505.21,267.37 L505.73,267.51 L506.25,267.65 L506.77,267.79 L507.29,267.93 L507.81,268.07 L508.33,268.21 L508.85,268.35 L509.38,268.48 L509.90,268.61 L510.42,268.73 L510.94,268.84 L511.46,268.94 L511.98,269.04 L512.50,269.13 L513.02,269.22 L513.54,269.33 L514.06,269.46 L514.59,269.61 L515.11,269.78 L515.63,269.97 L516.15,270.16 L516.67,270.35 L517.19,270.53 L517.71,270.70 L518.23,270.86 L518.75,271.01 L519.27,271.16 L519.79,271.31 L520.32,271.45 L520.84,271.59 L521.36,271.73 L521.88,271.87 L522.40,272.01 L522.92,272.15 L523.44,272.29 L523.96,272.43 L524.48,272.57 L525.00,272.72 L525.53,272.86 L526.05,273.00 L526.57,273.14 L527.09,273.28 L527.61,273.42 L528.13,273.56 L528.65,273.70 L529.17,273.84 L529.69,273.98 L530.21,274.12 L530.73,274.26 L531.26,274.40 L531.78,274.54 L532.30,274.69 L532.82,274.83 L533.34,274.97 L533.86,275.11 L534.38,275.25 L534.90,275.39 L535.42,275.53 L535.94,275.67 L536.46,275.81 L536.99,275.95 L537.51,276.09 L538.03,276.23 L538.55,276.37 L539.07,276.51 L539.59,276.65 L540.11,276.80 L540.63,276.94 L541.15,277.08 L541.67,277.22 L542.20,277.36 L542.72,277.50 L543.24,277.64 L543.76,277.78 L544.28,277.92 L544.80,278.06 L545.32,278.20 L545.84,278.34 L546.36,278.48 L546.88,278.62 L547.40,278.76 L547.93,278.91 L548.45,279.05 L548.97,279.19 L549.49,279.33 L550.01,279.47 L550.53,279.61 L551.05,279.75 L551.57,279.89 L552.09,280.03 L552.61,280.17 L553.13,280.31 L553.66,280.45 L554.18,280.59 L554.70,280.73 L555.22,280.87 L555.74,281.02 L556.26,281.16 L556.78,281.30 L557.30,281.44 L557.82,281.58 L558.34,281.72 L558.87,281.86 L559.39,282.00 L559.91,282.14 L560.43,282.28 L560.95,282.42 L561.47,282.56 L561.99,282.70 L562.51,282.84 L563.03,282.98 L563.55,283.13 L564.07,283.27 L564.60,283.41 L565.12,283.55 L565.64,283.69 L566.16,283.83 L566.68,283.97 L567.20,284.11 L567.72,284.25 L568.24,284.39 L568.76,284.53 L569.28,284.67 L569.81,284.81 L570.33,284.95 L570.85,285.09 L571.37,285.24 L571.89,285.38 L572.41,285.52 L572.93,285.66 L573.45,285.80 L573.97,285.94 L574.49,286.08 L575.01,286.22 L575.54,286.36 L576.06,286.50 L576.58,286.64 L577.10,286.78 L577.62,286.92 L578.14,287.06 L578.66,287.21 L579.18,287.35 L579.70,287.49 L580.22,287.63 L580.74,287.77 L581.27,287.91 L581.79,288.05 L582.31,288.19 L582.83,288.33 L583.35,288.47 L583.87,288.61 L584.39,288.75 L584.91,288.89 L585.43,289.03 L585.95,289.17 L586.48,289.32 L587.00,289.46 L587.52,289.60 L588.04,289.74 L588.56,289.88 L589.08,290.02 L589.60,290.16 L590.12,290.30 L590.64,290.44 L591.16,290.58 L591.68,290.72 L592.21,290.86 L592.73,291.00 L593.25,291.14 L593.77,291.28 L594.29,291.43 L594.81,291.57 L595.33,291.71 M440.65,247.50 L441.17,247.64 L441.69,247.78 L442.21,247.92 L442.74,248.06 L443.26,248.20 L443.78,248.34 L444.30,248.48 L444.82,248.62 L445.34,248.76 L445.86,248.90 L446.38,249.04 L446.90,249.18 L447.42,249.32 L447.95,249.46 L448.47,249.61 L448.99,249.75 L449.51,249.89 L450.03,250.03 L450.55,250.17 L451.07,250.31 L451.59,250.45 L452.11,250.59 L452.64,250.73 L453.16,250.87 L453.68,251.01 L454.20,251.15 L454.72,251.29 L455.24,251.43 L455.76,251.57 L456.28,251.72 L456.80,251.86 L457.33,252.00 L457.85,252.14 L458.37,252.28 L458.89,252.42 L459.41,252.56 L459.93,252.70 L460.45,252.84 L460.97,252.98 L461.49,253.12 L462.01,253.26 L462.54,253.40 L463.06,253.54 L463.58,253.68 L464.10,253.83 L464.62,253.97 L465.14,254.11 L465.66,254.25 L466.18,254.39 L466.70,254.53 L467.23,254.67 L467.75,254.81 L468.27,254.95 L468.79,255.09 L469.31,255.23 L469.83,255.37 L470.35,255.51 L470.87,255.65 L471.39,255.79 L471.91,255.94 L472.44,256.08 L472.96,256.22 L473.48,256.36 L474.00,256.50 L474.52,256.64 L475.04,256.78 L475.56,256.92 L476.08,257.06 L476.60,257.20 L477.13,257.34 L477.65,257.48 L478.17,257.62 L478.69,257.76 L479.21,257.90 L479.73,258.05 L480.25,258.19 L480.77,258.33 L481.29,258.47 L481.81,258.61 L482.34,258.75 L482.86,258.89 L483.38,259.03 L483.90,259.17 L484.42,259.31 L484.94,259.45 L485.46,259.59 L485.98,259.73 L486.50,259.87 L487.03,260.01 L487.55,260.15 L488.07,260.30 L488.59,260.44 L489.11,260.58 L489.63,260.72 L490.15,260.86 L490.67,261.00 L491.19,261.14 L491.71,261.28 L492.24,261.42 L492.76,261.56 L493.28,261.70 L493.80,261.84 L494.32,261.98 L494.84,262.12 L495.36,262.26 L495.88,262.41 L496.40,262.55 L496.93,262.69 L497.45,262.83 L497.97,262.97 L498.49,263.11 L499.01,263.25 L499.53,263.39 L500.05,263.53 L500.57,263.67 L501.09,263.81 L501.62,263.95 L502.14,264.09 L502.66,264.23 L503.18,264.37 L503.70,264.52 L504.22,264.66 L504.74,264.80 L505.26,264.94 L505.78,265.08 L506.30,265.22 L506.83,265.36 L507.35,265.50 L507.87,265.64 L508.39,265.78 L508.91,265.92 L509.43,266.06 L509.95,266.20 L510.47,266.34 L510.99,266.47 L511.52,266.61 L512.04,266.73 L512.56,266.85 L513.08,266.96 L513.60,267.06 L514.12,267.16 L514.64,267.27 L515.16,267.39 L515.68,267.52 L516.20,267.67 L516.73,267.83 L517.25,268.01 L517.77,268.19 L518.29,268.37 L518.81,268.54 L519.33,268.70 L519.85,268.86 L520.37,269.01 L520.89,269.15 L521.42,269.30 L521.94,269.44 L522.46,269.58 L522.98,269.72 L523.50,269.86 L524.02,270.00 L524.54,270.14 L525.06,270.28 L525.58,270.42 L526.10,270.56 L526.63,270.70 L527.15,270.84 L527.67,270.99 L528.19,271.13 L528.71,271.27 L529.23,271.41 L529.75,271.55 L530.27,271.69 L530.79,271.83 L531.32,271.97 L531.84,272.11 L532.36,272.25 L532.88,272.39 L533.40,272.53 L533.92,272.67 L534.44,272.81 L534.96,272.95 L535.48,273.10 L536.00,273.24 L536.53,273.38 L537.05,273.52 L537.57,273.66 L538.09,273.80 L538.61,273.94 L539.13,274.08 L539.65,274.22 L540.17,274.36 L540.69,274.50 L541.22,274.64 L541.74,274.78 L542.26,274.92 L542.78,275.06 L543.30,275.21 L543.82,275.35 L544.34,275.49 L544.86,275.63 L545.38,275.77 L545.91,275.91 L546.43,276.05 L546.95,276.19 L547.47,276.33 L547.99,276.47 L548.51,276.61 L549.03,276.75 L549.55,276.89 L550.07,277.03 L550.59,277.17 L551.12,277.32 L551.64,277.46 L552.16,277.60 L552.68,277.74 L553.20,277.88 L553.72,278.02 L554.24,278.16 L554.76,278.30 L555.28,278.44 L555.81,278.58 L556.33,278.72 L556.85,278.86 L557.37,279.00 L557.89,279.14 L558.41,279.28 L558.93,279.43 L559.45,279.57 L559.97,279.71 L560.49,279.85 L561.02,279.99 L561.54,280.13 L562.06,280.27 L562.58,280.41 L563.10,280.55 L563.62,280.69 L564.14,280.83 L564.66,280.97 L565.18,281.11 L565.71,281.25 L566.23,281.39 L566.75,281.54 L567.27,281.68 L567.79,281.82 L568.31,281.96 L568.83,282.10 L569.35,282.24 L569.87,282.38 L570.39,282.52 L570.92,282.66 L571.44,282.80 L571.96,282.94 L572.48,283.08 L573.00,283.22 L573.52,283.36 L574.04,283.50 L574.56,283.64 L575.08,283.79 L575.61,283.93 L576.13,284.07 L576.65,284.21 L577.17,284.35 L577.69,284.49 L578.21,284.63 L578.73,284.77 L579.25,284.91 L579.77,285.05 L580.29,285.19 L580.82,285.33 L581.34,285.47 L581.86,285.61 L582.38,285.75 L582.90,285.90 L583.42,286.04 L583.94,286.18 L584.46,286.32 L584.98,286.46 L585.51,286.60 L586.03,286.74 L586.55,286.88 L587.07,287.02 L587.59,287.16 L588.11,287.30 L588.63,287.44 L589.15,287.58 L589.67,287.72 L590.20,287.86 L590.72,288.01 L591.24,288.15 L591.76,288.29 L592.28,288.43 L592.80,288.57 L593.32,288.71 L593.84,288.85 L594.36,288.99 L594.88,289.13 L595.41,289.27 L595.93,289.41 L596.45,289.55 L596.97,289.69 M442.25,245.49 L442.77,245.63 L443.30,245.77 L443.82,245.91 L444.34,246.05 L444.86,246.19 L445.38,246.33 L445.90,246.47 L446.42,246.61 L446.94,246.75 L447.47,246.89 L447.99,247.03 L448.51,247.17 L449.03,247.32 L449.55,247.46 L450.07,247.60 L450.59,247.74 L451.11,247.88 L451.63,248.02 L452.16,248.16 L452.68,248.30 L453.20,248.44 L453.72,248.58 L454.24,248.72 L454.76,248.86 L455.28,249.00 L455.80,249.14 L456.33,249.28 L456.85,249.42 L457.37,249.57 L457.89,249.71 L458.41,249.85 L458.93,249.99 L459.45,250.13 L459.97,250.27 L460.49,250.41 L461.02,250.55 L461.54,250.69 L462.06,250.83 L462.58,250.97 L463.10,251.11 L463.62,251.25 L464.14,251.39 L464.66,251.53 L465.19,251.68 L465.71,251.82 L466.23,251.96 L466.75,252.10 L467.27,252.24 L467.79,252.38 L468.31,252.52 L468.83,252.66 L469.35,252.80 L469.88,252.94 L470.40,253.08 L470.92,253.22 L471.44,253.36 L471.96,253.50 L472.48,253.64 L473.00,253.78 L473.52,253.93 L474.05,254.07 L474.57,254.21 L475.09,254.35 L475.61,254.49 L476.13,254.63 L476.65,254.77 L477.17,254.91 L477.69,255.05 L478.21,255.19 L478.74,255.33 L479.26,255.47 L479.78,255.61 L480.30,255.75 L480.82,255.89 L481.34,256.03 L481.86,256.18 L482.38,256.32 L482.91,256.46 L483.43,256.60 L483.95,256.74 L484.47,256.88 L484.99,257.02 L485.51,257.16 L486.03,257.30 L486.55,257.44 L487.07,257.58 L487.60,257.72 L488.12,257.86 L488.64,258.00 L489.16,258.14 L489.68,258.29 L490.20,258.43 L490.72,258.57 L491.24,258.71 L491.77,258.85 L492.29,258.99 L492.81,259.13 L493.33,259.27 L493.85,259.41 L494.37,259.55 L494.89,259.69 L495.41,259.83 L495.93,259.97 L496.46,260.11 L496.98,260.25 L497.50,260.39 L498.02,260.54 L498.54,260.68 L499.06,260.82 L499.58,260.96 L500.10,261.10 L500.63,261.24 L501.15,261.38 L501.67,261.52 L502.19,261.66 L502.71,261.80 L503.23,261.94 L503.75,262.08 L504.27,262.22 L504.79,262.36 L505.32,262.50 L505.84,262.65 L506.36,262.79 L506.88,262.93 L507.40,263.07 L507.92,263.21 L508.44,263.35 L508.96,263.49 L509.49,263.63 L510.01,263.77 L510.53,263.91 L511.05,264.05 L511.57,264.19 L512.09,264.33 L512.61,264.47 L513.13,264.60 L513.65,264.73 L514.18,264.85 L514.70,264.97 L515.22,265.08 L515.74,265.19 L516.26,265.30 L516.78,265.43 L517.30,265.56 L517.82,265.71 L518.35,265.87 L518.87,266.03 L519.39,266.21 L519.91,266.37 L520.43,266.54 L520.95,266.70 L521.47,266.85 L521.99,267.00 L522.51,267.14 L523.04,267.28 L523.56,267.43 L524.08,267.57 L524.60,267.71 L525.12,267.85 L525.64,267.99 L526.16,268.13 L526.68,268.27 L527.21,268.41 L527.73,268.55 L528.25,268.69 L528.77,268.83 L529.29,268.97 L529.81,269.11 L530.33,269.26 L530.85,269.40 L531.37,269.54 L531.90,269.68 L532.42,269.82 L532.94,269.96 L533.46,270.10 L533.98,270.24 L534.50,270.38 L535.02,270.52 L535.54,270.66 L536.07,270.80 L536.59,270.94 L537.11,271.08 L537.63,271.22 L538.15,271.37 L538.67,271.51 L539.19,271.65 L539.71,271.79 L540.23,271.93 L540.76,272.07 L541.28,272.21 L541.80,272.35 L542.32,272.49 L542.84,272.63 L543.36,272.77 L543.88,272.91 L544.40,273.05 L544.93,273.19 L545.45,273.33 L545.97,273.47 L546.49,273.62 L547.01,273.76 L547.53,273.90 L548.05,274.04 L548.57,274.18 L549.09,274.32 L549.62,274.46 L550.14,274.60 L550.66,274.74 L551.18,274.88 L551.70,275.02 L552.22,275.16 L552.74,275.30 L553.26,275.44 L553.79,275.58 L554.31,275.73 L554.83,275.87 L555.35,276.01 L555.87,276.15 L556.39,276.29 L556.91,276.43 L557.43,276.57 L557.95,276.71 L558.48,276.85 L559.00,276.99 L559.52,277.13 L560.04,277.27 L560.56,277.41 L561.08,277.55 L561.60,277.69 L562.12,277.83 L562.65,277.98 L563.17,278.12 L563.69,278.26 L564.21,278.40 L564.73,278.54 L565.25,278.68 L565.77,278.82 L566.29,278.96 L566.81,279.10 L567.34,279.24 L567.86,279.38 L568.38,279.52 L568.90,279.66 L569.42,279.80 L569.94,279.94 L570.46,280.09 L570.98,280.23 L571.51,280.37 L572.03,280.51 L572.55,280.65 L573.07,280.79 L573.59,280.93 L574.11,281.07 L574.63,281.21 L575.15,281.35 L575.67,281.49 L576.20,281.63 L576.72,281.77 L577.24,281.91 L577.76,282.05 L578.28,282.19 L578.80,282.34 L579.32,282.48 L579.84,282.62 L580.37,282.76 L580.89,282.90 L581.41,283.04 L581.93,283.18 L582.45,283.32 L582.97,283.46 L583.49,283.60 L584.01,283.74 L584.53,283.88 L585.06,284.02 L585.58,284.16 L586.10,284.30 L586.62,284.45 L587.14,284.59 L587.66,284.73 L588.18,284.87 L588.70,285.01 L589.23,285.15 L589.75,285.29 L590.27,285.43 L590.79,285.57 L591.31,285.71 L591.83,285.85 L592.35,285.99 L592.87,286.13 L593.39,286.27 L593.92,286.41 L594.44,286.55 L594.96,286.70 L595.48,286.84 L596.00,286.98 L596.52,287.12 L597.04,287.26 L597.56,287.40 L598.09,287.54 L598.61,287.68 M443.86,243.48 L444.38,243.62 L444.90,243.76 L445.42,243.90 L445.94,244.04 L446.46,244.18 L446.98,244.32 L447.50,244.46 L448.03,244.60 L448.55,244.74 L449.07,244.88 L449.59,245.02 L450.11,245.17 L450.63,245.31 L451.15,245.45 L451.68,245.59 L452.20,245.73 L452.72,245.87 L453.24,246.01 L453.76,246.15 L454.28,246.29 L454.80,246.43 L455.32,246.57 L455.85,246.71 L456.37,246.85 L456.89,246.99 L457.41,247.13 L457.93,247.27 L458.45,247.42 L458.97,247.56 L459.49,247.70 L460.02,247.84 L460.54,247.98 L461.06,248.12 L461.58,248.26 L462.10,248.40 L462.62,248.54 L463.14,248.68 L463.66,248.82 L464.19,248.96 L464.71,249.10 L465.23,249.24 L465.75,249.38 L466.27,249.52 L466.79,249.67 L467.31,249.81 L467.84,249.95 L468.36,250.09 L468.88,250.23 L469.40,250.37 L469.92,250.51 L470.44,250.65 L470.96,250.79 L471.48,250.93 L472.01,251.07 L472.53,251.21 L473.05,251.35 L473.57,251.49 L474.09,251.63 L474.61,251.77 L475.13,251.92 L475.65,252.06 L476.18,252.20 L476.70,252.34 L477.22,252.48 L477.74,252.62 L478.26,252.76 L478.78,252.90 L479.30,253.04 L479.82,253.18 L480.35,253.32 L480.87,253.46 L481.39,253.60 L481.91,253.74 L482.43,253.88 L482.95,254.03 L483.47,254.17 L484.00,254.31 L484.52,254.45 L485.04,254.59 L485.56,254.73 L486.08,254.87 L486.60,255.01 L487.12,255.15 L487.64,255.29 L488.17,255.43 L488.69,255.57 L489.21,255.71 L489.73,255.85 L490.25,255.99 L490.77,256.13 L491.29,256.28 L491.81,256.42 L492.34,256.56 L492.86,256.70 L493.38,256.84 L493.90,256.98 L494.42,257.12 L494.94,257.26 L495.46,257.40 L495.99,257.54 L496.51,257.68 L497.03,257.82 L497.55,257.96 L498.07,258.10 L498.59,258.24 L499.11,258.38 L499.63,258.53 L500.16,258.67 L500.68,258.81 L501.20,258.95 L501.72,259.09 L502.24,259.23 L502.76,259.37 L503.28,259.51 L503.80,259.65 L504.33,259.79 L504.85,259.93 L505.37,260.07 L505.89,260.21 L506.41,260.35 L506.93,260.49 L507.45,260.63 L507.97,260.78 L508.50,260.92 L509.02,261.06 L509.54,261.20 L510.06,261.34 L510.58,261.48 L511.10,261.62 L511.62,261.76 L512.15,261.90 L512.67,262.04 L513.19,262.18 L513.71,262.32 L514.23,262.46 L514.75,262.59 L515.27,262.72 L515.79,262.85 L516.32,262.97 L516.84,263.09 L517.36,263.21 L517.88,263.33 L518.40,263.46 L518.92,263.59 L519.44,263.74 L519.96,263.89 L520.49,264.05 L521.01,264.22 L521.53,264.38 L522.05,264.54 L522.57,264.69 L523.09,264.84 L523.61,264.99 L524.14,265.13 L524.66,265.27 L525.18,265.42 L525.70,265.56 L526.22,265.70 L526.74,265.84 L527.26,265.98 L527.78,266.12 L528.31,266.26 L528.83,266.40 L529.35,266.54 L529.87,266.68 L530.39,266.82 L530.91,266.96 L531.43,267.10 L531.95,267.24 L532.48,267.38 L533.00,267.53 L533.52,267.67 L534.04,267.81 L534.56,267.95 L535.08,268.09 L535.60,268.23 L536.12,268.37 L536.65,268.51 L537.17,268.65 L537.69,268.79 L538.21,268.93 L538.73,269.07 L539.25,269.21 L539.77,269.35 L540.30,269.49 L540.82,269.63 L541.34,269.78 L541.86,269.92 L542.38,270.06 L542.90,270.20 L543.42,270.34 L543.94,270.48 L544.47,270.62 L544.99,270.76 L545.51,270.90 L546.03,271.04 L546.55,271.18 L547.07,271.32 L547.59,271.46 L548.11,271.60 L548.64,271.74 L549.16,271.88 L549.68,272.03 L550.20,272.17 L550.72,272.31 L551.24,272.45 L551.76,272.59 L552.29,272.73 L552.81,272.87 L553.33,273.01 L553.85,273.15 L554.37,273.29 L554.89,273.43 L555.41,273.57 L555.93,273.71 L556.46,273.85 L556.98,273.99 L557.50,274.14 L558.02,274.28 L558.54,274.42 L559.06,274.56 L559.58,274.70 L560.10,274.84 L560.63,274.98 L561.15,275.12 L561.67,275.26 L562.19,275.40 L562.71,275.54 L563.23,275.68 L563.75,275.82 L564.27,275.96 L564.80,276.10 L565.32,276.24 L565.84,276.39 L566.36,276.53 L566.88,276.67 L567.40,276.81 L567.92,276.95 L568.45,277.09 L568.97,277.23 L569.49,277.37 L570.01,277.51 L570.53,277.65 L571.05,277.79 L571.57,277.93 L572.09,278.07 L572.62,278.21 L573.14,278.35 L573.66,278.49 L574.18,278.64 L574.70,278.78 L575.22,278.92 L575.74,279.06 L576.26,279.20 L576.79,279.34 L577.31,279.48 L577.83,279.62 L578.35,279.76 L578.87,279.90 L579.39,280.04 L579.91,280.18 L580.44,280.32 L580.96,280.46 L581.48,280.60 L582.00,280.74 L582.52,280.89 L583.04,281.03 L583.56,281.17 L584.08,281.31 L584.61,281.45 L585.13,281.59 L585.65,281.73 L586.17,281.87 L586.69,282.01 L587.21,282.15 L587.73,282.29 L588.25,282.43 L588.78,282.57 L589.30,282.71 L589.82,282.85 L590.34,282.99 L590.86,283.14 L591.38,283.28 L591.90,283.42 L592.42,283.56 L592.95,283.70 L593.47,283.84 L593.99,283.98 L594.51,284.12 L595.03,284.26 L595.55,284.40 L596.07,284.54 L596.60,284.68 L597.12,284.82 L597.64,284.96 L598.16,285.10 L598.68,285.24 L599.20,285.39 L599.72,285.53 L600.24,285.67 M445.46,241.47 L445.98,241.61 L446.50,241.75 L447.02,241.89 L447.54,242.03 L448.06,242.17 L448.59,242.31 L449.11,242.45 L449.63,242.59 L450.15,242.73 L450.67,242.88 L451.19,243.02 L451.71,243.16 L452.24,243.30 L452.76,243.44 L453.28,243.58 L453.80,243.72 L454.32,243.86 L454.84,244.00 L455.36,244.14 L455.89,244.28 L456.41,244.42 L456.93,244.56 L457.45,244.70 L457.97,244.84 L458.49,244.98 L459.01,245.12 L459.54,245.27 L460.06,245.41 L460.58,245.55 L461.10,245.69 L461.62,245.83 L462.14,245.97 L462.66,246.11 L463.19,246.25 L463.71,246.39 L464.23,246.53 L464.75,246.67 L465.27,246.81 L465.79,246.95 L466.31,247.09 L466.84,247.23 L467.36,247.37 L467.88,247.52 L468.40,247.66 L468.92,247.80 L469.44,247.94 L469.96,248.08 L470.49,248.22 L471.01,248.36 L471.53,248.50 L472.05,248.64 L472.57,248.78 L473.09,248.92 L473.61,249.06 L474.14,249.20 L474.66,249.34 L475.18,249.48 L475.70,249.62 L476.22,249.77 L476.74,249.91 L477.26,250.05 L477.79,250.19 L478.31,250.33 L478.83,250.47 L479.35,250.61 L479.87,250.75 L480.39,250.89 L480.91,251.03 L481.44,251.17 L481.96,251.31 L482.48,251.45 L483.00,251.59 L483.52,251.73 L484.04,251.87 L484.56,252.02 L485.09,252.16 L485.61,252.30 L486.13,252.44 L486.65,252.58 L487.17,252.72 L487.69,252.86 L488.21,253.00 L488.74,253.14 L489.26,253.28 L489.78,253.42 L490.30,253.56 L490.82,253.70 L491.34,253.84 L491.86,253.98 L492.39,254.12 L492.91,254.26 L493.43,254.41 L493.95,254.55 L494.47,254.69 L494.99,254.83 L495.51,254.97 L496.04,255.11 L496.56,255.25 L497.08,255.39 L497.60,255.53 L498.12,255.67 L498.64,255.81 L499.16,255.95 L499.68,256.09 L500.21,256.23 L500.73,256.37 L501.25,256.51 L501.77,256.66 L502.29,256.80 L502.81,256.94 L503.33,257.08 L503.86,257.22 L504.38,257.36 L504.90,257.50 L505.42,257.64 L505.94,257.78 L506.46,257.92 L506.98,258.06 L507.51,258.20 L508.03,258.34 L508.55,258.48 L509.07,258.62 L509.59,258.76 L510.11,258.91 L510.63,259.05 L511.16,259.19 L511.68,259.33 L512.20,259.47 L512.72,259.61 L513.24,259.75 L513.76,259.89 L514.28,260.03 L514.81,260.17 L515.33,260.31 L515.85,260.45 L516.37,260.58 L516.89,260.72 L517.41,260.85 L517.93,260.97 L518.46,261.10 L518.98,261.22 L519.50,261.35 L520.02,261.47 L520.54,261.61 L521.06,261.76 L521.58,261.91 L522.11,262.06 L522.63,262.22 L523.15,262.38 L523.67,262.53 L524.19,262.69 L524.71,262.83 L525.23,262.98 L525.76,263.12 L526.28,263.26 L526.80,263.40 L527.32,263.55 L527.84,263.69 L528.36,263.83 L528.88,263.97 L529.41,264.11 L529.93,264.25 L530.45,264.39 L530.97,264.53 L531.49,264.67 L532.01,264.81 L532.53,264.95 L533.06,265.09 L533.58,265.23 L534.10,265.37 L534.62,265.51 L535.14,265.65 L535.66,265.80 L536.18,265.94 L536.71,266.08 L537.23,266.22 L537.75,266.36 L538.27,266.50 L538.79,266.64 L539.31,266.78 L539.83,266.92 L540.36,267.06 L540.88,267.20 L541.40,267.34 L541.92,267.48 L542.44,267.62 L542.96,267.76 L543.48,267.90 L544.01,268.05 L544.53,268.19 L545.05,268.33 L545.57,268.47 L546.09,268.61 L546.61,268.75 L547.13,268.89 L547.66,269.03 L548.18,269.17 L548.70,269.31 L549.22,269.45 L549.74,269.59 L550.26,269.73 L550.78,269.87 L551.30,270.01 L551.83,270.15 L552.35,270.29 L552.87,270.44 L553.39,270.58 L553.91,270.72 L554.43,270.86 L554.95,271.00 L555.48,271.14 L556.00,271.28 L556.52,271.42 L557.04,271.56 L557.56,271.70 L558.08,271.84 L558.60,271.98 L559.13,272.12 L559.65,272.26 L560.17,272.40 L560.69,272.54 L561.21,272.69 L561.73,272.83 L562.25,272.97 L562.78,273.11 L563.30,273.25 L563.82,273.39 L564.34,273.53 L564.86,273.67 L565.38,273.81 L565.90,273.95 L566.43,274.09 L566.95,274.23 L567.47,274.37 L567.99,274.51 L568.51,274.65 L569.03,274.79 L569.55,274.94 L570.08,275.08 L570.60,275.22 L571.12,275.36 L571.64,275.50 L572.16,275.64 L572.68,275.78 L573.20,275.92 L573.73,276.06 L574.25,276.20 L574.77,276.34 L575.29,276.48 L575.81,276.62 L576.33,276.76 L576.85,276.90 L577.38,277.04 L577.90,277.19 L578.42,277.33 L578.94,277.47 L579.46,277.61 L579.98,277.75 L580.50,277.89 L581.03,278.03 L581.55,278.17 L582.07,278.31 L582.59,278.45 L583.11,278.59 L583.63,278.73 L584.15,278.87 L584.68,279.01 L585.20,279.15 L585.72,279.29 L586.24,279.43 L586.76,279.58 L587.28,279.72 L587.80,279.86 L588.33,280.00 L588.85,280.14 L589.37,280.28 L589.89,280.42 L590.41,280.56 L590.93,280.70 L591.45,280.84 L591.98,280.98 L592.50,281.12 L593.02,281.26 L593.54,281.40 L594.06,281.54 L594.58,281.68 L595.10,281.83 L595.63,281.97 L596.15,282.11 L596.67,282.25 L597.19,282.39 L597.71,282.53 L598.23,282.67 L598.75,282.81 L599.28,282.95 L599.80,283.09 L600.32,283.23 L600.84,283.37 L601.36,283.51 L601.88,283.65 M447.06,239.46 L447.58,239.60 L448.10,239.74 L448.62,239.88 L449.15,240.02 L449.67,240.16 L450.19,240.30 L450.71,240.44 L451.23,240.58 L451.75,240.73 L452.28,240.87 L452.80,241.01 L453.32,241.15 L453.84,241.29 L454.36,241.43 L454.88,241.57 L455.40,241.71 L455.93,241.85 L456.45,241.99 L456.97,242.13 L457.49,242.27 L458.01,242.41 L458.53,242.55 L459.06,242.69 L459.58,242.83 L460.10,242.97 L460.62,243.12 L461.14,243.26 L461.66,243.40 L462.18,243.54 L462.71,243.68 L463.23,243.82 L463.75,243.96 L464.27,244.10 L464.79,244.24 L465.31,244.38 L465.84,244.52 L466.36,244.66 L466.88,244.80 L467.40,244.94 L467.92,245.08 L468.44,245.22 L468.96,245.37 L469.49,245.51 L470.01,245.65 L470.53,245.79 L471.05,245.93 L471.57,246.07 L472.09,246.21 L472.62,246.35 L473.14,246.49 L473.66,246.63 L474.18,246.77 L474.70,246.91 L475.22,247.05 L475.74,247.19 L476.27,247.33 L476.79,247.47 L477.31,247.61 L477.83,247.76 L478.35,247.90 L478.87,248.04 L479.40,248.18 L479.92,248.32 L480.44,248.46 L480.96,248.60 L481.48,248.74 L482.00,248.88 L482.52,249.02 L483.05,249.16 L483.57,249.30 L484.09,249.44 L484.61,249.58 L485.13,249.72 L485.65,249.86 L486.17,250.00 L486.70,250.15 L487.22,250.29 L487.74,250.43 L488.26,250.57 L488.78,250.71 L489.30,250.85 L489.83,250.99 L490.35,251.13 L490.87,251.27 L491.39,251.41 L491.91,251.55 L492.43,251.69 L492.95,251.83 L493.48,251.97 L494.00,252.11 L494.52,252.25 L495.04,252.40 L495.56,252.54 L496.08,252.68 L496.61,252.82 L497.13,252.96 L497.65,253.10 L498.17,253.24 L498.69,253.38 L499.21,253.52 L499.73,253.66 L500.26,253.80 L500.78,253.94 L501.30,254.08 L501.82,254.22 L502.34,254.36 L502.86,254.50 L503.39,254.64 L503.91,254.79 L504.43,254.93 L504.95,255.07 L505.47,255.21 L505.99,255.35 L506.51,255.49 L507.04,255.63 L507.56,255.77 L508.08,255.91 L508.60,256.05 L509.12,256.19 L509.64,256.33 L510.17,256.47 L510.69,256.61 L511.21,256.75 L511.73,256.89 L512.25,257.03 L512.77,257.18 L513.29,257.32 L513.82,257.46 L514.34,257.60 L514.86,257.74 L515.38,257.88 L515.90,258.02 L516.42,258.16 L516.95,258.30 L517.47,258.44 L517.99,258.57 L518.51,258.71 L519.03,258.84 L519.55,258.97 L520.07,259.10 L520.60,259.23 L521.12,259.36 L521.64,259.49 L522.16,259.62 L522.68,259.77 L523.20,259.92 L523.73,260.07 L524.25,260.22 L524.77,260.38 L525.29,260.53 L525.81,260.68 L526.33,260.82 L526.85,260.97 L527.38,261.11 L527.90,261.25 L528.42,261.39 L528.94,261.53 L529.46,261.67 L529.98,261.82 L530.51,261.96 L531.03,262.10 L531.55,262.24 L532.07,262.38 L532.59,262.52 L533.11,262.66 L533.63,262.80 L534.16,262.94 L534.68,263.08 L535.20,263.22 L535.72,263.36 L536.24,263.50 L536.76,263.64 L537.29,263.78 L537.81,263.92 L538.33,264.06 L538.85,264.21 L539.37,264.35 L539.89,264.49 L540.41,264.63 L540.94,264.77 L541.46,264.91 L541.98,265.05 L542.50,265.19 L543.02,265.33 L543.54,265.47 L544.07,265.61 L544.59,265.75 L545.11,265.89 L545.63,266.03 L546.15,266.17 L546.67,266.31 L547.19,266.46 L547.72,266.60 L548.24,266.74 L548.76,266.88 L549.28,267.02 L549.80,267.16 L550.32,267.30 L550.85,267.44 L551.37,267.58 L551.89,267.72 L552.41,267.86 L552.93,268.00 L553.45,268.14 L553.97,268.28 L554.50,268.42 L555.02,268.56 L555.54,268.70 L556.06,268.85 L556.58,268.99 L557.10,269.13 L557.63,269.27 L558.15,269.41 L558.67,269.55 L559.19,269.69 L559.71,269.83 L560.23,269.97 L560.75,270.11 L561.28,270.25 L561.80,270.39 L562.32,270.53 L562.84,270.67 L563.36,270.81 L563.88,270.95 L564.40,271.10 L564.93,271.24 L565.45,271.38 L565.97,271.52 L566.49,271.66 L567.01,271.80 L567.53,271.94 L568.06,272.08 L568.58,272.22 L569.10,272.36 L569.62,272.50 L570.14,272.64 L570.66,272.78 L571.18,272.92 L571.71,273.06 L572.23,273.20 L572.75,273.34 L573.27,273.49 L573.79,273.63 L574.31,273.77 L574.84,273.91 L575.36,274.05 L575.88,274.19 L576.40,274.33 L576.92,274.47 L577.44,274.61 L577.96,274.75 L578.49,274.89 L579.01,275.03 L579.53,275.17 L580.05,275.31 L580.57,275.45 L581.09,275.59 L581.62,275.73 L582.14,275.88 L582.66,276.02 L583.18,276.16 L583.70,276.30 L584.22,276.44 L584.74,276.58 L585.27,276.72 L585.79,276.86 L586.31,277.00 L586.83,277.14 L587.35,277.28 L587.87,277.42 L588.40,277.56 L588.92,277.70 L589.44,277.84 L589.96,277.98 L590.48,278.12 L591.00,278.27 L591.52,278.41 L592.05,278.55 L592.57,278.69 L593.09,278.83 L593.61,278.97 L594.13,279.11 L594.65,279.25 L595.18,279.39 L595.70,279.53 L596.22,279.67 L596.74,279.81 L597.26,279.95 L597.78,280.09 L598.30,280.23 L598.83,280.37 L599.35,280.52 L599.87,280.66 L600.39,280.80 L600.91,280.94 L601.43,281.08 L601.96,281.22 L602.48,281.36 L603.00,281.50 L603.52,281.64 M448.66,237.45 L449.18,237.59 L449.71,237.73 L450.23,237.87 L450.75,238.01 L451.27,238.15 L451.79,238.29 L452.31,238.44 L452.84,238.58 L453.36,238.72 L453.88,238.86 L454.40,239.00 L454.92,239.14 L455.44,239.28 L455.97,239.42 L456.49,239.56 L457.01,239.70 L457.53,239.84 L458.05,239.98 L458.57,240.12 L459.10,240.26 L459.62,240.40 L460.14,240.54 L460.66,240.68 L461.18,240.83 L461.70,240.97 L462.23,241.11 L462.75,241.25 L463.27,241.39 L463.79,241.53 L464.31,241.67 L464.83,241.81 L465.36,241.95 L465.88,242.09 L466.40,242.23 L466.92,242.37 L467.44,242.51 L467.96,242.65 L468.48,242.79 L469.01,242.93 L469.53,243.07 L470.05,243.22 L470.57,243.36 L471.09,243.50 L471.61,243.64 L472.14,243.78 L472.66,243.92 L473.18,244.06 L473.70,244.20 L474.22,244.34 L474.74,244.48 L475.27,244.62 L475.79,244.76 L476.31,244.90 L476.83,245.04 L477.35,245.18 L477.87,245.32 L478.40,245.46 L478.92,245.61 L479.44,245.75 L479.96,245.89 L480.48,246.03 L481.00,246.17 L481.53,246.31 L482.05,246.45 L482.57,246.59 L483.09,246.73 L483.61,246.87 L484.13,247.01 L484.66,247.15 L485.18,247.29 L485.70,247.43 L486.22,247.57 L486.74,247.71 L487.26,247.85 L487.79,248.00 L488.31,248.14 L488.83,248.28 L489.35,248.42 L489.87,248.56 L490.39,248.70 L490.92,248.84 L491.44,248.98 L491.96,249.12 L492.48,249.26 L493.00,249.40 L493.52,249.54 L494.05,249.68 L494.57,249.82 L495.09,249.96 L495.61,250.10 L496.13,250.24 L496.65,250.38 L497.18,250.53 L497.70,250.67 L498.22,250.81 L498.74,250.95 L499.26,251.09 L499.78,251.23 L500.31,251.37 L500.83,251.51 L501.35,251.65 L501.87,251.79 L502.39,251.93 L502.91,252.07 L503.44,252.21 L503.96,252.35 L504.48,252.49 L505.00,252.63 L505.52,252.77 L506.04,252.92 L506.57,253.06 L507.09,253.20 L507.61,253.34 L508.13,253.48 L508.65,253.62 L509.17,253.76 L509.70,253.90 L510.22,254.04 L510.74,254.18 L511.26,254.32 L511.78,254.46 L512.30,254.60 L512.83,254.74 L513.35,254.88 L513.87,255.02 L514.39,255.16 L514.91,255.31 L515.43,255.45 L515.96,255.59 L516.48,255.73 L517.00,255.87 L517.52,256.01 L518.04,256.15 L518.56,256.29 L519.09,256.43 L519.61,256.57 L520.13,256.70 L520.65,256.84 L521.17,256.97 L521.69,257.10 L522.22,257.23 L522.74,257.36 L523.26,257.49 L523.78,257.63 L524.30,257.78 L524.82,257.92 L525.35,258.07 L525.87,258.22 L526.39,258.37 L526.91,258.52 L527.43,258.67 L527.95,258.81 L528.47,258.96 L529.00,259.10 L529.52,259.24 L530.04,259.38 L530.56,259.52 L531.08,259.66 L531.60,259.80 L532.13,259.94 L532.65,260.09 L533.17,260.23 L533.69,260.37 L534.21,260.51 L534.73,260.65 L535.26,260.79 L535.78,260.93 L536.30,261.07 L536.82,261.21 L537.34,261.35 L537.86,261.49 L538.39,261.63 L538.91,261.77 L539.43,261.91 L539.95,262.05 L540.47,262.19 L540.99,262.33 L541.52,262.48 L542.04,262.62 L542.56,262.76 L543.08,262.90 L543.60,263.04 L544.12,263.18 L544.65,263.32 L545.17,263.46 L545.69,263.60 L546.21,263.74 L546.73,263.88 L547.25,264.02 L547.78,264.16 L548.30,264.30 L548.82,264.44 L549.34,264.58 L549.86,264.72 L550.38,264.87 L550.91,265.01 L551.43,265.15 L551.95,265.29 L552.47,265.43 L552.99,265.57 L553.51,265.71 L554.04,265.85 L554.56,265.99 L555.08,266.13 L555.60,266.27 L556.12,266.41 L556.64,266.55 L557.17,266.69 L557.69,266.83 L558.21,266.97 L558.73,267.11 L559.25,267.26 L559.77,267.40 L560.30,267.54 L560.82,267.68 L561.34,267.82 L561.86,267.96 L562.38,268.10 L562.90,268.24 L563.43,268.38 L563.95,268.52 L564.47,268.66 L564.99,268.80 L565.51,268.94 L566.03,269.08 L566.56,269.22 L567.08,269.36 L567.60,269.50 L568.12,269.65 L568.64,269.79 L569.16,269.93 L569.69,270.07 L570.21,270.21 L570.73,270.35 L571.25,270.49 L571.77,270.63 L572.29,270.77 L572.82,270.91 L573.34,271.05 L573.86,271.19 L574.38,271.33 L574.90,271.47 L575.42,271.61 L575.95,271.75 L576.47,271.89 L576.99,272.04 L577.51,272.18 L578.03,272.32 L578.55,272.46 L579.08,272.60 L579.60,272.74 L580.12,272.88 L580.64,273.02 L581.16,273.16 L581.68,273.30 L582.21,273.44 L582.73,273.58 L583.25,273.72 L583.77,273.86 L584.29,274.00 L584.81,274.14 L585.34,274.28 L585.86,274.43 L586.38,274.57 L586.90,274.71 L587.42,274.85 L587.94,274.99 L588.46,275.13 L588.99,275.27 L589.51,275.41 L590.03,275.55 L590.55,275.69 L591.07,275.83 L591.59,275.97 L592.12,276.11 L592.64,276.25 L593.16,276.39 L593.68,276.53 L594.20,276.67 L594.72,276.81 L595.25,276.96 L595.77,277.10 L596.29,277.24 L596.81,277.38 L597.33,277.52 L597.85,277.66 L598.38,277.80 L598.90,277.94 L599.42,278.08 L599.94,278.22 L600.46,278.36 L600.98,278.50 L601.51,278.64 L602.03,278.78 L602.55,278.92 L603.07,279.06 L603.59,279.20 L604.11,279.35 L604.64,279.49 L605.16,279.63 M450.26,235.44 L450.79,235.58 L451.31,235.72 L451.83,235.86 L452.35,236.00 L452.87,236.15 L453.40,236.29 L453.92,236.43 L454.44,236.57 L454.96,236.71 L455.48,236.85 L456.00,236.99 L456.53,237.13 L457.05,237.27 L457.57,237.41 L458.09,237.55 L458.61,237.69 L459.13,237.83 L459.66,237.97 L460.18,238.11 L460.70,238.25 L461.22,238.39 L461.74,238.53 L462.27,238.68 L462.79,238.82 L463.31,238.96 L463.83,239.10 L464.35,239.24 L464.87,239.38 L465.40,239.52 L465.92,239.66 L466.44,239.80 L466.96,239.94 L467.48,240.08 L468.00,240.22 L468.53,240.36 L469.05,240.50 L469.57,240.64 L470.09,240.78 L470.61,240.92 L471.14,241.07 L471.66,241.21 L472.18,241.35 L472.70,241.49 L473.22,241.63 L473.74,241.77 L474.27,241.91 L474.79,242.05 L475.31,242.19 L475.83,242.33 L476.35,242.47 L476.87,242.61 L477.40,242.75 L477.92,242.89 L478.44,243.03 L478.96,243.17 L479.48,243.31 L480.01,243.45 L480.53,243.60 L481.05,243.74 L481.57,243.88 L482.09,244.02 L482.61,244.16 L483.14,244.30 L483.66,244.44 L484.18,244.58 L484.70,244.72 L485.22,244.86 L485.74,245.00 L486.27,245.14 L486.79,245.28 L487.31,245.42 L487.83,245.56 L488.35,245.70 L488.88,245.84 L489.40,245.99 L489.92,246.13 L490.44,246.27 L490.96,246.41 L491.48,246.55 L492.01,246.69 L492.53,246.83 L493.05,246.97 L493.57,247.11 L494.09,247.25 L494.61,247.39 L495.14,247.53 L495.66,247.67 L496.18,247.81 L496.70,247.95 L497.22,248.09 L497.75,248.23 L498.27,248.37 L498.79,248.52 L499.31,248.66 L499.83,248.80 L500.35,248.94 L500.88,249.08 L501.40,249.22 L501.92,249.36 L502.44,249.50 L502.96,249.64 L503.49,249.78 L504.01,249.92 L504.53,250.06 L505.05,250.20 L505.57,250.34 L506.09,250.48 L506.62,250.62 L507.14,250.76 L507.66,250.90 L508.18,251.05 L508.70,251.19 L509.22,251.33 L509.75,251.47 L510.27,251.61 L510.79,251.75 L511.31,251.89 L511.83,252.03 L512.36,252.17 L512.88,252.31 L513.40,252.45 L513.92,252.59 L514.44,252.73 L514.96,252.87 L515.49,253.01 L516.01,253.15 L516.53,253.29 L517.05,253.44 L517.57,253.58 L518.09,253.72 L518.62,253.86 L519.14,254.00 L519.66,254.14 L520.18,254.28 L520.70,254.42 L521.23,254.56 L521.75,254.69 L522.27,254.83 L522.79,254.96 L523.31,255.10 L523.83,255.23 L524.36,255.36 L524.88,255.50 L525.40,255.64 L525.92,255.78 L526.44,255.92 L526.96,256.07 L527.49,256.22 L528.01,256.37 L528.53,256.52 L529.05,256.66 L529.57,256.80 L530.10,256.95 L530.62,257.09 L531.14,257.23 L531.66,257.37 L532.18,257.51 L532.70,257.65 L533.23,257.79 L533.75,257.93 L534.27,258.07 L534.79,258.21 L535.31,258.36 L535.83,258.50 L536.36,258.64 L536.88,258.78 L537.40,258.92 L537.92,259.06 L538.44,259.20 L538.97,259.34 L539.49,259.48 L540.01,259.62 L540.53,259.76 L541.05,259.90 L541.57,260.04 L542.10,260.18 L542.62,260.32 L543.14,260.46 L543.66,260.60 L544.18,260.74 L544.70,260.89 L545.23,261.03 L545.75,261.17 L546.27,261.31 L546.79,261.45 L547.31,261.59 L547.84,261.73 L548.36,261.87 L548.88,262.01 L549.40,262.15 L549.92,262.29 L550.44,262.43 L550.97,262.57 L551.49,262.71 L552.01,262.85 L552.53,262.99 L553.05,263.13 L553.57,263.28 L554.10,263.42 L554.62,263.56 L555.14,263.70 L555.66,263.84 L556.18,263.98 L556.71,264.12 L557.23,264.26 L557.75,264.40 L558.27,264.54 L558.79,264.68 L559.31,264.82 L559.84,264.96 L560.36,265.10 L560.88,265.24 L561.40,265.38 L561.92,265.52 L562.45,265.66 L562.97,265.81 L563.49,265.95 L564.01,266.09 L564.53,266.23 L565.05,266.37 L565.58,266.51 L566.10,266.65 L566.62,266.79 L567.14,266.93 L567.66,267.07 L568.18,267.21 L568.71,267.35 L569.23,267.49 L569.75,267.63 L570.27,267.77 L570.79,267.91 L571.32,268.05 L571.84,268.20 L572.36,268.34 L572.88,268.48 L573.40,268.62 L573.92,268.76 L574.45,268.90 L574.97,269.04 L575.49,269.18 L576.01,269.32 L576.53,269.46 L577.05,269.60 L577.58,269.74 L578.10,269.88 L578.62,270.02 L579.14,270.16 L579.66,270.30 L580.19,270.44 L580.71,270.58 L581.23,270.73 L581.75,270.87 L582.27,271.01 L582.79,271.15 L583.32,271.29 L583.84,271.43 L584.36,271.57 L584.88,271.71 L585.40,271.85 L585.92,271.99 L586.45,272.13 L586.97,272.27 L587.49,272.41 L588.01,272.55 L588.53,272.69 L589.06,272.83 L589.58,272.97 L590.10,273.12 L590.62,273.26 L591.14,273.40 L591.66,273.54 L592.19,273.68 L592.71,273.82 L593.23,273.96 L593.75,274.10 L594.27,274.24 L594.79,274.38 L595.32,274.52 L595.84,274.66 L596.36,274.80 L596.88,274.94 L597.40,275.08 L597.93,275.22 L598.45,275.36 L598.97,275.50 L599.49,275.65 L600.01,275.79 L600.53,275.93 L601.06,276.07 L601.58,276.21 L602.10,276.35 L602.62,276.49 L603.14,276.63 L603.66,276.77 L604.19,276.91 L604.71,277.05 L605.23,277.19 L605.75,277.33 L606.27,277.47 L606.80,277.61 M451.87,233.43 L452.39,233.57 L452.91,233.71 L453.43,233.86 L453.95,234.00 L454.48,234.14 L455.00,234.28 L455.52,234.42 L456.04,234.56 L456.56,234.70 L457.09,234.84 L457.61,234.98 L458.13,235.12 L458.65,235.26 L459.17,235.40 L459.69,235.54 L460.22,235.68 L460.74,235.82 L461.26,235.96 L461.78,236.10 L462.30,236.24 L462.83,236.39 L463.35,236.53 L463.87,236.67 L464.39,236.81 L464.91,236.95 L465.44,237.09 L465.96,237.23 L466.48,237.37 L467.00,237.51 L467.52,237.65 L468.05,237.79 L468.57,237.93 L469.09,238.07 L469.61,238.21 L470.13,238.35 L470.65,238.49 L471.18,238.63 L471.70,238.77 L472.22,238.92 L472.74,239.06 L473.26,239.20 L473.79,239.34 L474.31,239.48 L474.83,239.62 L475.35,239.76 L475.87,239.90 L476.40,240.04 L476.92,240.18 L477.44,240.32 L477.96,240.46 L478.48,240.60 L479.00,240.74 L479.53,240.88 L480.05,241.02 L480.57,241.16 L481.09,241.30 L481.61,241.44 L482.14,241.59 L482.66,241.73 L483.18,241.87 L483.70,242.01 L484.22,242.15 L484.75,242.29 L485.27,242.43 L485.79,242.57 L486.31,242.71 L486.83,242.85 L487.36,242.99 L487.88,243.13 L488.40,243.27 L488.92,243.41 L489.44,243.55 L489.96,243.69 L490.49,243.83 L491.01,243.98 L491.53,244.12 L492.05,244.26 L492.57,244.40 L493.10,244.54 L493.62,244.68 L494.14,244.82 L494.66,244.96 L495.18,245.10 L495.71,245.24 L496.23,245.38 L496.75,245.52 L497.27,245.66 L497.79,245.80 L498.31,245.94 L498.84,246.08 L499.36,246.22 L499.88,246.36 L500.40,246.50 L500.92,246.65 L501.45,246.79 L501.97,246.93 L502.49,247.07 L503.01,247.21 L503.53,247.35 L504.06,247.49 L504.58,247.63 L505.10,247.77 L505.62,247.91 L506.14,248.05 L506.66,248.19 L507.19,248.33 L507.71,248.47 L508.23,248.61 L508.75,248.75 L509.27,248.89 L509.80,249.04 L510.32,249.18 L510.84,249.32 L511.36,249.46 L511.88,249.60 L512.41,249.74 L512.93,249.88 L513.45,250.02 L513.97,250.16 L514.49,250.30 L515.02,250.44 L515.54,250.58 L516.06,250.72 L516.58,250.86 L517.10,251.00 L517.62,251.14 L518.15,251.28 L518.67,251.42 L519.19,251.56 L519.71,251.71 L520.23,251.85 L520.76,251.99 L521.28,252.13 L521.80,252.27 L522.32,252.41 L522.84,252.55 L523.37,252.68 L523.89,252.82 L524.41,252.96 L524.93,253.09 L525.45,253.23 L525.97,253.36 L526.50,253.50 L527.02,253.64 L527.54,253.78 L528.06,253.92 L528.58,254.07 L529.11,254.22 L529.63,254.36 L530.15,254.51 L530.67,254.65 L531.19,254.79 L531.72,254.94 L532.24,255.08 L532.76,255.22 L533.28,255.36 L533.80,255.50 L534.33,255.64 L534.85,255.78 L535.37,255.92 L535.89,256.06 L536.41,256.20 L536.93,256.34 L537.46,256.48 L537.98,256.62 L538.50,256.77 L539.02,256.91 L539.54,257.05 L540.07,257.19 L540.59,257.33 L541.11,257.47 L541.63,257.61 L542.15,257.75 L542.68,257.89 L543.20,258.03 L543.72,258.17 L544.24,258.31 L544.76,258.45 L545.28,258.59 L545.81,258.73 L546.33,258.87 L546.85,259.01 L547.37,259.15 L547.89,259.30 L548.42,259.44 L548.94,259.58 L549.46,259.72 L549.98,259.86 L550.50,260.00 L551.03,260.14 L551.55,260.28 L552.07,260.42 L552.59,260.56 L553.11,260.70 L553.63,260.84 L554.16,260.98 L554.68,261.12 L555.20,261.26 L555.72,261.40 L556.24,261.54 L556.77,261.69 L557.29,261.83 L557.81,261.97 L558.33,262.11 L558.85,262.25 L559.38,262.39 L559.90,262.53 L560.42,262.67 L560.94,262.81 L561.46,262.95 L561.99,263.09 L562.51,263.23 L563.03,263.37 L563.55,263.51 L564.07,263.65 L564.59,263.79 L565.12,263.93 L565.64,264.07 L566.16,264.22 L566.68,264.36 L567.20,264.50 L567.73,264.64 L568.25,264.78 L568.77,264.92 L569.29,265.06 L569.81,265.20 L570.34,265.34 L570.86,265.48 L571.38,265.62 L571.90,265.76 L572.42,265.90 L572.94,266.04 L573.47,266.18 L573.99,266.32 L574.51,266.46 L575.03,266.60 L575.55,266.75 L576.08,266.89 L576.60,267.03 L577.12,267.17 L577.64,267.31 L578.16,267.45 L578.69,267.59 L579.21,267.73 L579.73,267.87 L580.25,268.01 L580.77,268.15 L581.30,268.29 L581.82,268.43 L582.34,268.57 L582.86,268.71 L583.38,268.85 L583.90,268.99 L584.43,269.13 L584.95,269.27 L585.47,269.42 L585.99,269.56 L586.51,269.70 L587.04,269.84 L587.56,269.98 L588.08,270.12 L588.60,270.26 L589.12,270.40 L589.65,270.54 L590.17,270.68 L590.69,270.82 L591.21,270.96 L591.73,271.10 L592.25,271.24 L592.78,271.38 L593.30,271.52 L593.82,271.66 L594.34,271.81 L594.86,271.95 L595.39,272.09 L595.91,272.23 L596.43,272.37 L596.95,272.51 L597.47,272.65 L598.00,272.79 L598.52,272.93 L599.04,273.07 L599.56,273.21 L600.08,273.35 L600.61,273.49 L601.13,273.63 L601.65,273.77 L602.17,273.91 L602.69,274.05 L603.21,274.19 L603.74,274.33 L604.26,274.48 L604.78,274.62 L605.30,274.76 L605.82,274.90 L606.35,275.04 L606.87,275.18 L607.39,275.32 L607.91,275.46 L608.43,275.60 M453.47,231.42 L453.99,231.56 L454.51,231.71 L455.03,231.85 L455.56,231.99 L456.08,232.13 L456.60,232.27 L457.12,232.41 L457.64,232.55 L458.17,232.69 L458.69,232.83 L459.21,232.97 L459.73,233.11 L460.25,233.25 L460.78,233.39 L461.30,233.53 L461.82,233.67 L462.34,233.81 L462.87,233.95 L463.39,234.09 L463.91,234.24 L464.43,234.38 L464.95,234.52 L465.48,234.66 L466.00,234.80 L466.52,234.94 L467.04,235.08 L467.56,235.22 L468.09,235.36 L468.61,235.50 L469.13,235.64 L469.65,235.78 L470.17,235.92 L470.70,236.06 L471.22,236.20 L471.74,236.34 L472.26,236.48 L472.78,236.62 L473.31,236.76 L473.83,236.91 L474.35,237.05 L474.87,237.19 L475.39,237.33 L475.92,237.47 L476.44,237.61 L476.96,237.75 L477.48,237.89 L478.00,238.03 L478.53,238.17 L479.05,238.31 L479.57,238.45 L480.09,238.59 L480.61,238.73 L481.14,238.87 L481.66,239.01 L482.18,239.15 L482.70,239.29 L483.22,239.44 L483.75,239.58 L484.27,239.72 L484.79,239.86 L485.31,240.00 L485.83,240.14 L486.36,240.28 L486.88,240.42 L487.40,240.56 L487.92,240.70 L488.44,240.84 L488.97,240.98 L489.49,241.12 L490.01,241.26 L490.53,241.40 L491.05,241.54 L491.58,241.68 L492.10,241.82 L492.62,241.97 L493.14,242.11 L493.66,242.25 L494.19,242.39 L494.71,242.53 L495.23,242.67 L495.75,242.81 L496.27,242.95 L496.80,243.09 L497.32,243.23 L497.84,243.37 L498.36,243.51 L498.88,243.65 L499.41,243.79 L499.93,243.93 L500.45,244.07 L500.97,244.21 L501.49,244.35 L502.02,244.49 L502.54,244.64 L503.06,244.78 L503.58,244.92 L504.10,245.06 L504.63,245.20 L505.15,245.34 L505.67,245.48 L506.19,245.62 L506.71,245.76 L507.24,245.90 L507.76,246.04 L508.28,246.18 L508.80,246.32 L509.32,246.46 L509.85,246.60 L510.37,246.74 L510.89,246.88 L511.41,247.02 L511.93,247.17 L512.46,247.31 L512.98,247.45 L513.50,247.59 L514.02,247.73 L514.54,247.87 L515.07,248.01 L515.59,248.15 L516.11,248.29 L516.63,248.43 L517.15,248.57 L517.68,248.71 L518.20,248.85 L518.72,248.99 L519.24,249.13 L519.76,249.27 L520.29,249.41 L520.81,249.55 L521.33,249.69 L521.85,249.84 L522.37,249.98 L522.90,250.12 L523.42,250.26 L523.94,250.40 L524.46,250.54 L524.98,250.67 L525.51,250.81 L526.03,250.95 L526.55,251.08 L527.07,251.22 L527.59,251.36 L528.12,251.49 L528.64,251.63 L529.16,251.78 L529.68,251.92 L530.20,252.06 L530.73,252.21 L531.25,252.35 L531.77,252.50 L532.29,252.64 L532.81,252.78 L533.34,252.93 L533.86,253.07 L534.38,253.21 L534.90,253.35 L535.42,253.49 L535.95,253.63 L536.47,253.77 L536.99,253.91 L537.51,254.05 L538.03,254.19 L538.56,254.33 L539.08,254.47 L539.60,254.61 L540.12,254.75 L540.64,254.89 L541.17,255.04 L541.69,255.18 L542.21,255.32 L542.73,255.46 L543.25,255.60 L543.78,255.74 L544.30,255.88 L544.82,256.02 L545.34,256.16 L545.86,256.30 L546.39,256.44 L546.91,256.58 L547.43,256.72 L547.95,256.86 L548.47,257.00 L549.00,257.14 L549.52,257.28 L550.04,257.42 L550.56,257.57 L551.08,257.71 L551.61,257.85 L552.13,257.99 L552.65,258.13 L553.17,258.27 L553.69,258.41 L554.22,258.55 L554.74,258.69 L555.26,258.83 L555.78,258.97 L556.30,259.11 L556.83,259.25 L557.35,259.39 L557.87,259.53 L558.39,259.67 L558.91,259.81 L559.44,259.95 L559.96,260.09 L560.48,260.24 L561.00,260.38 L561.52,260.52 L562.05,260.66 L562.57,260.80 L563.09,260.94 L563.61,261.08 L564.13,261.22 L564.66,261.36 L565.18,261.50 L565.70,261.64 L566.22,261.78 L566.74,261.92 L567.27,262.06 L567.79,262.20 L568.31,262.34 L568.83,262.48 L569.35,262.62 L569.88,262.77 L570.40,262.91 L570.92,263.05 L571.44,263.19 L571.96,263.33 L572.49,263.47 L573.01,263.61 L573.53,263.75 L574.05,263.89 L574.57,264.03 L575.10,264.17 L575.62,264.31 L576.14,264.45 L576.66,264.59 L577.18,264.73 L577.71,264.87 L578.23,265.01 L578.75,265.15 L579.27,265.29 L579.79,265.44 L580.32,265.58 L580.84,265.72 L581.36,265.86 L581.88,266.00 L582.40,266.14 L582.93,266.28 L583.45,266.42 L583.97,266.56 L584.49,266.70 L585.01,266.84 L585.54,266.98 L586.06,267.12 L586.58,267.26 L587.10,267.40 L587.62,267.54 L588.15,267.68 L588.67,267.82 L589.19,267.97 L589.71,268.11 L590.23,268.25 L590.76,268.39 L591.28,268.53 L591.80,268.67 L592.32,268.81 L592.84,268.95 L593.37,269.09 L593.89,269.23 L594.41,269.37 L594.93,269.51 L595.45,269.65 L595.98,269.79 L596.50,269.93 L597.02,270.07 L597.54,270.21 L598.06,270.35 L598.59,270.49 L599.11,270.64 L599.63,270.78 L600.15,270.92 L600.67,271.06 L601.20,271.20 L601.72,271.34 L602.24,271.48 L602.76,271.62 L603.29,271.76 L603.81,271.90 L604.33,272.04 L604.85,272.18 L605.37,272.32 L605.90,272.46 L606.42,272.60 L606.94,272.74 L607.46,272.88 L607.98,273.02 L608.51,273.17 L609.03,273.31 L609.55,273.45 L610.07,273.59 M455.07,229.42 L455.59,229.56 L456.12,229.70 L456.64,229.84 L457.16,229.98 L457.68,230.12 L458.20,230.26 L458.73,230.40 L459.25,230.54 L459.77,230.68 L460.29,230.82 L460.81,230.96 L461.34,231.10 L461.86,231.24 L462.38,231.38 L462.90,231.52 L463.43,231.66 L463.95,231.80 L464.47,231.95 L464.99,232.09 L465.51,232.23 L466.04,232.37 L466.56,232.51 L467.08,232.65 L467.60,232.79 L468.12,232.93 L468.65,233.07 L469.17,233.21 L469.69,233.35 L470.21,233.49 L470.73,233.63 L471.26,233.77 L471.78,233.91 L472.30,234.05 L472.82,234.19 L473.35,234.33 L473.87,234.47 L474.39,234.62 L474.91,234.76 L475.43,234.90 L475.96,235.04 L476.48,235.18 L477.00,235.32 L477.52,235.46 L478.04,235.60 L478.57,235.74 L479.09,235.88 L479.61,236.02 L480.13,236.16 L480.66,236.30 L481.18,236.44 L481.70,236.58 L482.22,236.72 L482.74,236.86 L483.27,237.00 L483.79,237.14 L484.31,237.29 L484.83,237.43 L485.35,237.57 L485.88,237.71 L486.40,237.85 L486.92,237.99 L487.44,238.13 L487.97,238.27 L488.49,238.41 L489.01,238.55 L489.53,238.69 L490.05,238.83 L490.58,238.97 L491.10,239.11 L491.62,239.25 L492.14,239.39 L492.66,239.53 L493.19,239.67 L493.71,239.81 L494.23,239.95 L494.75,240.10 L495.27,240.24 L495.80,240.38 L496.32,240.52 L496.84,240.66 L497.36,240.80 L497.89,240.94 L498.41,241.08 L498.93,241.22 L499.45,241.36 L499.97,241.50 L500.50,241.64 L501.02,241.78 L501.54,241.92 L502.06,242.06 L502.58,242.20 L503.11,242.34 L503.63,242.48 L504.15,242.62 L504.67,242.77 L505.20,242.91 L505.72,243.05 L506.24,243.19 L506.76,243.33 L507.28,243.47 L507.81,243.61 L508.33,243.75 L508.85,243.89 L509.37,244.03 L509.89,244.17 L510.42,244.31 L510.94,244.45 L511.46,244.59 L511.98,244.73 L512.50,244.87 L513.03,245.01 L513.55,245.15 L514.07,245.29 L514.59,245.44 L515.12,245.58 L515.64,245.72 L516.16,245.86 L516.68,246.00 L517.20,246.14 L517.73,246.28 L518.25,246.42 L518.77,246.56 L519.29,246.70 L519.81,246.84 L520.34,246.98 L520.86,247.12 L521.38,247.26 L521.90,247.40 L522.43,247.54 L522.95,247.68 L523.47,247.82 L523.99,247.96 L524.51,248.11 L525.04,248.25 L525.56,248.39 L526.08,248.53 L526.60,248.66 L527.12,248.80 L527.65,248.94 L528.17,249.08 L528.69,249.21 L529.21,249.35 L529.74,249.49 L530.26,249.63 L530.78,249.77 L531.30,249.91 L531.82,250.06 L532.35,250.20 L532.87,250.35 L533.39,250.49 L533.91,250.63 L534.43,250.77 L534.96,250.92 L535.48,251.06 L536.00,251.20 L536.52,251.34 L537.04,251.48 L537.57,251.62 L538.09,251.76 L538.61,251.90 L539.13,252.04 L539.66,252.18 L540.18,252.32 L540.70,252.46 L541.22,252.60 L541.74,252.74 L542.27,252.88 L542.79,253.02 L543.31,253.16 L543.83,253.30 L544.35,253.45 L544.88,253.59 L545.40,253.73 L545.92,253.87 L546.44,254.01 L546.97,254.15 L547.49,254.29 L548.01,254.43 L548.53,254.57 L549.05,254.71 L549.58,254.85 L550.10,254.99 L550.62,255.13 L551.14,255.27 L551.66,255.41 L552.19,255.55 L552.71,255.69 L553.23,255.83 L553.75,255.97 L554.28,256.12 L554.80,256.26 L555.32,256.40 L555.84,256.54 L556.36,256.68 L556.89,256.82 L557.41,256.96 L557.93,257.10 L558.45,257.24 L558.97,257.38 L559.50,257.52 L560.02,257.66 L560.54,257.80 L561.06,257.94 L561.58,258.08 L562.11,258.22 L562.63,258.36 L563.15,258.50 L563.67,258.64 L564.20,258.79 L564.72,258.93 L565.24,259.07 L565.76,259.21 L566.28,259.35 L566.81,259.49 L567.33,259.63 L567.85,259.77 L568.37,259.91 L568.89,260.05 L569.42,260.19 L569.94,260.33 L570.46,260.47 L570.98,260.61 L571.51,260.75 L572.03,260.89 L572.55,261.03 L573.07,261.17 L573.59,261.31 L574.12,261.46 L574.64,261.60 L575.16,261.74 L575.68,261.88 L576.20,262.02 L576.73,262.16 L577.25,262.30 L577.77,262.44 L578.29,262.58 L578.81,262.72 L579.34,262.86 L579.86,263.00 L580.38,263.14 L580.90,263.28 L581.43,263.42 L581.95,263.56 L582.47,263.70 L582.99,263.84 L583.51,263.98 L584.04,264.13 L584.56,264.27 L585.08,264.41 L585.60,264.55 L586.12,264.69 L586.65,264.83 L587.17,264.97 L587.69,265.11 L588.21,265.25 L588.74,265.39 L589.26,265.53 L589.78,265.67 L590.30,265.81 L590.82,265.95 L591.35,266.09 L591.87,266.23 L592.39,266.37 L592.91,266.51 L593.43,266.65 L593.96,266.80 L594.48,266.94 L595.00,267.08 L595.52,267.22 L596.05,267.36 L596.57,267.50 L597.09,267.64 L597.61,267.78 L598.13,267.92 L598.66,268.06 L599.18,268.20 L599.70,268.34 L600.22,268.48 L600.74,268.62 L601.27,268.76 L601.79,268.90 L602.31,269.04 L602.83,269.18 L603.35,269.32 L603.88,269.47 L604.40,269.61 L604.92,269.75 L605.44,269.89 L605.97,270.03 L606.49,270.17 L607.01,270.31 L607.53,270.45 L608.05,270.59 L608.58,270.73 L609.10,270.87 L609.62,271.01 L610.14,271.15 L610.66,271.29 L611.19,271.43 L611.71,271.57 M456.67,227.41 L457.20,227.55 L457.72,227.69 L458.24,227.83 L458.76,227.97 L459.28,228.11 L459.81,228.25 L460.33,228.39 L460.85,228.53 L461.37,228.67 L461.90,228.81 L462.42,228.95 L462.94,229.09 L463.46,229.23 L463.98,229.37 L464.51,229.51 L465.03,229.65 L465.55,229.80 L466.07,229.94 L466.60,230.08 L467.12,230.22 L467.64,230.36 L468.16,230.50 L468.68,230.64 L469.21,230.78 L469.73,230.92 L470.25,231.06 L470.77,231.20 L471.30,231.34 L471.82,231.48 L472.34,231.62 L472.86,231.76 L473.39,231.90 L473.91,232.04 L474.43,232.18 L474.95,232.32 L475.47,232.47 L476.00,232.61 L476.52,232.75 L477.04,232.89 L477.56,233.03 L478.09,233.17 L478.61,233.31 L479.13,233.45 L479.65,233.59 L480.17,233.73 L480.70,233.87 L481.22,234.01 L481.74,234.15 L482.26,234.29 L482.79,234.43 L483.31,234.57 L483.83,234.71 L484.35,234.85 L484.87,234.99 L485.40,235.13 L485.92,235.28 L486.44,235.42 L486.96,235.56 L487.49,235.70 L488.01,235.84 L488.53,235.98 L489.05,236.12 L489.57,236.26 L490.10,236.40 L490.62,236.54 L491.14,236.68 L491.66,236.82 L492.19,236.96 L492.71,237.10 L493.23,237.24 L493.75,237.38 L494.27,237.52 L494.80,237.66 L495.32,237.80 L495.84,237.94 L496.36,238.09 L496.89,238.23 L497.41,238.37 L497.93,238.51 L498.45,238.65 L498.98,238.79 L499.50,238.93 L500.02,239.07 L500.54,239.21 L501.06,239.35 L501.59,239.49 L502.11,239.63 L502.63,239.77 L503.15,239.91 L503.68,240.05 L504.20,240.19 L504.72,240.33 L505.24,240.47 L505.76,240.61 L506.29,240.76 L506.81,240.90 L507.33,241.04 L507.85,241.18 L508.38,241.32 L508.90,241.46 L509.42,241.60 L509.94,241.74 L510.46,241.88 L510.99,242.02 L511.51,242.16 L512.03,242.30 L512.55,242.44 L513.08,242.58 L513.60,242.72 L514.12,242.86 L514.64,243.00 L515.16,243.14 L515.69,243.28 L516.21,243.42 L516.73,243.57 L517.25,243.71 L517.78,243.85 L518.30,243.99 L518.82,244.13 L519.34,244.27 L519.86,244.41 L520.39,244.55 L520.91,244.69 L521.43,244.83 L521.95,244.97 L522.48,245.11 L523.00,245.25 L523.52,245.39 L524.04,245.53 L524.57,245.67 L525.09,245.81 L525.61,245.95 L526.13,246.09 L526.65,246.23 L527.18,246.37 L527.70,246.51 L528.22,246.65 L528.74,246.79 L529.27,246.93 L529.79,247.07 L530.31,247.21 L530.83,247.34 L531.35,247.48 L531.88,247.62 L532.40,247.76 L532.92,247.91 L533.44,248.05 L533.97,248.19 L534.49,248.34 L535.01,248.48 L535.53,248.62 L536.05,248.76 L536.58,248.90 L537.10,249.05 L537.62,249.19 L538.14,249.33 L538.67,249.47 L539.19,249.61 L539.71,249.75 L540.23,249.89 L540.75,250.03 L541.28,250.17 L541.80,250.31 L542.32,250.45 L542.84,250.59 L543.37,250.73 L543.89,250.87 L544.41,251.01 L544.93,251.15 L545.45,251.29 L545.98,251.43 L546.50,251.57 L547.02,251.72 L547.54,251.86 L548.07,252.00 L548.59,252.14 L549.11,252.28 L549.63,252.42 L550.16,252.56 L550.68,252.70 L551.20,252.84 L551.72,252.98 L552.24,253.12 L552.77,253.26 L553.29,253.40 L553.81,253.54 L554.33,253.68 L554.86,253.82 L555.38,253.96 L555.90,254.10 L556.42,254.24 L556.94,254.38 L557.47,254.53 L557.99,254.67 L558.51,254.81 L559.03,254.95 L559.56,255.09 L560.08,255.23 L560.60,255.37 L561.12,255.51 L561.64,255.65 L562.17,255.79 L562.69,255.93 L563.21,256.07 L563.73,256.21 L564.26,256.35 L564.78,256.49 L565.30,256.63 L565.82,256.77 L566.34,256.91 L566.87,257.05 L567.39,257.20 L567.91,257.34 L568.43,257.48 L568.96,257.62 L569.48,257.76 L570.00,257.90 L570.52,258.04 L571.04,258.18 L571.57,258.32 L572.09,258.46 L572.61,258.60 L573.13,258.74 L573.66,258.88 L574.18,259.02 L574.70,259.16 L575.22,259.30 L575.75,259.44 L576.27,259.58 L576.79,259.72 L577.31,259.86 L577.83,260.01 L578.36,260.15 L578.88,260.29 L579.40,260.43 L579.92,260.57 L580.45,260.71 L580.97,260.85 L581.49,260.99 L582.01,261.13 L582.53,261.27 L583.06,261.41 L583.58,261.55 L584.10,261.69 L584.62,261.83 L585.15,261.97 L585.67,262.11 L586.19,262.25 L586.71,262.39 L587.23,262.53 L587.76,262.67 L588.28,262.82 L588.80,262.96 L589.32,263.10 L589.85,263.24 L590.37,263.38 L590.89,263.52 L591.41,263.66 L591.93,263.80 L592.46,263.94 L592.98,264.08 L593.50,264.22 L594.02,264.36 L594.55,264.50 L595.07,264.64 L595.59,264.78 L596.11,264.92 L596.63,265.06 L597.16,265.20 L597.68,265.34 L598.20,265.49 L598.72,265.63 L599.25,265.77 L599.77,265.91 L600.29,266.05 L600.81,266.19 L601.34,266.33 L601.86,266.47 L602.38,266.61 L602.90,266.75 L603.42,266.89 L603.95,267.03 L604.47,267.17 L604.99,267.31 L605.51,267.45 L606.04,267.59 L606.56,267.73 L607.08,267.87 L607.60,268.01 L608.12,268.15 L608.65,268.30 L609.17,268.44 L609.69,268.58 L610.21,268.72 L610.74,268.86 L611.26,269.00 L611.78,269.14 L612.30,269.28 L612.82,269.42 L613.35,269.56 M458.28,225.40 L458.80,225.54 L459.32,225.68 L459.84,225.82 L460.37,225.96 L460.89,226.10 L461.41,226.24 L461.93,226.38 L462.45,226.52 L462.98,226.66 L463.50,226.80 L464.02,226.94 L464.54,227.08 L465.07,227.22 L465.59,227.36 L466.11,227.51 L466.63,227.65 L467.16,227.79 L467.68,227.93 L468.20,228.07 L468.72,228.21 L469.25,228.35 L469.77,228.49 L470.29,228.63 L470.81,228.77 L471.33,228.91 L471.86,229.05 L472.38,229.19 L472.90,229.33 L473.42,229.47 L473.95,229.61 L474.47,229.75 L474.99,229.89 L475.51,230.03 L476.04,230.17 L476.56,230.32 L477.08,230.46 L477.60,230.60 L478.13,230.74 L478.65,230.88 L479.17,231.02 L479.69,231.16 L480.21,231.30 L480.74,231.44 L481.26,231.58 L481.78,231.72 L482.30,231.86 L482.83,232.00 L483.35,232.14 L483.87,232.28 L484.39,232.42 L484.92,232.56 L485.44,232.70 L485.96,232.84 L486.48,232.98 L487.01,233.13 L487.53,233.27 L488.05,233.41 L488.57,233.55 L489.09,233.69 L489.62,233.83 L490.14,233.97 L490.66,234.11 L491.18,234.25 L491.71,234.39 L492.23,234.53 L492.75,234.67 L493.27,234.81 L493.80,234.95 L494.32,235.09 L494.84,235.23 L495.36,235.37 L495.89,235.51 L496.41,235.65 L496.93,235.79 L497.45,235.94 L497.98,236.08 L498.50,236.22 L499.02,236.36 L499.54,236.50 L500.06,236.64 L500.59,236.78 L501.11,236.92 L501.63,237.06 L502.15,237.20 L502.68,237.34 L503.20,237.48 L503.72,237.62 L504.24,237.76 L504.77,237.90 L505.29,238.04 L505.81,238.18 L506.33,238.32 L506.86,238.46 L507.38,238.60 L507.90,238.74 L508.42,238.89 L508.94,239.03 L509.47,239.17 L509.99,239.31 L510.51,239.45 L511.03,239.59 L511.56,239.73 L512.08,239.87 L512.60,240.01 L513.12,240.15 L513.65,240.29 L514.17,240.43 L514.69,240.57 L515.21,240.71 L515.74,240.85 L516.26,240.99 L516.78,241.13 L517.30,241.27 L517.82,241.41 L518.35,241.55 L518.87,241.70 L519.39,241.84 L519.91,241.98 L520.44,242.12 L520.96,242.26 L521.48,242.40 L522.00,242.54 L522.53,242.68 L523.05,242.82 L523.57,242.96 L524.09,243.10 L524.62,243.24 L525.14,243.38 L525.66,243.52 L526.18,243.66 L526.71,243.80 L527.23,243.94 L527.75,244.08 L528.27,244.22 L528.79,244.36 L529.32,244.50 L529.84,244.64 L530.36,244.78 L530.88,244.92 L531.41,245.06 L531.93,245.20 L532.45,245.34 L532.97,245.48 L533.50,245.62 L534.02,245.76 L534.54,245.90 L535.06,246.04 L535.59,246.18 L536.11,246.33 L536.63,246.47 L537.15,246.61 L537.67,246.75 L538.20,246.89 L538.72,247.03 L539.24,247.17 L539.76,247.32 L540.29,247.46 L540.81,247.60 L541.33,247.74 L541.85,247.88 L542.38,248.02 L542.90,248.16 L543.42,248.30 L543.94,248.44 L544.47,248.58 L544.99,248.72 L545.51,248.86 L546.03,249.00 L546.55,249.14 L547.08,249.28 L547.60,249.42 L548.12,249.56 L548.64,249.70 L549.17,249.84 L549.69,249.98 L550.21,250.13 L550.73,250.27 L551.26,250.41 L551.78,250.55 L552.30,250.69 L552.82,250.83 L553.35,250.97 L553.87,251.11 L554.39,251.25 L554.91,251.39 L555.44,251.53 L555.96,251.67 L556.48,251.81 L557.00,251.95 L557.52,252.09 L558.05,252.23 L558.57,252.37 L559.09,252.51 L559.61,252.65 L560.14,252.79 L560.66,252.94 L561.18,253.08 L561.70,253.22 L562.23,253.36 L562.75,253.50 L563.27,253.64 L563.79,253.78 L564.32,253.92 L564.84,254.06 L565.36,254.20 L565.88,254.34 L566.40,254.48 L566.93,254.62 L567.45,254.76 L567.97,254.90 L568.49,255.04 L569.02,255.18 L569.54,255.32 L570.06,255.46 L570.58,255.60 L571.11,255.74 L571.63,255.89 L572.15,256.03 L572.67,256.17 L573.20,256.31 L573.72,256.45 L574.24,256.59 L574.76,256.73 L575.28,256.87 L575.81,257.01 L576.33,257.15 L576.85,257.29 L577.37,257.43 L577.90,257.57 L578.42,257.71 L578.94,257.85 L579.46,257.99 L579.99,258.13 L580.51,258.27 L581.03,258.41 L581.55,258.55 L582.08,258.70 L582.60,258.84 L583.12,258.98 L583.64,259.12 L584.17,259.26 L584.69,259.40 L585.21,259.54 L585.73,259.68 L586.25,259.82 L586.78,259.96 L587.30,260.10 L587.82,260.24 L588.34,260.38 L588.87,260.52 L589.39,260.66 L589.91,260.80 L590.43,260.94 L590.96,261.08 L591.48,261.22 L592.00,261.36 L592.52,261.51 L593.05,261.65 L593.57,261.79 L594.09,261.93 L594.61,262.07 L595.13,262.21 L595.66,262.35 L596.18,262.49 L596.70,262.63 L597.22,262.77 L597.75,262.91 L598.27,263.05 L598.79,263.19 L599.31,263.33 L599.84,263.47 L600.36,263.61 L600.88,263.75 L601.40,263.89 L601.93,264.03 L602.45,264.17 L602.97,264.32 L603.49,264.46 L604.01,264.60 L604.54,264.74 L605.06,264.88 L605.58,265.02 L606.10,265.16 L606.63,265.30 L607.15,265.44 L607.67,265.58 L608.19,265.72 L608.72,265.86 L609.24,266.00 L609.76,266.14 L610.28,266.28 L610.81,266.42 L611.33,266.56 L611.85,266.70 L612.37,266.84 L612.89,266.98 L613.42,267.13 L613.94,267.27 L614.46,267.41 L614.98,267.55 M459.88,223.39 L460.40,223.53 L460.92,223.67 L461.45,223.81 L461.97,223.95 L462.49,224.09 L463.01,224.23 L463.54,224.37 L464.06,224.51 L464.58,224.65 L465.10,224.79 L465.63,224.93 L466.15,225.07 L466.67,225.22 L467.19,225.36 L467.71,225.50 L468.24,225.64 L468.76,225.78 L469.28,225.92 L469.80,226.06 L470.33,226.20 L470.85,226.34 L471.37,226.48 L471.89,226.62 L472.42,226.76 L472.94,226.90 L473.46,227.04 L473.98,227.18 L474.51,227.32 L475.03,227.46 L475.55,227.60 L476.07,227.74 L476.60,227.88 L477.12,228.02 L477.64,228.17 L478.16,228.31 L478.69,228.45 L479.21,228.59 L479.73,228.73 L480.25,228.87 L480.78,229.01 L481.30,229.15 L481.82,229.29 L482.34,229.43 L482.87,229.57 L483.39,229.71 L483.91,229.85 L484.43,229.99 L484.96,230.13 L485.48,230.27 L486.00,230.41 L486.52,230.55 L487.05,230.69 L487.57,230.83 L488.09,230.97 L488.61,231.12 L489.14,231.26 L489.66,231.40 L490.18,231.54 L490.70,231.68 L491.23,231.82 L491.75,231.96 L492.27,232.10 L492.79,232.24 L493.32,232.38 L493.84,232.52 L494.36,232.66 L494.88,232.80 L495.41,232.94 L495.93,233.08 L496.45,233.22 L496.97,233.36 L497.50,233.50 L498.02,233.64 L498.54,233.78 L499.06,233.93 L499.59,234.07 L500.11,234.21 L500.63,234.35 L501.15,234.49 L501.68,234.63 L502.20,234.77 L502.72,234.91 L503.24,235.05 L503.77,235.19 L504.29,235.33 L504.81,235.47 L505.33,235.61 L505.86,235.75 L506.38,235.89 L506.90,236.03 L507.42,236.17 L507.95,236.31 L508.47,236.45 L508.99,236.59 L509.51,236.73 L510.04,236.88 L510.56,237.02 L511.08,237.16 L511.60,237.30 L512.13,237.44 L512.65,237.58 L513.17,237.72 L513.69,237.86 L514.22,238.00 L514.74,238.14 L515.26,238.28 L515.78,238.42 L516.31,238.56 L516.83,238.70 L517.35,238.84 L517.87,238.98 L518.40,239.12 L518.92,239.26 L519.44,239.40 L519.96,239.54 L520.49,239.68 L521.01,239.83 L521.53,239.97 L522.05,240.11 L522.58,240.25 L523.10,240.39 L523.62,240.53 L524.14,240.67 L524.67,240.81 L525.19,240.95 L525.71,241.09 L526.23,241.23 L526.76,241.37 L527.28,241.51 L527.80,241.65 L528.32,241.79 L528.85,241.93 L529.37,242.07 L529.89,242.21 L530.41,242.35 L530.94,242.49 L531.46,242.63 L531.98,242.77 L532.50,242.91 L533.03,243.05 L533.55,243.19 L534.07,243.33 L534.59,243.47 L535.12,243.61 L535.64,243.75 L536.16,243.89 L536.68,244.03 L537.21,244.17 L537.73,244.32 L538.25,244.46 L538.77,244.60 L539.29,244.74 L539.82,244.88 L540.34,245.02 L540.86,245.16 L541.38,245.30 L541.91,245.44 L542.43,245.58 L542.95,245.73 L543.47,245.87 L544.00,246.01 L544.52,246.15 L545.04,246.29 L545.56,246.43 L546.09,246.57 L546.61,246.71 L547.13,246.85 L547.65,246.99 L548.18,247.13 L548.70,247.27 L549.22,247.41 L549.74,247.55 L550.27,247.69 L550.79,247.83 L551.31,247.97 L551.83,248.11 L552.36,248.25 L552.88,248.39 L553.40,248.54 L553.92,248.68 L554.45,248.82 L554.97,248.96 L555.49,249.10 L556.01,249.24 L556.54,249.38 L557.06,249.52 L557.58,249.66 L558.10,249.80 L558.63,249.94 L559.15,250.08 L559.67,250.22 L560.19,250.36 L560.72,250.50 L561.24,250.64 L561.76,250.78 L562.28,250.92 L562.81,251.06 L563.33,251.20 L563.85,251.34 L564.37,251.49 L564.90,251.63 L565.42,251.77 L565.94,251.91 L566.46,252.05 L566.99,252.19 L567.51,252.33 L568.03,252.47 L568.55,252.61 L569.08,252.75 L569.60,252.89 L570.12,253.03 L570.64,253.17 L571.17,253.31 L571.69,253.45 L572.21,253.59 L572.73,253.73 L573.26,253.87 L573.78,254.01 L574.30,254.15 L574.82,254.29 L575.35,254.44 L575.87,254.58 L576.39,254.72 L576.91,254.86 L577.44,255.00 L577.96,255.14 L578.48,255.28 L579.00,255.42 L579.53,255.56 L580.05,255.70 L580.57,255.84 L581.09,255.98 L581.62,256.12 L582.14,256.26 L582.66,256.40 L583.18,256.54 L583.71,256.68 L584.23,256.82 L584.75,256.96 L585.27,257.10 L585.80,257.24 L586.32,257.39 L586.84,257.53 L587.36,257.67 L587.89,257.81 L588.41,257.95 L588.93,258.09 L589.45,258.23 L589.98,258.37 L590.50,258.51 L591.02,258.65 L591.54,258.79 L592.07,258.93 L592.59,259.07 L593.11,259.21 L593.63,259.35 L594.16,259.49 L594.68,259.63 L595.20,259.77 L595.72,259.91 L596.25,260.05 L596.77,260.20 L597.29,260.34 L597.81,260.48 L598.34,260.62 L598.86,260.76 L599.38,260.90 L599.90,261.04 L600.43,261.18 L600.95,261.32 L601.47,261.46 L601.99,261.60 L602.52,261.74 L603.04,261.88 L603.56,262.02 L604.08,262.16 L604.61,262.30 L605.13,262.44 L605.65,262.58 L606.17,262.72 L606.70,262.86 L607.22,263.00 L607.74,263.15 L608.26,263.29 L608.78,263.43 L609.31,263.57 L609.83,263.71 L610.35,263.85 L610.87,263.99 L611.40,264.13 L611.92,264.27 L612.44,264.41 L612.96,264.55 L613.49,264.69 L614.01,264.83 L614.53,264.97 L615.05,265.11 L615.58,265.25 L616.10,265.39 L616.62,265.53 M461.48,221.38 L462.00,221.52 L462.53,221.66 L463.05,221.80 L463.57,221.94 L464.09,222.08 L464.62,222.22 L465.14,222.36 L465.66,222.50 L466.18,222.64 L466.71,222.78 L467.23,222.93 L467.75,223.07 L468.27,223.21 L468.80,223.35 L469.32,223.49 L469.84,223.63 L470.36,223.77 L470.89,223.91 L471.41,224.05 L471.93,224.19 L472.45,224.33 L472.98,224.47 L473.50,224.61 L474.02,224.75 L474.55,224.89 L475.07,225.03 L475.59,225.17 L476.11,225.31 L476.64,225.45 L477.16,225.59 L477.68,225.73 L478.20,225.87 L478.73,226.02 L479.25,226.16 L479.77,226.30 L480.29,226.44 L480.82,226.58 L481.34,226.72 L481.86,226.86 L482.38,227.00 L482.91,227.14 L483.43,227.28 L483.95,227.42 L484.47,227.56 L485.00,227.70 L485.52,227.84 L486.04,227.98 L486.56,228.12 L487.09,228.26 L487.61,228.40 L488.13,228.54 L488.66,228.68 L489.18,228.82 L489.70,228.97 L490.22,229.11 L490.75,229.25 L491.27,229.39 L491.79,229.53 L492.31,229.67 L492.84,229.81 L493.36,229.95 L493.88,230.09 L494.40,230.23 L494.93,230.37 L495.45,230.51 L495.97,230.65 L496.49,230.79 L497.02,230.93 L497.54,231.07 L498.06,231.21 L498.58,231.35 L499.11,231.49 L499.63,231.63 L500.15,231.77 L500.67,231.92 L501.20,232.06 L501.72,232.20 L502.24,232.34 L502.77,232.48 L503.29,232.62 L503.81,232.76 L504.33,232.90 L504.86,233.04 L505.38,233.18 L505.90,233.32 L506.42,233.46 L506.95,233.60 L507.47,233.74 L507.99,233.88 L508.51,234.02 L509.04,234.16 L509.56,234.30 L510.08,234.44 L510.60,234.58 L511.13,234.72 L511.65,234.86 L512.17,235.01 L512.69,235.15 L513.22,235.29 L513.74,235.43 L514.26,235.57 L514.79,235.71 L515.31,235.85 L515.83,235.99 L516.35,236.13 L516.88,236.27 L517.40,236.41 L517.92,236.55 L518.44,236.69 L518.97,236.83 L519.49,236.97 L520.01,237.11 L520.53,237.25 L521.06,237.39 L521.58,237.53 L522.10,237.67 L522.62,237.81 L523.15,237.96 L523.67,238.10 L524.19,238.24 L524.71,238.38 L525.24,238.52 L525.76,238.66 L526.28,238.80 L526.81,238.94 L527.33,239.08 L527.85,239.22 L528.37,239.36 L528.90,239.50 L529.42,239.64 L529.94,239.78 L530.46,239.92 L530.99,240.06 L531.51,240.20 L532.03,240.34 L532.55,240.48 L533.08,240.62 L533.60,240.76 L534.12,240.90 L534.64,241.04 L535.17,241.18 L535.69,241.32 L536.21,241.46 L536.73,241.60 L537.26,241.74 L537.78,241.88 L538.30,242.02 L538.82,242.16 L539.35,242.31 L539.87,242.45 L540.39,242.59 L540.92,242.73 L541.44,242.87 L541.96,243.01 L542.48,243.15 L543.01,243.29 L543.53,243.43 L544.05,243.57 L544.57,243.71 L545.10,243.85 L545.62,244.00 L546.14,244.14 L546.66,244.28 L547.19,244.42 L547.71,244.56 L548.23,244.70 L548.75,244.84 L549.28,244.98 L549.80,245.12 L550.32,245.26 L550.84,245.40 L551.37,245.54 L551.89,245.68 L552.41,245.82 L552.93,245.96 L553.46,246.10 L553.98,246.24 L554.50,246.38 L555.03,246.52 L555.55,246.66 L556.07,246.80 L556.59,246.94 L557.12,247.09 L557.64,247.23 L558.16,247.37 L558.68,247.51 L559.21,247.65 L559.73,247.79 L560.25,247.93 L560.77,248.07 L561.30,248.21 L561.82,248.35 L562.34,248.49 L562.86,248.63 L563.39,248.77 L563.91,248.91 L564.43,249.05 L564.95,249.19 L565.48,249.33 L566.00,249.47 L566.52,249.61 L567.05,249.75 L567.57,249.89 L568.09,250.04 L568.61,250.18 L569.14,250.32 L569.66,250.46 L570.18,250.60 L570.70,250.74 L571.23,250.88 L571.75,251.02 L572.27,251.16 L572.79,251.30 L573.32,251.44 L573.84,251.58 L574.36,251.72 L574.88,251.86 L575.41,252.00 L575.93,252.14 L576.45,252.28 L576.97,252.42 L577.50,252.56 L578.02,252.70 L578.54,252.84 L579.07,252.99 L579.59,253.13 L580.11,253.27 L580.63,253.41 L581.16,253.55 L581.68,253.69 L582.20,253.83 L582.72,253.97 L583.25,254.11 L583.77,254.25 L584.29,254.39 L584.81,254.53 L585.34,254.67 L585.86,254.81 L586.38,254.95 L586.90,255.09 L587.43,255.23 L587.95,255.37 L588.47,255.51 L588.99,255.65 L589.52,255.79 L590.04,255.93 L590.56,256.08 L591.08,256.22 L591.61,256.36 L592.13,256.50 L592.65,256.64 L593.18,256.78 L593.70,256.92 L594.22,257.06 L594.74,257.20 L595.27,257.34 L595.79,257.48 L596.31,257.62 L596.83,257.76 L597.36,257.90 L597.88,258.04 L598.40,258.18 L598.92,258.32 L599.45,258.46 L599.97,258.60 L600.49,258.74 L601.01,258.88 L601.54,259.03 L602.06,259.17 L602.58,259.31 L603.10,259.45 L603.63,259.59 L604.15,259.73 L604.67,259.87 L605.19,260.01 L605.72,260.15 L606.24,260.29 L606.76,260.43 L607.29,260.57 L607.81,260.71 L608.33,260.85 L608.85,260.99 L609.38,261.13 L609.90,261.27 L610.42,261.41 L610.94,261.55 L611.47,261.69 L611.99,261.83 L612.51,261.97 L613.03,262.12 L613.56,262.26 L614.08,262.40 L614.60,262.54 L615.12,262.68 L615.65,262.82 L616.17,262.96 L616.69,263.10 L617.21,263.24 L617.74,263.38 L618.26,263.52 M463.08,219.37 L463.60,219.51 L464.13,219.65 L464.65,219.79 L465.17,219.93 L465.70,220.07 L466.22,220.21 L466.74,220.35 L467.26,220.49 L467.79,220.64 L468.31,220.78 L468.83,220.92 L469.35,221.06 L469.88,221.20 L470.40,221.34 L470.92,221.48 L471.45,221.62 L471.97,221.76 L472.49,221.90 L473.01,222.04 L473.54,222.18 L474.06,222.32 L474.58,222.46 L475.10,222.60 L475.63,222.74 L476.15,222.88 L476.67,223.02 L477.20,223.16 L477.72,223.30 L478.24,223.44 L478.76,223.58 L479.29,223.73 L479.81,223.87 L480.33,224.01 L480.85,224.15 L481.38,224.29 L481.90,224.43 L482.42,224.57 L482.95,224.71 L483.47,224.85 L483.99,224.99 L484.51,225.13 L485.04,225.27 L485.56,225.41 L486.08,225.55 L486.60,225.69 L487.13,225.83 L487.65,225.97 L488.17,226.11 L488.70,226.25 L489.22,226.39 L489.74,226.53 L490.26,226.67 L490.79,226.82 L491.31,226.96 L491.83,227.10 L492.35,227.24 L492.88,227.38 L493.40,227.52 L493.92,227.66 L494.45,227.80 L494.97,227.94 L495.49,228.08 L496.01,228.22 L496.54,228.36 L497.06,228.50 L497.58,228.64 L498.10,228.78 L498.63,228.92 L499.15,229.06 L499.67,229.20 L500.20,229.34 L500.72,229.48 L501.24,229.62 L501.76,229.76 L502.29,229.91 L502.81,230.05 L503.33,230.19 L503.85,230.33 L504.38,230.47 L504.90,230.61 L505.42,230.75 L505.95,230.89 L506.47,231.03 L506.99,231.17 L507.51,231.31 L508.04,231.45 L508.56,231.59 L509.08,231.73 L509.60,231.87 L510.13,232.01 L510.65,232.15 L511.17,232.29 L511.70,232.43 L512.22,232.57 L512.74,232.71 L513.26,232.85 L513.79,232.99 L514.31,233.14 L514.83,233.28 L515.35,233.42 L515.88,233.56 L516.40,233.70 L516.92,233.84 L517.44,233.98 L517.97,234.12 L518.49,234.26 L519.01,234.40 L519.54,234.54 L520.06,234.68 L520.58,234.82 L521.10,234.96 L521.63,235.10 L522.15,235.24 L522.67,235.38 L523.19,235.52 L523.72,235.66 L524.24,235.80 L524.76,235.94 L525.29,236.08 L525.81,236.23 L526.33,236.37 L526.85,236.51 L527.38,236.65 L527.90,236.79 L528.42,236.93 L528.94,237.07 L529.47,237.21 L529.99,237.35 L530.51,237.49 L531.04,237.63 L531.56,237.77 L532.08,237.91 L532.60,238.05 L533.13,238.19 L533.65,238.33 L534.17,238.47 L534.69,238.61 L535.22,238.75 L535.74,238.89 L536.26,239.03 L536.79,239.17 L537.31,239.31 L537.83,239.45 L538.35,239.59 L538.88,239.73 L539.40,239.87 L539.92,240.01 L540.44,240.15 L540.97,240.30 L541.49,240.44 L542.01,240.58 L542.54,240.72 L543.06,240.86 L543.58,241.00 L544.10,241.14 L544.63,241.28 L545.15,241.42 L545.67,241.56 L546.19,241.70 L546.72,241.84 L547.24,241.98 L547.76,242.12 L548.29,242.26 L548.81,242.41 L549.33,242.55 L549.85,242.69 L550.38,242.83 L550.90,242.97 L551.42,243.11 L551.94,243.25 L552.47,243.39 L552.99,243.53 L553.51,243.67 L554.04,243.81 L554.56,243.95 L555.08,244.09 L555.60,244.23 L556.13,244.37 L556.65,244.51 L557.17,244.65 L557.69,244.79 L558.22,244.93 L558.74,245.07 L559.26,245.21 L559.79,245.35 L560.31,245.50 L560.83,245.64 L561.35,245.78 L561.88,245.92 L562.40,246.06 L562.92,246.20 L563.44,246.34 L563.97,246.48 L564.49,246.62 L565.01,246.76 L565.54,246.90 L566.06,247.04 L566.58,247.18 L567.10,247.32 L567.63,247.46 L568.15,247.60 L568.67,247.74 L569.19,247.88 L569.72,248.02 L570.24,248.16 L570.76,248.30 L571.28,248.44 L571.81,248.59 L572.33,248.73 L572.85,248.87 L573.38,249.01 L573.90,249.15 L574.42,249.29 L574.94,249.43 L575.47,249.57 L575.99,249.71 L576.51,249.85 L577.03,249.99 L577.56,250.13 L578.08,250.27 L578.60,250.41 L579.13,250.55 L579.65,250.69 L580.17,250.83 L580.69,250.97 L581.22,251.11 L581.74,251.25 L582.26,251.39 L582.78,251.53 L583.31,251.68 L583.83,251.82 L584.35,251.96 L584.88,252.10 L585.40,252.24 L585.92,252.38 L586.44,252.52 L586.97,252.66 L587.49,252.80 L588.01,252.94 L588.53,253.08 L589.06,253.22 L589.58,253.36 L590.10,253.50 L590.63,253.64 L591.15,253.78 L591.67,253.92 L592.19,254.06 L592.72,254.20 L593.24,254.34 L593.76,254.48 L594.28,254.62 L594.81,254.76 L595.33,254.91 L595.85,255.05 L596.38,255.19 L596.90,255.33 L597.42,255.47 L597.94,255.61 L598.47,255.75 L598.99,255.89 L599.51,256.03 L600.03,256.17 L600.56,256.31 L601.08,256.45 L601.60,256.59 L602.13,256.73 L602.65,256.87 L603.17,257.01 L603.69,257.15 L604.22,257.29 L604.74,257.43 L605.26,257.57 L605.78,257.71 L606.31,257.85 L606.83,258.00 L607.35,258.14 L607.88,258.28 L608.40,258.42 L608.92,258.56 L609.44,258.70 L609.97,258.84 L610.49,258.98 L611.01,259.12 L611.53,259.26 L612.06,259.40 L612.58,259.54 L613.10,259.68 L613.63,259.82 L614.15,259.96 L614.67,260.10 L615.19,260.24 L615.72,260.38 L616.24,260.52 L616.76,260.66 L617.28,260.80 L617.81,260.94 L618.33,261.09 L618.85,261.23 L619.38,261.37 L619.90,261.51 M464.68,217.36 L465.21,217.50 L465.73,217.64 L466.25,217.78 L466.78,217.92 L467.30,218.06 L467.82,218.20 L468.34,218.35 L468.87,218.49 L469.39,218.63 L469.91,218.77 L470.44,218.91 L470.96,219.05 L471.48,219.19 L472.00,219.33 L472.53,219.47 L473.05,219.61 L473.57,219.75 L474.10,219.89 L474.62,220.03 L475.14,220.17 L475.66,220.31 L476.19,220.45 L476.71,220.59 L477.23,220.73 L477.76,220.87 L478.28,221.01 L478.80,221.15 L479.32,221.29 L479.85,221.43 L480.37,221.58 L480.89,221.72 L481.42,221.86 L481.94,222.00 L482.46,222.14 L482.98,222.28 L483.51,222.42 L484.03,222.56 L484.55,222.70 L485.08,222.84 L485.60,222.98 L486.12,223.12 L486.64,223.26 L487.17,223.40 L487.69,223.54 L488.21,223.68 L488.73,223.82 L489.26,223.96 L489.78,224.10 L490.30,224.24 L490.83,224.38 L491.35,224.52 L491.87,224.66 L492.39,224.81 L492.92,224.95 L493.44,225.09 L493.96,225.23 L494.49,225.37 L495.01,225.51 L495.53,225.65 L496.05,225.79 L496.58,225.93 L497.10,226.07 L497.62,226.21 L498.15,226.35 L498.67,226.49 L499.19,226.63 L499.71,226.77 L500.24,226.91 L500.76,227.05 L501.28,227.19 L501.81,227.33 L502.33,227.47 L502.85,227.61 L503.37,227.75 L503.90,227.90 L504.42,228.04 L504.94,228.18 L505.47,228.32 L505.99,228.46 L506.51,228.60 L507.03,228.74 L507.56,228.88 L508.08,229.02 L508.60,229.16 L509.13,229.30 L509.65,229.44 L510.17,229.58 L510.69,229.72 L511.22,229.86 L511.74,230.00 L512.26,230.14 L512.79,230.28 L513.31,230.42 L513.83,230.56 L514.35,230.70 L514.88,230.84 L515.40,230.98 L515.92,231.13 L516.45,231.27 L516.97,231.41 L517.49,231.55 L518.01,231.69 L518.54,231.83 L519.06,231.97 L519.58,232.11 L520.11,232.25 L520.63,232.39 L521.15,232.53 L521.67,232.67 L522.20,232.81 L522.72,232.95 L523.24,233.09 L523.77,233.23 L524.29,233.37 L524.81,233.51 L525.33,233.65 L525.86,233.79 L526.38,233.93 L526.90,234.07 L527.42,234.21 L527.95,234.36 L528.47,234.50 L528.99,234.64 L529.52,234.78 L530.04,234.92 L530.56,235.06 L531.08,235.20 L531.61,235.34 L532.13,235.48 L532.65,235.62 L533.18,235.76 L533.70,235.90 L534.22,236.04 L534.74,236.18 L535.27,236.32 L535.79,236.46 L536.31,236.60 L536.84,236.74 L537.36,236.88 L537.88,237.02 L538.40,237.16 L538.93,237.30 L539.45,237.44 L539.97,237.58 L540.50,237.72 L541.02,237.86 L541.54,238.00 L542.06,238.14 L542.59,238.29 L543.11,238.43 L543.63,238.57 L544.16,238.71 L544.68,238.85 L545.20,238.99 L545.72,239.13 L546.25,239.27 L546.77,239.41 L547.29,239.55 L547.82,239.69 L548.34,239.83 L548.86,239.97 L549.38,240.11 L549.91,240.25 L550.43,240.39 L550.95,240.53 L551.48,240.67 L552.00,240.82 L552.52,240.96 L553.04,241.10 L553.57,241.24 L554.09,241.38 L554.61,241.52 L555.14,241.66 L555.66,241.80 L556.18,241.94 L556.70,242.08 L557.23,242.22 L557.75,242.36 L558.27,242.50 L558.80,242.64 L559.32,242.78 L559.84,242.92 L560.36,243.06 L560.89,243.20 L561.41,243.34 L561.93,243.48 L562.45,243.62 L562.98,243.76 L563.50,243.90 L564.02,244.05 L564.55,244.19 L565.07,244.33 L565.59,244.47 L566.11,244.61 L566.64,244.75 L567.16,244.89 L567.68,245.03 L568.21,245.17 L568.73,245.31 L569.25,245.45 L569.77,245.59 L570.30,245.73 L570.82,245.87 L571.34,246.01 L571.87,246.15 L572.39,246.29 L572.91,246.43 L573.43,246.57 L573.96,246.71 L574.48,246.85 L575.00,246.99 L575.53,247.13 L576.05,247.28 L576.57,247.42 L577.09,247.56 L577.62,247.70 L578.14,247.84 L578.66,247.98 L579.19,248.12 L579.71,248.26 L580.23,248.40 L580.75,248.54 L581.28,248.68 L581.80,248.82 L582.32,248.96 L582.85,249.10 L583.37,249.24 L583.89,249.38 L584.41,249.52 L584.94,249.66 L585.46,249.80 L585.98,249.94 L586.51,250.08 L587.03,250.22 L587.55,250.36 L588.07,250.51 L588.60,250.65 L589.12,250.79 L589.64,250.93 L590.17,251.07 L590.69,251.21 L591.21,251.35 L591.73,251.49 L592.26,251.63 L592.78,251.77 L593.30,251.91 L593.83,252.05 L594.35,252.19 L594.87,252.33 L595.39,252.47 L595.92,252.61 L596.44,252.75 L596.96,252.89 L597.49,253.03 L598.01,253.17 L598.53,253.31 L599.05,253.45 L599.58,253.59 L600.10,253.74 L600.62,253.88 L601.14,254.02 L601.67,254.16 L602.19,254.30 L602.71,254.44 L603.24,254.58 L603.76,254.72 L604.28,254.86 L604.80,255.00 L605.33,255.14 L605.85,255.28 L606.37,255.42 L606.90,255.56 L607.42,255.70 L607.94,255.84 L608.46,255.98 L608.99,256.12 L609.51,256.26 L610.03,256.40 L610.56,256.54 L611.08,256.68 L611.60,256.83 L612.12,256.97 L612.65,257.11 L613.17,257.25 L613.69,257.39 L614.22,257.53 L614.74,257.67 L615.26,257.81 L615.78,257.95 L616.31,258.09 L616.83,258.23 L617.35,258.37 L617.88,258.51 L618.40,258.65 L618.92,258.79 L619.44,258.93 L619.97,259.07 L620.49,259.21 L621.01,259.35 L621.54,259.49 M466.29,215.35 L466.81,215.49 L467.33,215.63 L467.86,215.77 L468.38,215.92 L468.90,216.06 L469.42,216.20 L469.95,216.34 L470.47,216.48 L470.99,216.62 L471.52,216.76 L472.04,216.90 L472.56,217.04 L473.09,217.18 L473.61,217.32 L474.13,217.46 L474.65,217.60 L475.18,217.74 L475.70,217.88 L476.22,218.02 L476.75,218.16 L477.27,218.30 L477.79,218.44 L478.31,218.58 L478.84,218.72 L479.36,218.86 L479.88,219.00 L480.41,219.14 L480.93,219.29 L481.45,219.43 L481.98,219.57 L482.50,219.71 L483.02,219.85 L483.54,219.99 L484.07,220.13 L484.59,220.27 L485.11,220.41 L485.64,220.55 L486.16,220.69 L486.68,220.83 L487.20,220.97 L487.73,221.11 L488.25,221.25 L488.77,221.39 L489.30,221.53 L489.82,221.67 L490.34,221.81 L490.87,221.95 L491.39,222.09 L491.91,222.23 L492.43,222.37 L492.96,222.51 L493.48,222.66 L494.00,222.80 L494.53,222.94 L495.05,223.08 L495.57,223.22 L496.10,223.36 L496.62,223.50 L497.14,223.64 L497.66,223.78 L498.19,223.92 L498.71,224.06 L499.23,224.20 L499.76,224.34 L500.28,224.48 L500.80,224.62 L501.32,224.76 L501.85,224.90 L502.37,225.04 L502.89,225.18 L503.42,225.32 L503.94,225.46 L504.46,225.60 L504.99,225.74 L505.51,225.88 L506.03,226.03 L506.55,226.17 L507.08,226.31 L507.60,226.45 L508.12,226.59 L508.65,226.73 L509.17,226.87 L509.69,227.01 L510.21,227.15 L510.74,227.29 L511.26,227.43 L511.78,227.57 L512.31,227.71 L512.83,227.85 L513.35,227.99 L513.88,228.13 L514.40,228.27 L514.92,228.41 L515.44,228.55 L515.97,228.69 L516.49,228.83 L517.01,228.97 L517.54,229.11 L518.06,229.26 L518.58,229.40 L519.11,229.54 L519.63,229.68 L520.15,229.82 L520.67,229.96 L521.20,230.10 L521.72,230.24 L522.24,230.38 L522.77,230.52 L523.29,230.66 L523.81,230.80 L524.33,230.94 L524.86,231.08 L525.38,231.22 L525.90,231.36 L526.43,231.50 L526.95,231.64 L527.47,231.78 L528.00,231.92 L528.52,232.06 L529.04,232.20 L529.56,232.34 L530.09,232.48 L530.61,232.63 L531.13,232.77 L531.66,232.91 L532.18,233.05 L532.70,233.19 L533.22,233.33 L533.75,233.47 L534.27,233.61 L534.79,233.75 L535.32,233.89 L535.84,234.03 L536.36,234.17 L536.89,234.31 L537.41,234.45 L537.93,234.59 L538.45,234.73 L538.98,234.87 L539.50,235.01 L540.02,235.15 L540.55,235.29 L541.07,235.43 L541.59,235.57 L542.12,235.71 L542.64,235.85 L543.16,235.99 L543.68,236.13 L544.21,236.27 L544.73,236.42 L545.25,236.56 L545.78,236.70 L546.30,236.84 L546.82,236.98 L547.34,237.12 L547.87,237.26 L548.39,237.40 L548.91,237.54 L549.44,237.68 L549.96,237.82 L550.48,237.96 L551.01,238.10 L551.53,238.24 L552.05,238.38 L552.57,238.52 L553.10,238.66 L553.62,238.80 L554.14,238.94 L554.67,239.08 L555.19,239.23 L555.71,239.37 L556.24,239.51 L556.76,239.65 L557.28,239.79 L557.80,239.93 L558.33,240.07 L558.85,240.21 L559.37,240.35 L559.90,240.49 L560.42,240.63 L560.94,240.77 L561.46,240.91 L561.99,241.05 L562.51,241.19 L563.03,241.33 L563.56,241.47 L564.08,241.61 L564.60,241.75 L565.13,241.89 L565.65,242.03 L566.17,242.17 L566.69,242.31 L567.22,242.45 L567.74,242.60 L568.26,242.74 L568.79,242.88 L569.31,243.02 L569.83,243.16 L570.35,243.30 L570.88,243.44 L571.40,243.58 L571.92,243.72 L572.45,243.86 L572.97,244.00 L573.49,244.14 L574.02,244.28 L574.54,244.42 L575.06,244.56 L575.58,244.70 L576.11,244.84 L576.63,244.98 L577.15,245.12 L577.68,245.26 L578.20,245.40 L578.72,245.54 L579.25,245.68 L579.77,245.82 L580.29,245.97 L580.81,246.11 L581.34,246.25 L581.86,246.39 L582.38,246.53 L582.91,246.67 L583.43,246.81 L583.95,246.95 L584.47,247.09 L585.00,247.23 L585.52,247.37 L586.04,247.51 L586.57,247.65 L587.09,247.79 L587.61,247.93 L588.14,248.07 L588.66,248.21 L589.18,248.35 L589.70,248.49 L590.23,248.63 L590.75,248.77 L591.27,248.91 L591.80,249.05 L592.32,249.20 L592.84,249.34 L593.36,249.48 L593.89,249.62 L594.41,249.76 L594.93,249.90 L595.46,250.04 L595.98,250.18 L596.50,250.32 L597.03,250.46 L597.55,250.60 L598.07,250.74 L598.59,250.88 L599.12,251.02 L599.64,251.16 L600.16,251.30 L600.69,251.44 L601.21,251.58 L601.73,251.72 L602.26,251.86 L602.78,252.00 L603.30,252.14 L603.82,252.28 L604.35,252.42 L604.87,252.57 L605.39,252.71 L605.92,252.85 L606.44,252.99 L606.96,253.13 L607.48,253.27 L608.01,253.41 L608.53,253.55 L609.05,253.69 L609.58,253.83 L610.10,253.97 L610.62,254.11 L611.15,254.25 L611.67,254.39 L612.19,254.53 L612.71,254.67 L613.24,254.81 L613.76,254.95 L614.28,255.09 L614.81,255.23 L615.33,255.37 L615.85,255.51 L616.37,255.65 L616.90,255.79 L617.42,255.94 L617.94,256.08 L618.47,256.22 L618.99,256.36 L619.51,256.50 L620.04,256.64 L620.56,256.78 L621.08,256.92 L621.60,257.06 L622.13,257.20 L622.65,257.34 L623.17,257.48 M467.89,213.34 L468.41,213.48 L468.94,213.63 L469.46,213.77 L469.98,213.91 L470.50,214.05 L471.03,214.19 L471.55,214.33 L472.07,214.47 L472.60,214.61 L473.12,214.75 L473.64,214.89 L474.17,215.03 L474.69,215.17 L475.21,215.31 L475.74,215.45 L476.26,215.59 L476.78,215.73 L477.30,215.87 L477.83,216.01 L478.35,216.15 L478.87,216.29 L479.40,216.43 L479.92,216.57 L480.44,216.71 L480.97,216.85 L481.49,217.00 L482.01,217.14 L482.53,217.28 L483.06,217.42 L483.58,217.56 L484.10,217.70 L484.63,217.84 L485.15,217.98 L485.67,218.12 L486.20,218.26 L486.72,218.40 L487.24,218.54 L487.77,218.68 L488.29,218.82 L488.81,218.96 L489.33,219.10 L489.86,219.24 L490.38,219.38 L490.90,219.52 L491.43,219.66 L491.95,219.80 L492.47,219.94 L493.00,220.08 L493.52,220.22 L494.04,220.36 L494.57,220.51 L495.09,220.65 L495.61,220.79 L496.13,220.93 L496.66,221.07 L497.18,221.21 L497.70,221.35 L498.23,221.49 L498.75,221.63 L499.27,221.77 L499.80,221.91 L500.32,222.05 L500.84,222.19 L501.37,222.33 L501.89,222.47 L502.41,222.61 L502.93,222.75 L503.46,222.89 L503.98,223.03 L504.50,223.17 L505.03,223.31 L505.55,223.45 L506.07,223.59 L506.60,223.73 L507.12,223.88 L507.64,224.02 L508.17,224.16 L508.69,224.30 L509.21,224.44 L509.73,224.58 L510.26,224.72 L510.78,224.86 L511.30,225.00 L511.83,225.14 L512.35,225.28 L512.87,225.42 L513.40,225.56 L513.92,225.70 L514.44,225.84 L514.97,225.98 L515.49,226.12 L516.01,226.26 L516.53,226.40 L517.06,226.54 L517.58,226.68 L518.10,226.82 L518.63,226.96 L519.15,227.10 L519.67,227.24 L520.20,227.39 L520.72,227.53 L521.24,227.67 L521.77,227.81 L522.29,227.95 L522.81,228.09 L523.33,228.23 L523.86,228.37 L524.38,228.51 L524.90,228.65 L525.43,228.79 L525.95,228.93 L526.47,229.07 L527.00,229.21 L527.52,229.35 L528.04,229.49 L528.57,229.63 L529.09,229.77 L529.61,229.91 L530.13,230.05 L530.66,230.19 L531.18,230.33 L531.70,230.47 L532.23,230.61 L532.75,230.75 L533.27,230.90 L533.80,231.04 L534.32,231.18 L534.84,231.32 L535.37,231.46 L535.89,231.60 L536.41,231.74 L536.93,231.88 L537.46,232.02 L537.98,232.16 L538.50,232.30 L539.03,232.44 L539.55,232.58 L540.07,232.72 L540.60,232.86 L541.12,233.00 L541.64,233.14 L542.17,233.28 L542.69,233.42 L543.21,233.56 L543.73,233.70 L544.26,233.84 L544.78,233.98 L545.30,234.12 L545.83,234.26 L546.35,234.40 L546.87,234.55 L547.40,234.69 L547.92,234.83 L548.44,234.97 L548.97,235.11 L549.49,235.25 L550.01,235.39 L550.53,235.53 L551.06,235.67 L551.58,235.81 L552.10,235.95 L552.63,236.09 L553.15,236.23 L553.67,236.37 L554.20,236.51 L554.72,236.65 L555.24,236.79 L555.77,236.93 L556.29,237.07 L556.81,237.21 L557.33,237.35 L557.86,237.49 L558.38,237.63 L558.90,237.78 L559.43,237.92 L559.95,238.06 L560.47,238.20 L561.00,238.34 L561.52,238.48 L562.04,238.62 L562.57,238.76 L563.09,238.90 L563.61,239.04 L564.13,239.18 L564.66,239.32 L565.18,239.46 L565.70,239.60 L566.23,239.74 L566.75,239.88 L567.27,240.02 L567.80,240.16 L568.32,240.30 L568.84,240.44 L569.37,240.58 L569.89,240.72 L570.41,240.86 L570.93,241.00 L571.46,241.15 L571.98,241.29 L572.50,241.43 L573.03,241.57 L573.55,241.71 L574.07,241.85 L574.60,241.99 L575.12,242.13 L575.64,242.27 L576.17,242.41 L576.69,242.55 L577.21,242.69 L577.73,242.83 L578.26,242.97 L578.78,243.11 L579.30,243.25 L579.83,243.39 L580.35,243.53 L580.87,243.67 L581.40,243.81 L581.92,243.95 L582.44,244.09 L582.97,244.23 L583.49,244.37 L584.01,244.51 L584.53,244.66 L585.06,244.80 L585.58,244.94 L586.10,245.08 L586.63,245.22 L587.15,245.36 L587.67,245.50 L588.20,245.64 L588.72,245.78 L589.24,245.92 L589.77,246.06 L590.29,246.20 L590.81,246.34 L591.33,246.48 L591.86,246.62 L592.38,246.76 L592.90,246.90 L593.43,247.04 L593.95,247.18 L594.47,247.32 L595.00,247.46 L595.52,247.60 L596.04,247.74 L596.57,247.88 L597.09,248.03 L597.61,248.17 L598.13,248.31 L598.66,248.45 L599.18,248.59 L599.70,248.73 L600.23,248.87 L600.75,249.01 L601.27,249.15 L601.80,249.29 L602.32,249.43 L602.84,249.57 L603.37,249.71 L603.89,249.85 L604.41,249.99 L604.93,250.13 L605.46,250.27 L605.98,250.41 L606.50,250.55 L607.03,250.69 L607.55,250.83 L608.07,250.97 L608.60,251.11 L609.12,251.25 L609.64,251.39 L610.17,251.54 L610.69,251.68 L611.21,251.82 L611.73,251.96 L612.26,252.10 L612.78,252.24 L613.30,252.38 L613.83,252.52 L614.35,252.66 L614.87,252.80 L615.40,252.94 L615.92,253.08 L616.44,253.22 L616.96,253.36 L617.49,253.50 L618.01,253.64 L618.53,253.78 L619.06,253.92 L619.58,254.06 L620.10,254.20 L620.63,254.34 L621.15,254.48 L621.67,254.62 L622.20,254.76 L622.72,254.91 L623.24,255.05 L623.76,255.19 L624.29,255.33 L624.81,255.47 M469.49,211.34 L470.01,211.48 L470.54,211.62 L471.06,211.76 L471.58,211.90 L472.11,212.04 L472.63,212.18 L473.15,212.32 L473.68,212.46 L474.20,212.60 L474.72,212.74 L475.25,212.88 L475.77,213.02 L476.29,213.16 L476.82,213.30 L477.34,213.44 L477.86,213.58 L478.39,213.72 L478.91,213.86 L479.43,214.00 L479.95,214.14 L480.48,214.28 L481.00,214.42 L481.52,214.56 L482.05,214.70 L482.57,214.85 L483.09,214.99 L483.62,215.13 L484.14,215.27 L484.66,215.41 L485.19,215.55 L485.71,215.69 L486.23,215.83 L486.76,215.97 L487.28,216.11 L487.80,216.25 L488.33,216.39 L488.85,216.53 L489.37,216.67 L489.90,216.81 L490.42,216.95 L490.94,217.09 L491.47,217.23 L491.99,217.37 L492.51,217.51 L493.03,217.65 L493.56,217.79 L494.08,217.93 L494.60,218.07 L495.13,218.21 L495.65,218.36 L496.17,218.50 L496.70,218.64 L497.22,218.78 L497.74,218.92 L498.27,219.06 L498.79,219.20 L499.31,219.34 L499.84,219.48 L500.36,219.62 L500.88,219.76 L501.41,219.90 L501.93,220.04 L502.45,220.18 L502.98,220.32 L503.50,220.46 L504.02,220.60 L504.55,220.74 L505.07,220.88 L505.59,221.02 L506.11,221.16 L506.64,221.30 L507.16,221.44 L507.68,221.58 L508.21,221.72 L508.73,221.87 L509.25,222.01 L509.78,222.15 L510.30,222.29 L510.82,222.43 L511.35,222.57 L511.87,222.71 L512.39,222.85 L512.92,222.99 L513.44,223.13 L513.96,223.27 L514.49,223.41 L515.01,223.55 L515.53,223.69 L516.06,223.83 L516.58,223.97 L517.10,224.11 L517.62,224.25 L518.15,224.39 L518.67,224.53 L519.19,224.67 L519.72,224.81 L520.24,224.95 L520.76,225.09 L521.29,225.23 L521.81,225.37 L522.33,225.52 L522.86,225.66 L523.38,225.80 L523.90,225.94 L524.43,226.08 L524.95,226.22 L525.47,226.36 L526.00,226.50 L526.52,226.64 L527.04,226.78 L527.57,226.92 L528.09,227.06 L528.61,227.20 L529.14,227.34 L529.66,227.48 L530.18,227.62 L530.70,227.76 L531.23,227.90 L531.75,228.04 L532.27,228.18 L532.80,228.32 L533.32,228.46 L533.84,228.60 L534.37,228.74 L534.89,228.88 L535.41,229.03 L535.94,229.17 L536.46,229.31 L536.98,229.45 L537.51,229.59 L538.03,229.73 L538.55,229.87 L539.08,230.01 L539.60,230.15 L540.12,230.29 L540.65,230.43 L541.17,230.57 L541.69,230.71 L542.21,230.85 L542.74,230.99 L543.26,231.13 L543.78,231.27 L544.31,231.41 L544.83,231.55 L545.35,231.69 L545.88,231.83 L546.40,231.97 L546.92,232.11 L547.45,232.25 L547.97,232.39 L548.49,232.53 L549.02,232.68 L549.54,232.82 L550.06,232.96 L550.59,233.10 L551.11,233.24 L551.63,233.38 L552.16,233.52 L552.68,233.66 L553.20,233.80 L553.73,233.94 L554.25,234.08 L554.77,234.22 L555.29,234.36 L555.82,234.50 L556.34,234.64 L556.86,234.78 L557.39,234.92 L557.91,235.06 L558.43,235.20 L558.96,235.34 L559.48,235.48 L560.00,235.62 L560.53,235.76 L561.05,235.90 L561.57,236.04 L562.10,236.19 L562.62,236.33 L563.14,236.47 L563.67,236.61 L564.19,236.75 L564.71,236.89 L565.24,237.03 L565.76,237.17 L566.28,237.31 L566.80,237.45 L567.33,237.59 L567.85,237.73 L568.37,237.87 L568.90,238.01 L569.42,238.15 L569.94,238.29 L570.47,238.43 L570.99,238.57 L571.51,238.71 L572.04,238.85 L572.56,238.99 L573.08,239.13 L573.61,239.27 L574.13,239.41 L574.65,239.55 L575.18,239.69 L575.70,239.84 L576.22,239.98 L576.75,240.12 L577.27,240.26 L577.79,240.40 L578.32,240.54 L578.84,240.68 L579.36,240.82 L579.88,240.96 L580.41,241.10 L580.93,241.24 L581.45,241.38 L581.98,241.52 L582.50,241.66 L583.02,241.80 L583.55,241.94 L584.07,242.08 L584.59,242.22 L585.12,242.36 L585.64,242.50 L586.16,242.64 L586.69,242.78 L587.21,242.92 L587.73,243.06 L588.26,243.20 L588.78,243.35 L589.30,243.49 L589.83,243.63 L590.35,243.77 L590.87,243.91 L591.39,244.05 L591.92,244.19 L592.44,244.33 L592.96,244.47 L593.49,244.61 L594.01,244.75 L594.53,244.89 L595.06,245.03 L595.58,245.17 L596.10,245.31 L596.63,245.45 L597.15,245.59 L597.67,245.73 L598.20,245.87 L598.72,246.01 L599.24,246.15 L599.77,246.29 L600.29,246.43 L600.81,246.57 L601.34,246.71 L601.86,246.85 L602.38,247.00 L602.91,247.14 L603.43,247.28 L603.95,247.42 L604.47,247.56 L605.00,247.70 L605.52,247.84 L606.04,247.98 L606.57,248.12 L607.09,248.26 L607.61,248.40 L608.14,248.54 L608.66,248.68 L609.18,248.82 L609.71,248.96 L610.23,249.10 L610.75,249.24 L611.28,249.38 L611.80,249.52 L612.32,249.66 L612.85,249.80 L613.37,249.94 L613.89,250.08 L614.42,250.22 L614.94,250.36 L615.46,250.51 L615.99,250.65 L616.51,250.79 L617.03,250.93 L617.55,251.07 L618.08,251.21 L618.60,251.35 L619.12,251.49 L619.65,251.63 L620.17,251.77 L620.69,251.91 L621.22,252.05 L621.74,252.19 L622.26,252.33 L622.79,252.47 L623.31,252.61 L623.83,252.75 L624.36,252.89 L624.88,253.03 L625.40,253.17 L625.93,253.31 L626.45,253.45 M471.09,209.33 L471.62,209.47 L472.14,209.61 L472.66,209.75 L473.19,209.89 L473.71,210.03 L474.23,210.17 L474.76,210.31 L475.28,210.45 L475.80,210.59 L476.33,210.73 L476.85,210.87 L477.37,211.01 L477.90,211.15 L478.42,211.29 L478.94,211.43 L479.47,211.57 L479.99,211.71 L480.51,211.85 L481.04,211.99 L481.56,212.13 L482.08,212.27 L482.61,212.41 L483.13,212.56 L483.65,212.70 L484.18,212.84 L484.70,212.98 L485.22,213.12 L485.75,213.26 L486.27,213.40 L486.79,213.54 L487.32,213.68 L487.84,213.82 L488.36,213.96 L488.89,214.10 L489.41,214.24 L489.93,214.38 L490.46,214.52 L490.98,214.66 L491.50,214.80 L492.03,214.94 L492.55,215.08 L493.07,215.22 L493.60,215.36 L494.12,215.50 L494.64,215.64 L495.17,215.78 L495.69,215.92 L496.21,216.06 L496.74,216.21 L497.26,216.35 L497.78,216.49 L498.31,216.63 L498.83,216.77 L499.35,216.91 L499.88,217.05 L500.40,217.19 L500.92,217.33 L501.45,217.47 L501.97,217.61 L502.49,217.75 L503.02,217.89 L503.54,218.03 L504.06,218.17 L504.59,218.31 L505.11,218.45 L505.63,218.59 L506.16,218.73 L506.68,218.87 L507.20,219.01 L507.73,219.15 L508.25,219.29 L508.77,219.43 L509.30,219.57 L509.82,219.71 L510.34,219.86 L510.86,220.00 L511.39,220.14 L511.91,220.28 L512.43,220.42 L512.96,220.56 L513.48,220.70 L514.00,220.84 L514.53,220.98 L515.05,221.12 L515.57,221.26 L516.10,221.40 L516.62,221.54 L517.14,221.68 L517.67,221.82 L518.19,221.96 L518.71,222.10 L519.24,222.24 L519.76,222.38 L520.28,222.52 L520.81,222.66 L521.33,222.80 L521.85,222.94 L522.38,223.08 L522.90,223.22 L523.42,223.36 L523.95,223.50 L524.47,223.65 L524.99,223.79 L525.52,223.93 L526.04,224.07 L526.56,224.21 L527.09,224.35 L527.61,224.49 L528.13,224.63 L528.66,224.77 L529.18,224.91 L529.70,225.05 L530.23,225.19 L530.75,225.33 L531.27,225.47 L531.80,225.61 L532.32,225.75 L532.84,225.89 L533.37,226.03 L533.89,226.17 L534.41,226.31 L534.94,226.45 L535.46,226.59 L535.98,226.73 L536.51,226.87 L537.03,227.01 L537.55,227.15 L538.08,227.30 L538.60,227.44 L539.12,227.58 L539.65,227.72 L540.17,227.86 L540.69,228.00 L541.22,228.14 L541.74,228.28 L542.26,228.42 L542.79,228.56 L543.31,228.70 L543.83,228.84 L544.36,228.98 L544.88,229.12 L545.40,229.26 L545.93,229.40 L546.45,229.54 L546.97,229.68 L547.50,229.82 L548.02,229.96 L548.54,230.10 L549.07,230.24 L549.59,230.38 L550.11,230.52 L550.64,230.66 L551.16,230.80 L551.68,230.94 L552.21,231.09 L552.73,231.23 L553.25,231.37 L553.78,231.51 L554.30,231.65 L554.82,231.79 L555.35,231.93 L555.87,232.07 L556.39,232.21 L556.92,232.35 L557.44,232.49 L557.96,232.63 L558.49,232.77 L559.01,232.91 L559.53,233.05 L560.06,233.19 L560.58,233.33 L561.10,233.47 L561.63,233.61 L562.15,233.75 L562.67,233.89 L563.20,234.03 L563.72,234.17 L564.24,234.31 L564.77,234.45 L565.29,234.59 L565.81,234.74 L566.34,234.88 L566.86,235.02 L567.38,235.16 L567.91,235.30 L568.43,235.44 L568.95,235.58 L569.48,235.72 L570.00,235.86 L570.52,236.00 L571.05,236.14 L571.57,236.28 L572.09,236.42 L572.62,236.56 L573.14,236.70 L573.66,236.84 L574.19,236.98 L574.71,237.12 L575.23,237.26 L575.76,237.40 L576.28,237.54 L576.80,237.68 L577.33,237.82 L577.85,237.96 L578.37,238.10 L578.90,238.24 L579.42,238.38 L579.94,238.53 L580.47,238.67 L580.99,238.81 L581.51,238.95 L582.04,239.09 L582.56,239.23 L583.08,239.37 L583.61,239.51 L584.13,239.65 L584.65,239.79 L585.18,239.93 L585.70,240.07 L586.22,240.21 L586.75,240.35 L587.27,240.49 L587.79,240.63 L588.32,240.77 L588.84,240.91 L589.36,241.05 L589.88,241.19 L590.41,241.33 L590.93,241.47 L591.45,241.61 L591.98,241.75 L592.50,241.89 L593.02,242.03 L593.55,242.18 L594.07,242.32 L594.59,242.46 L595.12,242.60 L595.64,242.74 L596.16,242.88 L596.69,243.02 L597.21,243.16 L597.73,243.30 L598.26,243.44 L598.78,243.58 L599.30,243.72 L599.83,243.86 L600.35,244.00 L600.87,244.14 L601.40,244.28 L601.92,244.42 L602.44,244.56 L602.97,244.70 L603.49,244.84 L604.01,244.98 L604.54,245.12 L605.06,245.26 L605.58,245.40 L606.11,245.54 L606.63,245.68 L607.15,245.82 L607.68,245.97 L608.20,246.11 L608.72,246.25 L609.25,246.39 L609.77,246.53 L610.29,246.67 L610.82,246.81 L611.34,246.95 L611.86,247.09 L612.39,247.23 L612.91,247.37 L613.43,247.51 L613.96,247.65 L614.48,247.79 L615.00,247.93 L615.53,248.07 L616.05,248.21 L616.57,248.35 L617.10,248.49 L617.62,248.63 L618.14,248.77 L618.67,248.91 L619.19,249.05 L619.71,249.19 L620.24,249.33 L620.76,249.47 L621.28,249.62 L621.81,249.76 L622.33,249.90 L622.85,250.04 L623.38,250.18 L623.90,250.32 L624.42,250.46 L624.95,250.60 L625.47,250.74 L625.99,250.88 L626.52,251.02 L627.04,251.16 L627.56,251.30 L628.09,251.44 M472.70,207.32 L473.22,207.46 L473.74,207.60 L474.27,207.74 L474.79,207.88 L475.31,208.02 L475.84,208.16 L476.36,208.30 L476.88,208.44 L477.41,208.58 L477.93,208.72 L478.45,208.86 L478.98,209.00 L479.50,209.14 L480.02,209.28 L480.55,209.42 L481.07,209.56 L481.59,209.70 L482.12,209.84 L482.64,209.98 L483.16,210.13 L483.69,210.27 L484.21,210.41 L484.73,210.55 L485.26,210.69 L485.78,210.83 L486.30,210.97 L486.83,211.11 L487.35,211.25 L487.88,211.39 L488.40,211.53 L488.92,211.67 L489.45,211.81 L489.97,211.95 L490.49,212.09 L491.02,212.23 L491.54,212.37 L492.06,212.51 L492.59,212.65 L493.11,212.79 L493.63,212.93 L494.16,213.07 L494.68,213.21 L495.20,213.35 L495.73,213.49 L496.25,213.63 L496.77,213.77 L497.30,213.91 L497.82,214.06 L498.34,214.20 L498.87,214.34 L499.39,214.48 L499.91,214.62 L500.44,214.76 L500.96,214.90 L501.48,215.04 L502.01,215.18 L502.53,215.32 L503.05,215.46 L503.58,215.60 L504.10,215.74 L504.62,215.88 L505.15,216.02 L505.67,216.16 L506.20,216.30 L506.72,216.44 L507.24,216.58 L507.77,216.72 L508.29,216.86 L508.81,217.00 L509.34,217.14 L509.86,217.28 L510.38,217.42 L510.91,217.56 L511.43,217.70 L511.95,217.85 L512.48,217.99 L513.00,218.13 L513.52,218.27 L514.05,218.41 L514.57,218.55 L515.09,218.69 L515.62,218.83 L516.14,218.97 L516.66,219.11 L517.19,219.25 L517.71,219.39 L518.23,219.53 L518.76,219.67 L519.28,219.81 L519.80,219.95 L520.33,220.09 L520.85,220.23 L521.37,220.37 L521.90,220.51 L522.42,220.65 L522.94,220.79 L523.47,220.93 L523.99,221.07 L524.52,221.21 L525.04,221.35 L525.56,221.49 L526.09,221.63 L526.61,221.78 L527.13,221.92 L527.66,222.06 L528.18,222.20 L528.70,222.34 L529.23,222.48 L529.75,222.62 L530.27,222.76 L530.80,222.90 L531.32,223.04 L531.84,223.18 L532.37,223.32 L532.89,223.46 L533.41,223.60 L533.94,223.74 L534.46,223.88 L534.98,224.02 L535.51,224.16 L536.03,224.30 L536.55,224.44 L537.08,224.58 L537.60,224.72 L538.12,224.86 L538.65,225.00 L539.17,225.14 L539.69,225.28 L540.22,225.42 L540.74,225.56 L541.26,225.71 L541.79,225.85 L542.31,225.99 L542.84,226.13 L543.36,226.27 L543.88,226.41 L544.41,226.55 L544.93,226.69 L545.45,226.83 L545.98,226.97 L546.50,227.11 L547.02,227.25 L547.55,227.39 L548.07,227.53 L548.59,227.67 L549.12,227.81 L549.64,227.95 L550.16,228.09 L550.69,228.23 L551.21,228.37 L551.73,228.51 L552.26,228.65 L552.78,228.79 L553.30,228.93 L553.83,229.07 L554.35,229.21 L554.87,229.35 L555.40,229.50 L555.92,229.64 L556.44,229.78 L556.97,229.92 L557.49,230.06 L558.01,230.20 L558.54,230.34 L559.06,230.48 L559.58,230.62 L560.11,230.76 L560.63,230.90 L561.16,231.04 L561.68,231.18 L562.20,231.32 L562.73,231.46 L563.25,231.60 L563.77,231.74 L564.30,231.88 L564.82,232.02 L565.34,232.16 L565.87,232.30 L566.39,232.44 L566.91,232.58 L567.44,232.72 L567.96,232.86 L568.48,233.00 L569.01,233.14 L569.53,233.28 L570.05,233.43 L570.58,233.57 L571.10,233.71 L571.62,233.85 L572.15,233.99 L572.67,234.13 L573.19,234.27 L573.72,234.41 L574.24,234.55 L574.76,234.69 L575.29,234.83 L575.81,234.97 L576.33,235.11 L576.86,235.25 L577.38,235.39 L577.90,235.53 L578.43,235.67 L578.95,235.81 L579.48,235.95 L580.00,236.09 L580.52,236.23 L581.05,236.37 L581.57,236.51 L582.09,236.65 L582.62,236.79 L583.14,236.93 L583.66,237.07 L584.19,237.22 L584.71,237.36 L585.23,237.50 L585.76,237.64 L586.28,237.78 L586.80,237.92 L587.33,238.06 L587.85,238.20 L588.37,238.34 L588.90,238.48 L589.42,238.62 L589.94,238.76 L590.47,238.90 L590.99,239.04 L591.51,239.18 L592.04,239.32 L592.56,239.46 L593.08,239.60 L593.61,239.74 L594.13,239.88 L594.65,240.02 L595.18,240.16 L595.70,240.30 L596.22,240.44 L596.75,240.58 L597.27,240.72 L597.80,240.86 L598.32,241.00 L598.84,241.15 L599.37,241.29 L599.89,241.43 L600.41,241.57 L600.94,241.71 L601.46,241.85 L601.98,241.99 L602.51,242.13 L603.03,242.27 L603.55,242.41 L604.08,242.55 L604.60,242.69 L605.12,242.83 L605.65,242.97 L606.17,243.11 L606.69,243.25 L607.22,243.39 L607.74,243.53 L608.26,243.67 L608.79,243.81 L609.31,243.95 L609.83,244.09 L610.36,244.23 L610.88,244.37 L611.40,244.51 L611.93,244.65 L612.45,244.79 L612.97,244.94 L613.50,245.08 L614.02,245.22 L614.54,245.36 L615.07,245.50 L615.59,245.64 L616.12,245.78 L616.64,245.92 L617.16,246.06 L617.69,246.20 L618.21,246.34 L618.73,246.48 L619.26,246.62 L619.78,246.76 L620.30,246.90 L620.83,247.04 L621.35,247.18 L621.87,247.32 L622.40,247.46 L622.92,247.60 L623.44,247.74 L623.97,247.88 L624.49,248.02 L625.01,248.16 L625.54,248.30 L626.06,248.44 L626.58,248.58 L627.11,248.72 L627.63,248.87 L628.15,249.01 L628.68,249.15 L629.20,249.29 L629.72,249.43 M474.30,205.31 L474.82,205.45 L475.34,205.59 L475.87,205.73 L476.39,205.87 L476.92,206.01 L477.44,206.15 L477.96,206.29 L478.49,206.43 L479.01,206.57 L479.53,206.71 L480.06,206.85 L480.58,206.99 L481.10,207.13 L481.63,207.27 L482.15,207.41 L482.67,207.55 L483.20,207.69 L483.72,207.84 L484.25,207.98 L484.77,208.12 L485.29,208.26 L485.82,208.40 L486.34,208.54 L486.86,208.68 L487.39,208.82 L487.91,208.96 L488.43,209.10 L488.96,209.24 L489.48,209.38 L490.00,209.52 L490.53,209.66 L491.05,209.80 L491.57,209.94 L492.10,210.08 L492.62,210.22 L493.15,210.36 L493.67,210.50 L494.19,210.64 L494.72,210.78 L495.24,210.92 L495.76,211.06 L496.29,211.20 L496.81,211.34 L497.33,211.48 L497.86,211.62 L498.38,211.76 L498.90,211.91 L499.43,212.05 L499.95,212.19 L500.48,212.33 L501.00,212.47 L501.52,212.61 L502.05,212.75 L502.57,212.89 L503.09,213.03 L503.62,213.17 L504.14,213.31 L504.66,213.45 L505.19,213.59 L505.71,213.73 L506.23,213.87 L506.76,214.01 L507.28,214.15 L507.80,214.29 L508.33,214.43 L508.85,214.57 L509.38,214.71 L509.90,214.85 L510.42,214.99 L510.95,215.13 L511.47,215.27 L511.99,215.41 L512.52,215.55 L513.04,215.69 L513.56,215.84 L514.09,215.98 L514.61,216.12 L515.13,216.26 L515.66,216.40 L516.18,216.54 L516.71,216.68 L517.23,216.82 L517.75,216.96 L518.28,217.10 L518.80,217.24 L519.32,217.38 L519.85,217.52 L520.37,217.66 L520.89,217.80 L521.42,217.94 L521.94,218.08 L522.46,218.22 L522.99,218.36 L523.51,218.50 L524.03,218.64 L524.56,218.78 L525.08,218.92 L525.61,219.06 L526.13,219.20 L526.65,219.34 L527.18,219.48 L527.70,219.62 L528.22,219.76 L528.75,219.91 L529.27,220.05 L529.79,220.19 L530.32,220.33 L530.84,220.47 L531.36,220.61 L531.89,220.75 L532.41,220.89 L532.94,221.03 L533.46,221.17 L533.98,221.31 L534.51,221.45 L535.03,221.59 L535.55,221.73 L536.08,221.87 L536.60,222.01 L537.12,222.15 L537.65,222.29 L538.17,222.43 L538.69,222.57 L539.22,222.71 L539.74,222.85 L540.26,222.99 L540.79,223.13 L541.31,223.27 L541.84,223.41 L542.36,223.55 L542.88,223.69 L543.41,223.83 L543.93,223.98 L544.45,224.12 L544.98,224.26 L545.50,224.40 L546.02,224.54 L546.55,224.68 L547.07,224.82 L547.59,224.96 L548.12,225.10 L548.64,225.24 L549.17,225.38 L549.69,225.52 L550.21,225.66 L550.74,225.80 L551.26,225.94 L551.78,226.08 L552.31,226.22 L552.83,226.36 L553.35,226.50 L553.88,226.64 L554.40,226.78 L554.92,226.92 L555.45,227.06 L555.97,227.20 L556.49,227.34 L557.02,227.48 L557.54,227.62 L558.07,227.76 L558.59,227.90 L559.11,228.05 L559.64,228.19 L560.16,228.33 L560.68,228.47 L561.21,228.61 L561.73,228.75 L562.25,228.89 L562.78,229.03 L563.30,229.17 L563.82,229.31 L564.35,229.45 L564.87,229.59 L565.40,229.73 L565.92,229.87 L566.44,230.01 L566.97,230.15 L567.49,230.29 L568.01,230.43 L568.54,230.57 L569.06,230.71 L569.58,230.85 L570.11,230.99 L570.63,231.13 L571.15,231.27 L571.68,231.41 L572.20,231.55 L572.72,231.69 L573.25,231.83 L573.77,231.98 L574.30,232.12 L574.82,232.26 L575.34,232.40 L575.87,232.54 L576.39,232.68 L576.91,232.82 L577.44,232.96 L577.96,233.10 L578.48,233.24 L579.01,233.38 L579.53,233.52 L580.05,233.66 L580.58,233.80 L581.10,233.94 L581.63,234.08 L582.15,234.22 L582.67,234.36 L583.20,234.50 L583.72,234.64 L584.24,234.78 L584.77,234.92 L585.29,235.06 L585.81,235.20 L586.34,235.34 L586.86,235.48 L587.38,235.62 L587.91,235.76 L588.43,235.90 L588.95,236.05 L589.48,236.19 L590.00,236.33 L590.53,236.47 L591.05,236.61 L591.57,236.75 L592.10,236.89 L592.62,237.03 L593.14,237.17 L593.67,237.31 L594.19,237.45 L594.71,237.59 L595.24,237.73 L595.76,237.87 L596.28,238.01 L596.81,238.15 L597.33,238.29 L597.86,238.43 L598.38,238.57 L598.90,238.71 L599.43,238.85 L599.95,238.99 L600.47,239.13 L601.00,239.27 L601.52,239.41 L602.04,239.55 L602.57,239.69 L603.09,239.83 L603.61,239.97 L604.14,240.12 L604.66,240.26 L605.18,240.40 L605.71,240.54 L606.23,240.68 L606.76,240.82 L607.28,240.96 L607.80,241.10 L608.33,241.24 L608.85,241.38 L609.37,241.52 L609.90,241.66 L610.42,241.80 L610.94,241.94 L611.47,242.08 L611.99,242.22 L612.51,242.36 L613.04,242.50 L613.56,242.64 L614.09,242.78 L614.61,242.92 L615.13,243.06 L615.66,243.20 L616.18,243.34 L616.70,243.48 L617.23,243.62 L617.75,243.76 L618.27,243.90 L618.80,244.04 L619.32,244.19 L619.84,244.33 L620.37,244.47 L620.89,244.61 L621.41,244.75 L621.94,244.89 L622.46,245.03 L622.99,245.17 L623.51,245.31 L624.03,245.45 L624.56,245.59 L625.08,245.73 L625.60,245.87 L626.13,246.01 L626.65,246.15 L627.17,246.29 L627.70,246.43 L628.22,246.57 L628.74,246.71 L629.27,246.85 L629.79,246.99 L630.32,247.13 L630.84,247.27 L631.36,247.41 M475.90,203.30 L476.42,203.44 L476.95,203.58 L477.47,203.72 L477.99,203.86 L478.52,204.00 L479.04,204.14 L479.57,204.28 L480.09,204.42 L480.61,204.56 L481.14,204.70 L481.66,204.84 L482.18,204.98 L482.71,205.12 L483.23,205.26 L483.75,205.41 L484.28,205.55 L484.80,205.69 L485.33,205.83 L485.85,205.97 L486.37,206.11 L486.90,206.25 L487.42,206.39 L487.94,206.53 L488.47,206.67 L488.99,206.81 L489.52,206.95 L490.04,207.09 L490.56,207.23 L491.09,207.37 L491.61,207.51 L492.13,207.65 L492.66,207.79 L493.18,207.93 L493.70,208.07 L494.23,208.21 L494.75,208.35 L495.28,208.49 L495.80,208.63 L496.32,208.77 L496.85,208.91 L497.37,209.05 L497.89,209.19 L498.42,209.33 L498.94,209.47 L499.46,209.62 L499.99,209.76 L500.51,209.90 L501.04,210.04 L501.56,210.18 L502.08,210.32 L502.61,210.46 L503.13,210.60 L503.65,210.74 L504.18,210.88 L504.70,211.02 L505.23,211.16 L505.75,211.30 L506.27,211.44 L506.80,211.58 L507.32,211.72 L507.84,211.86 L508.37,212.00 L508.89,212.14 L509.41,212.28 L509.94,212.42 L510.46,212.56 L510.99,212.70 L511.51,212.84 L512.03,212.98 L512.56,213.12 L513.08,213.26 L513.60,213.40 L514.13,213.54 L514.65,213.68 L515.17,213.83 L515.70,213.97 L516.22,214.11 L516.75,214.25 L517.27,214.39 L517.79,214.53 L518.32,214.67 L518.84,214.81 L519.36,214.95 L519.89,215.09 L520.41,215.23 L520.94,215.37 L521.46,215.51 L521.98,215.65 L522.51,215.79 L523.03,215.93 L523.55,216.07 L524.08,216.21 L524.60,216.35 L525.12,216.49 L525.65,216.63 L526.17,216.77 L526.70,216.91 L527.22,217.05 L527.74,217.19 L528.27,217.33 L528.79,217.47 L529.31,217.61 L529.84,217.75 L530.36,217.89 L530.88,218.03 L531.41,218.18 L531.93,218.32 L532.46,218.46 L532.98,218.60 L533.50,218.74 L534.03,218.88 L534.55,219.02 L535.07,219.16 L535.60,219.30 L536.12,219.44 L536.65,219.58 L537.17,219.72 L537.69,219.86 L538.22,220.00 L538.74,220.14 L539.26,220.28 L539.79,220.42 L540.31,220.56 L540.83,220.70 L541.36,220.84 L541.88,220.98 L542.41,221.12 L542.93,221.26 L543.45,221.40 L543.98,221.54 L544.50,221.68 L545.02,221.82 L545.55,221.96 L546.07,222.10 L546.60,222.24 L547.12,222.39 L547.64,222.53 L548.17,222.67 L548.69,222.81 L549.21,222.95 L549.74,223.09 L550.26,223.23 L550.78,223.37 L551.31,223.51 L551.83,223.65 L552.36,223.79 L552.88,223.93 L553.40,224.07 L553.93,224.21 L554.45,224.35 L554.97,224.49 L555.50,224.63 L556.02,224.77 L556.54,224.91 L557.07,225.05 L557.59,225.19 L558.12,225.33 L558.64,225.47 L559.16,225.61 L559.69,225.75 L560.21,225.89 L560.73,226.03 L561.26,226.17 L561.78,226.31 L562.30,226.45 L562.83,226.60 L563.35,226.74 L563.88,226.88 L564.40,227.02 L564.92,227.16 L565.45,227.30 L565.97,227.44 L566.49,227.58 L567.02,227.72 L567.54,227.86 L568.07,228.00 L568.59,228.14 L569.11,228.28 L569.64,228.42 L570.16,228.56 L570.68,228.70 L571.21,228.84 L571.73,228.98 L572.25,229.12 L572.78,229.26 L573.30,229.40 L573.83,229.54 L574.35,229.68 L574.87,229.82 L575.40,229.96 L575.92,230.10 L576.44,230.24 L576.97,230.38 L577.49,230.52 L578.01,230.67 L578.54,230.81 L579.06,230.95 L579.59,231.09 L580.11,231.23 L580.63,231.37 L581.16,231.51 L581.68,231.65 L582.20,231.79 L582.73,231.93 L583.25,232.07 L583.78,232.21 L584.30,232.35 L584.82,232.49 L585.35,232.63 L585.87,232.77 L586.39,232.91 L586.92,233.05 L587.44,233.19 L587.96,233.33 L588.49,233.47 L589.01,233.61 L589.54,233.75 L590.06,233.89 L590.58,234.03 L591.11,234.17 L591.63,234.31 L592.15,234.45 L592.68,234.59 L593.20,234.73 L593.73,234.88 L594.25,235.02 L594.77,235.16 L595.30,235.30 L595.82,235.44 L596.34,235.58 L596.87,235.72 L597.39,235.86 L597.91,236.00 L598.44,236.14 L598.96,236.28 L599.49,236.42 L600.01,236.56 L600.53,236.70 L601.06,236.84 L601.58,236.98 L602.10,237.12 L602.63,237.26 L603.15,237.40 L603.67,237.54 L604.20,237.68 L604.72,237.82 L605.25,237.96 L605.77,238.10 L606.29,238.24 L606.82,238.38 L607.34,238.52 L607.86,238.66 L608.39,238.80 L608.91,238.94 L609.43,239.09 L609.96,239.23 L610.48,239.37 L611.01,239.51 L611.53,239.65 L612.05,239.79 L612.58,239.93 L613.10,240.07 L613.62,240.21 L614.15,240.35 L614.67,240.49 L615.20,240.63 L615.72,240.77 L616.24,240.91 L616.77,241.05 L617.29,241.19 L617.81,241.33 L618.34,241.47 L618.86,241.61 L619.38,241.75 L619.91,241.89 L620.43,242.03 L620.96,242.17 L621.48,242.31 L622.00,242.45 L622.53,242.59 L623.05,242.73 L623.57,242.87 L624.10,243.01 L624.62,243.15 L625.14,243.30 L625.67,243.44 L626.19,243.58 L626.72,243.72 L627.24,243.86 L627.76,244.00 L628.29,244.14 L628.81,244.28 L629.33,244.42 L629.86,244.56 L630.38,244.70 L630.91,244.84 L631.43,244.98 L631.95,245.12 L632.48,245.26 L633.00,245.40" fill="none" stroke="#5656ac" stroke-width="1.05"/>
<polygon points="483.1,264.0 481.2,285.0 480.2,306.5 485.0,299.5 490.5,285.5 487.5,276.5" fill="#2020cc" fill-opacity="0.45"/>
<line x1="403.80" y1="293.70" x2="559.30" y2="336.00" stroke="#59595b" stroke-width="0.9" />
<line x1="403.80" y1="293.70" x2="401.80" y2="296.30" stroke="#59595b" stroke-width="0.9" />
<text x="402.80" y="305.60" font-size="9.9" fill="#231f20" stroke="#231f20" text-anchor="end" >192</text>
<line x1="426.01" y1="299.74" x2="424.01" y2="302.34" stroke="#59595b" stroke-width="0.9" />
<text x="425.01" y="311.64" font-size="9.9" fill="#231f20" stroke="#231f20" text-anchor="end" >187</text>
<line x1="448.23" y1="305.79" x2="446.23" y2="308.39" stroke="#59595b" stroke-width="0.9" />
<text x="447.23" y="317.69" font-size="9.9" fill="#231f20" stroke="#231f20" text-anchor="end" >182</text>
<line x1="470.44" y1="311.83" x2="468.44" y2="314.43" stroke="#59595b" stroke-width="0.9" />
<text x="469.44" y="323.73" font-size="9.9" fill="#231f20" stroke="#231f20" text-anchor="end" >177</text>
<line x1="492.66" y1="317.87" x2="490.66" y2="320.47" stroke="#59595b" stroke-width="0.9" />
<text x="491.66" y="329.77" font-size="9.9" fill="#231f20" stroke="#231f20" text-anchor="end" >172</text>
<line x1="514.87" y1="323.91" x2="512.87" y2="326.51" stroke="#59595b" stroke-width="0.9" />
<text x="513.87" y="335.81" font-size="9.9" fill="#231f20" stroke="#231f20" text-anchor="end" >167</text>
<line x1="537.09" y1="329.96" x2="535.09" y2="332.56" stroke="#59595b" stroke-width="0.9" />
<text x="536.09" y="341.86" font-size="9.9" fill="#231f20" stroke="#231f20" text-anchor="end" >162</text>
<line x1="559.30" y1="336.00" x2="557.30" y2="338.60" stroke="#59595b" stroke-width="0.9" />
<text x="558.30" y="347.90" font-size="9.9" fill="#231f20" stroke="#231f20" text-anchor="end" >157</text>
<line x1="559.30" y1="336.00" x2="562.30" y2="337.00" stroke="#59595b" stroke-width="0.9" />
<text x="565.10" y="342.50" font-size="10.5" fill="#231f20" stroke="#231f20" text-anchor="start" >0</text>
<line x1="575.75" y1="315.78" x2="578.75" y2="316.78" stroke="#59595b" stroke-width="0.9" />
<text x="581.55" y="322.28" font-size="10.5" fill="#231f20" stroke="#231f20" text-anchor="start" >50</text>
<line x1="592.20" y1="295.55" x2="595.20" y2="296.55" stroke="#59595b" stroke-width="0.9" />
<text x="598.00" y="302.05" font-size="10.5" fill="#231f20" stroke="#231f20" text-anchor="start" >100</text>
<line x1="608.65" y1="275.33" x2="611.65" y2="276.33" stroke="#59595b" stroke-width="0.9" />
<text x="614.45" y="281.83" font-size="10.5" fill="#231f20" stroke="#231f20" text-anchor="start" >150</text>
<line x1="625.10" y1="255.11" x2="628.10" y2="256.11" stroke="#59595b" stroke-width="0.9" />
<text x="630.90" y="261.61" font-size="10.5" fill="#231f20" stroke="#231f20" text-anchor="start" >200</text>
<text transform="translate(401.2,327.2) rotate(13) skewX(-6)" font-size="10.9" fill="#231f20" stroke="#231f20"><tspan font-size="7.5" dy="-4.2">13</tspan><tspan dy="4.2">C Chemical Shift (ppm)</tspan></text>
<text transform="translate(598.0,338.0) rotate(-52)" font-size="10.6" fill="#231f20" stroke="#231f20" xml:space="preserve">Time  (seconds)</text>
</svg></body></html>
